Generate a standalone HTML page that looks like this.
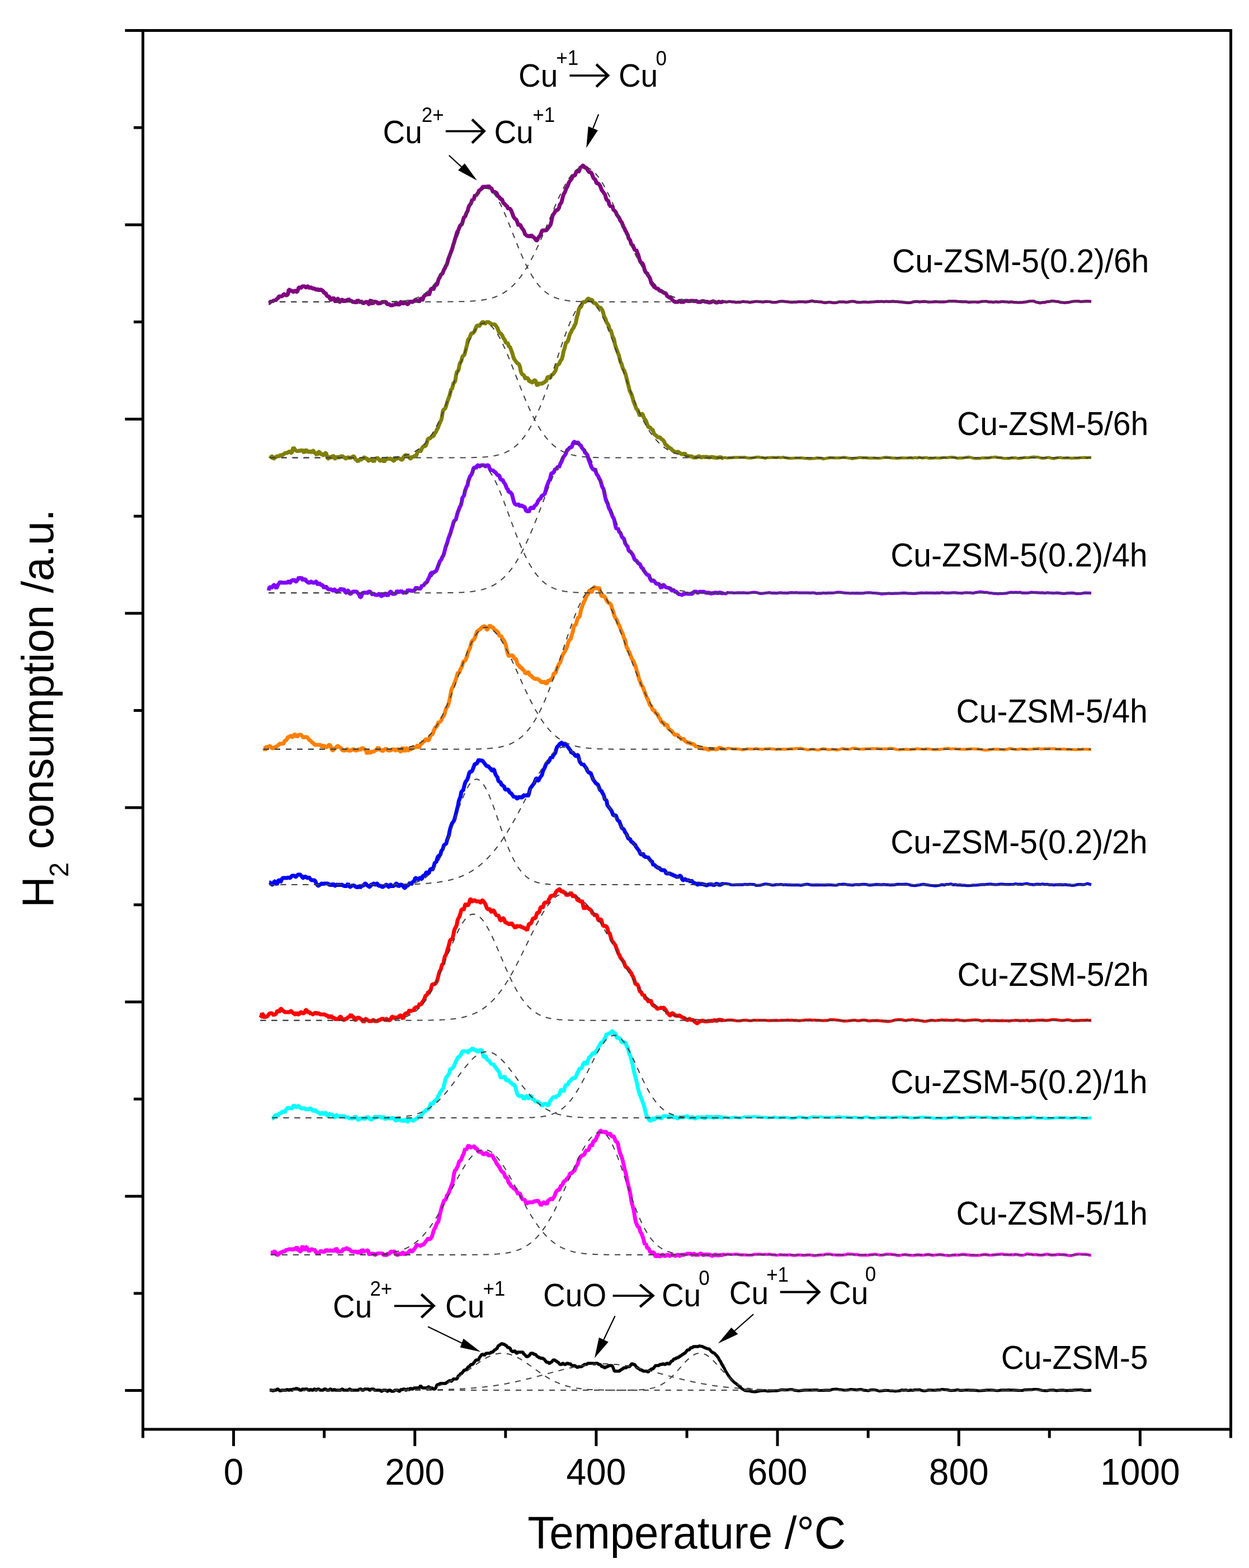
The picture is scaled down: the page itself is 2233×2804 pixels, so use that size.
<!DOCTYPE html>
<html><head><meta charset="utf-8"><title>H2-TPR profiles</title>
<style>html,body{margin:0;padding:0;background:#fff;}svg{display:block;}</style>
</head><body>
<svg width="2233" height="2804" viewBox="0 0 2233 2804">
<rect width="100%" height="100%" fill="#fff"/>
<g fill="none" stroke-width="7" stroke-linejoin="bevel" stroke-linecap="butt">
<path d="M480.3 542.0L481.8 542.0L483.3 540.0L484.8 538.0L486.3 540.0L487.8 538.0L489.3 538.0L490.8 536.0L492.3 538.0L493.8 536.0L495.3 534.0L496.8 534.0L498.3 530.0L499.8 530.0L501.3 530.0L502.8 530.0L504.3 530.0L505.8 528.0L507.3 526.0L508.8 526.0L510.3 528.0L511.8 528.0L513.3 528.0L514.8 526.0L516.3 518.0L517.8 518.0L519.3 520.0L520.8 520.0L522.3 520.0L523.8 522.0L525.3 522.0L526.8 520.0L528.3 520.0L529.8 522.0L531.3 522.0L532.8 518.0L534.3 514.0L535.8 514.0L537.3 516.0L538.8 514.0L540.3 512.0L541.8 512.0L543.3 512.0L544.8 512.0L546.3 514.0L547.8 514.0L549.3 512.0L550.8 512.0L552.3 514.0L553.8 516.0L555.3 514.0L556.8 514.0L558.3 516.0L559.8 516.0L561.3 516.0L562.8 516.0L564.3 518.0L565.8 518.0L567.3 516.0L568.8 518.0L570.3 520.0L571.8 518.0L573.3 518.0L574.8 518.0L576.3 520.0L577.8 520.0L579.3 524.0L580.8 524.0L582.3 524.0L583.8 528.0L585.3 530.0L586.8 530.0L588.3 530.0L589.8 534.0L591.3 536.0L592.8 536.0L594.3 534.0L595.8 532.0L597.3 534.0L598.8 538.0L600.3 540.0L601.8 538.0L603.3 534.0L604.8 534.0L606.3 540.0L607.8 540.0L609.3 538.0L610.8 536.0L612.3 536.0L613.8 538.0L615.3 540.0L616.8 538.0L618.3 536.0L619.8 538.0L621.3 538.0L622.8 534.0L624.3 536.0L625.8 538.0L627.3 538.0L628.8 538.0L630.3 540.0L631.8 540.0L633.3 540.0L634.8 540.0L636.3 542.0L637.8 540.0L639.3 536.0L640.8 538.0L642.3 540.0L643.8 540.0L645.3 538.0L646.8 540.0L648.3 542.0L649.8 542.0L651.3 542.0L652.8 540.0L654.3 540.0L655.8 540.0L657.3 540.0L658.8 544.0L660.3 544.0L661.8 538.0L663.3 536.0L664.8 542.0L666.3 544.0L667.8 540.0L669.3 538.0L670.8 540.0L672.3 540.0L673.8 540.0L675.3 542.0L676.8 544.0L678.3 542.0L679.8 542.0L681.3 542.0L682.8 540.0L684.3 540.0L685.8 540.0L687.3 540.0L688.8 540.0L690.3 540.0L691.8 544.0L693.3 544.0L694.8 544.0L696.3 544.0L697.8 546.0L699.3 546.0L700.8 546.0L702.3 546.0L703.8 544.0L705.3 546.0L706.8 544.0L708.3 542.0L709.8 542.0L711.3 544.0L712.8 546.0L714.3 544.0L715.8 540.0L717.3 540.0L718.8 542.0L720.3 544.0L721.8 542.0L723.3 540.0L724.8 542.0L726.3 542.0L727.8 544.0L729.3 544.0L730.8 542.0L732.3 540.0L733.8 538.0L735.3 540.0L736.8 540.0L738.3 540.0L739.8 538.0L741.3 538.0L742.8 538.0L744.3 538.0L745.8 536.0L747.3 538.0L748.8 540.0L750.3 538.0L751.8 534.0L753.3 534.0L754.8 538.0L756.3 534.0L757.8 530.0L759.3 528.0L760.8 528.0L762.3 526.0L763.8 526.0L765.3 526.0L766.8 528.0L768.3 524.0L769.8 518.0L771.3 516.0L772.8 516.0L774.3 518.0L775.8 516.0L777.3 510.0L778.8 510.0L780.3 510.0L781.8 508.0L783.3 502.0L784.8 498.0L786.3 496.0L787.8 492.0L789.3 490.0L790.8 490.0L792.3 486.0L793.8 482.0L795.3 480.0L796.8 476.0L798.3 474.0L799.8 470.0L801.3 464.0L802.8 460.0L804.3 456.0L805.8 452.0L807.3 448.0L808.8 444.0L810.3 438.0L811.8 434.0L813.3 428.0L814.8 424.0L816.3 418.0L817.8 414.0L819.3 412.0L820.8 408.0L822.3 404.0L823.8 402.0L825.3 402.0L826.8 398.0L828.3 392.0L829.8 388.0L831.3 388.0L832.8 384.0L834.3 380.0L835.8 378.0L837.3 372.0L838.8 368.0L840.3 366.0L841.8 364.0L843.3 360.0L844.8 356.0L846.3 358.0L847.8 354.0L849.3 348.0L850.8 350.0L852.3 348.0L853.8 346.0L855.3 344.0L856.8 340.0L858.3 340.0L859.8 338.0L861.3 338.0L862.8 334.0L864.3 334.0L865.8 334.0L867.3 334.0L868.8 334.0L870.3 334.0L871.8 334.0L873.3 332.0L874.8 334.0L876.3 336.0L877.8 336.0L879.3 338.0L880.8 342.0L882.3 344.0L883.8 342.0L885.3 344.0L886.8 344.0L888.3 346.0L889.8 350.0L891.3 352.0L892.8 352.0L894.3 356.0L895.8 356.0L897.3 356.0L898.8 360.0L900.3 364.0L901.8 364.0L903.3 366.0L904.8 368.0L906.3 368.0L907.8 372.0L909.3 374.0L910.8 372.0L912.3 374.0L913.8 376.0L915.3 380.0L916.8 384.0L918.3 388.0L919.8 390.0L921.3 392.0L922.8 392.0L924.3 396.0L925.8 400.0L927.3 404.0L928.8 402.0L930.3 402.0L931.8 406.0L933.3 408.0L934.8 410.0L936.3 412.0L937.8 416.0L939.3 420.0L940.8 420.0L942.3 422.0L943.8 422.0L945.3 422.0L946.8 424.0L948.3 422.0L949.8 420.0L951.3 422.0L952.8 424.0L954.3 424.0L955.8 426.0L957.3 428.0L958.8 430.0L960.3 430.0L961.8 426.0L963.3 424.0L964.8 422.0L966.3 420.0L967.8 416.0L969.3 412.0L970.8 412.0L972.3 412.0L973.8 412.0L975.3 412.0L976.8 412.0L978.3 410.0L979.8 408.0L981.3 406.0L982.8 404.0L984.3 402.0L985.8 396.0L987.3 388.0L988.8 384.0L990.3 382.0L991.8 380.0L993.3 376.0L994.8 376.0L996.3 376.0L997.8 374.0L999.3 372.0L1000.8 366.0L1002.3 364.0L1003.8 362.0L1005.3 356.0L1006.8 350.0L1008.3 346.0L1009.8 344.0L1011.3 340.0L1012.8 336.0L1014.3 334.0L1015.8 330.0L1017.3 326.0L1018.8 324.0L1020.3 322.0L1021.8 320.0L1023.3 316.0L1024.8 314.0L1026.3 314.0L1027.8 314.0L1029.3 310.0L1030.8 306.0L1032.3 306.0L1033.8 308.0L1035.3 306.0L1036.8 302.0L1038.3 298.0L1039.8 300.0L1041.3 296.0L1042.8 296.0L1044.3 298.0L1045.8 300.0L1047.3 300.0L1048.8 300.0L1050.3 304.0L1051.8 306.0L1053.3 308.0L1054.8 308.0L1056.3 308.0L1057.8 310.0L1059.3 314.0L1060.8 318.0L1062.3 320.0L1063.8 320.0L1065.3 324.0L1066.8 328.0L1068.3 328.0L1069.8 328.0L1071.3 330.0L1072.8 332.0L1074.3 336.0L1075.8 340.0L1077.3 342.0L1078.8 344.0L1080.3 346.0L1081.8 348.0L1083.3 354.0L1084.8 358.0L1086.3 358.0L1087.8 360.0L1089.3 366.0L1090.8 368.0L1092.3 370.0L1093.8 368.0L1095.3 370.0L1096.8 376.0L1098.3 376.0L1099.8 378.0L1101.3 380.0L1102.8 384.0L1104.3 386.0L1105.8 388.0L1107.3 390.0L1108.8 394.0L1110.3 396.0L1111.8 398.0L1113.3 402.0L1114.8 406.0L1116.3 408.0L1117.8 412.0L1119.3 414.0L1120.8 418.0L1122.3 420.0L1123.8 426.0L1125.3 428.0L1126.8 430.0L1128.3 436.0L1129.8 438.0L1131.3 438.0L1132.8 442.0L1134.3 446.0L1135.8 448.0L1137.3 446.0L1138.8 450.0L1140.3 454.0L1141.8 458.0L1143.3 464.0L1144.8 468.0L1146.3 470.0L1147.8 470.0L1149.3 472.0L1150.8 476.0L1152.3 482.0L1153.8 486.0L1155.3 488.0L1156.8 488.0L1158.3 492.0L1159.8 494.0L1161.3 496.0L1162.8 500.0L1164.3 506.0L1165.8 508.0L1167.3 510.0L1168.8 512.0L1170.3 514.0L1171.8 514.0L1173.3 516.0L1174.8 516.0L1176.3 516.0L1177.8 518.0L1179.3 520.0L1180.8 520.0L1182.3 520.0L1183.8 522.0L1185.3 522.0L1186.8 524.0L1188.3 524.0L1189.8 524.0L1191.3 526.0L1192.8 530.0L1194.3 530.0L1195.8 532.0L1197.3 532.0L1198.8 532.0L1200.3 534.0L1201.8 536.0L1203.3 538.0L1204.8 538.0L1206.3 540.0L1207.8 540.0L1209.3 540.0L1210.8 540.0L1212.3 540.0L1213.8 538.0L1215.3 538.0L1216.8 540.0L1218.3 540.0L1219.8 540.0L1221.3 540.0L1222.8 540.0L1224.3 538.0L1225.8 538.0L1227.3 538.0L1228.8 538.0L1230.3 538.0L1231.8 540.0L1233.3 538.0L1234.8 538.0L1236.3 538.0L1237.8 538.0L1239.3 538.0L1240.8 538.0L1242.3 540.0L1243.8 538.0L1245.3 538.0L1246.8 540.0L1248.3 540.0L1249.8 540.0L1251.3 540.1L1252.8 540.0L1254.3 538.9L1255.8 538.5L1257.3 538.4L1258.8 538.9L1260.3 539.3L1261.8 539.7L1263.3 539.2L1264.8 539.7L1266.3 540.9L1267.8 540.7L1269.3 541.2L1270.8 540.0L1272.3 539.9L1273.8 538.8L1275.3 539.1L1276.8 539.2L1278.3 540.1L1279.8 540.9L1281.3 541.0L1282.8 540.9L1284.3 539.6L1285.8 539.7L1287.3 540.1L1288.8 540.4L1290.3 540.1L1291.8 539.5L1293.3 539.4" stroke="#800080" stroke-width="7"/>
<path d="M1290.3 540.1L1291.8 539.5L1293.3 539.4L1294.8 539.6L1296.3 539.4L1297.8 540.3L1299.3 540.0L1300.0 540.0L1304.0 539.0L1308.0 539.8L1312.0 539.9L1316.0 540.6L1320.0 540.2L1324.0 540.3L1328.0 539.2L1332.0 539.6L1336.0 539.8L1340.0 540.6L1344.0 540.1L1348.0 539.7L1352.0 539.0L1356.0 539.4L1360.0 539.7L1364.0 540.1L1368.0 539.4L1372.0 539.4L1376.0 539.5L1380.0 540.4L1384.0 540.7L1388.0 540.5L1392.0 539.4L1396.0 538.9L1400.0 538.8L1404.0 539.3L1408.0 539.6L1412.0 540.2L1416.0 540.3L1420.0 540.1L1424.0 540.1L1428.0 539.5L1432.0 539.6L1436.0 539.7L1440.0 540.1L1444.0 539.7L1448.0 538.9L1452.0 538.1L1456.0 539.3L1460.0 539.2L1464.0 539.8L1468.0 539.8L1472.0 540.9L1476.0 541.4L1480.0 540.5L1484.0 540.4L1488.0 541.1L1492.0 541.3L1496.0 541.1L1500.0 539.8L1504.0 539.8L1508.0 539.8L1512.0 540.4L1516.0 540.1L1520.0 539.4L1524.0 538.8L1528.0 539.3L1532.0 540.4L1536.0 540.7L1540.0 540.4L1544.0 540.0L1548.0 540.2L1552.0 540.5L1556.0 540.2L1560.0 540.0L1564.0 539.7L1568.0 539.1L1572.0 539.4L1576.0 539.0L1580.0 539.6L1584.0 539.0L1588.0 539.3L1592.0 539.4L1596.0 538.9L1600.0 539.3L1604.0 539.4L1608.0 540.0L1612.0 540.2L1616.0 540.6L1620.0 541.2L1624.0 541.5L1628.0 541.2L1632.0 540.0L1636.0 539.4L1640.0 539.2L1644.0 539.9L1648.0 539.5L1652.0 539.2L1656.0 539.5L1660.0 540.1L1664.0 540.0L1668.0 539.9L1672.0 539.4L1676.0 539.7L1680.0 539.8L1684.0 539.8L1688.0 539.8L1692.0 539.5L1696.0 538.7L1700.0 538.7L1704.0 538.5L1708.0 538.7L1712.0 539.1L1716.0 539.3L1720.0 539.7L1724.0 539.5L1728.0 539.7L1732.0 540.4L1736.0 540.1L1740.0 540.0L1744.0 540.0L1748.0 540.3L1752.0 539.8L1756.0 539.1L1760.0 539.0L1764.0 538.9L1768.0 540.0L1772.0 539.9L1776.0 540.4L1780.0 539.7L1784.0 540.2L1788.0 539.9L1792.0 539.3L1796.0 539.7L1800.0 539.8L1804.0 540.4L1808.0 539.8L1812.0 540.3L1816.0 540.6L1820.0 541.0L1824.0 540.8L1828.0 540.6L1832.0 540.2L1836.0 539.6L1840.0 538.7L1844.0 538.5L1848.0 538.4L1852.0 540.2L1856.0 540.9L1860.0 541.9L1864.0 540.6L1868.0 540.8L1872.0 539.6L1876.0 539.4L1880.0 538.2L1884.0 538.5L1888.0 539.1L1892.0 539.4L1896.0 540.6L1900.0 541.0L1904.0 541.4L1908.0 540.8L1912.0 540.3L1916.0 539.5L1920.0 538.8L1924.0 538.5L1928.0 538.6L1932.0 539.5L1936.0 539.2L1940.0 538.8L1944.0 538.6L1948.0 538.8L1951.0 539.4" stroke="#800080" stroke-width="5.2"/>
<path d="M482.6 820.0L484.1 818.0L485.6 816.0L487.1 816.0L488.6 820.0L490.1 820.0L491.6 818.0L493.1 818.0L494.6 816.0L496.1 816.0L497.6 816.0L499.1 816.0L500.6 814.0L502.1 814.0L503.6 814.0L505.1 814.0L506.6 812.0L508.1 812.0L509.6 810.0L511.1 810.0L512.6 810.0L514.1 810.0L515.6 808.0L517.1 808.0L518.6 806.0L520.1 810.0L521.6 810.0L523.1 804.0L524.6 800.0L526.1 802.0L527.6 804.0L529.1 806.0L530.6 806.0L532.1 808.0L533.6 806.0L535.1 806.0L536.6 806.0L538.1 806.0L539.6 804.0L541.1 806.0L542.6 808.0L544.1 810.0L545.6 806.0L547.1 804.0L548.6 806.0L550.1 808.0L551.6 808.0L553.1 808.0L554.6 806.0L556.1 808.0L557.6 810.0L559.1 806.0L560.6 806.0L562.1 810.0L563.6 810.0L565.1 812.0L566.6 814.0L568.1 810.0L569.6 808.0L571.1 808.0L572.6 812.0L574.1 812.0L575.6 812.0L577.1 814.0L578.6 814.0L580.1 812.0L581.6 810.0L583.1 810.0L584.6 816.0L586.1 820.0L587.6 820.0L589.1 818.0L590.6 816.0L592.1 818.0L593.6 818.0L595.1 814.0L596.6 816.0L598.1 820.0L599.6 820.0L601.1 818.0L602.6 816.0L604.1 818.0L605.6 818.0L607.1 818.0L608.6 816.0L610.1 816.0L611.6 816.0L613.1 816.0L614.6 818.0L616.1 818.0L617.6 820.0L619.1 820.0L620.6 818.0L622.1 818.0L623.6 818.0L625.1 820.0L626.6 818.0L628.1 818.0L629.6 818.0L631.1 816.0L632.6 816.0L634.1 818.0L635.6 822.0L637.1 822.0L638.6 824.0L640.1 826.0L641.6 822.0L643.1 822.0L644.6 822.0L646.1 822.0L647.6 820.0L649.1 820.0L650.6 818.0L652.1 818.0L653.6 820.0L655.1 820.0L656.6 820.0L658.1 824.0L659.6 824.0L661.1 822.0L662.6 822.0L664.1 822.0L665.6 824.0L667.1 824.0L668.6 826.0L670.1 822.0L671.6 820.0L673.1 820.0L674.6 818.0L676.1 820.0L677.6 822.0L679.1 824.0L680.6 824.0L682.1 822.0L683.6 822.0L685.1 824.0L686.6 826.0L688.1 824.0L689.6 822.0L691.1 820.0L692.6 820.0L694.1 820.0L695.6 822.0L697.1 820.0L698.6 820.0L700.1 822.0L701.6 822.0L703.1 824.0L704.6 824.0L706.1 822.0L707.6 820.0L709.1 820.0L710.6 820.0L712.1 818.0L713.6 820.0L715.1 820.0L716.6 822.0L718.1 822.0L719.6 822.0L721.1 818.0L722.6 816.0L724.1 814.0L725.6 814.0L727.1 814.0L728.6 816.0L730.1 816.0L731.6 818.0L733.1 820.0L734.6 820.0L736.1 818.0L737.6 816.0L739.1 818.0L740.6 816.0L742.1 814.0L743.6 816.0L745.1 812.0L746.6 808.0L748.1 806.0L749.6 806.0L751.1 808.0L752.6 806.0L754.1 802.0L755.6 800.0L757.1 798.0L758.6 798.0L760.1 798.0L761.6 796.0L763.1 792.0L764.6 786.0L766.1 784.0L767.6 784.0L769.1 784.0L770.6 782.0L772.1 780.0L773.6 780.0L775.1 780.0L776.6 776.0L778.1 774.0L779.6 772.0L781.1 768.0L782.6 766.0L784.1 762.0L785.6 758.0L787.1 754.0L788.6 752.0L790.1 746.0L791.6 736.0L793.1 732.0L794.6 732.0L796.1 730.0L797.6 726.0L799.1 720.0L800.6 716.0L802.1 712.0L803.6 708.0L805.1 702.0L806.6 696.0L808.1 696.0L809.6 690.0L811.1 684.0L812.6 684.0L814.1 680.0L815.6 670.0L817.1 664.0L818.6 664.0L820.1 660.0L821.6 652.0L823.1 648.0L824.6 646.0L826.1 640.0L827.6 636.0L829.1 636.0L830.6 634.0L832.1 628.0L833.6 622.0L835.1 616.0L836.6 608.0L838.1 606.0L839.6 604.0L841.1 600.0L842.6 596.0L844.1 596.0L845.6 596.0L847.1 594.0L848.6 592.0L850.1 588.0L851.6 584.0L853.1 582.0L854.6 582.0L856.1 584.0L857.6 582.0L859.1 580.0L860.6 578.0L862.1 576.0L863.6 576.0L865.1 576.0L866.6 580.0L868.1 578.0L869.6 576.0L871.1 576.0L872.6 576.0L874.1 576.0L875.6 578.0L877.1 578.0L878.6 580.0L880.1 580.0L881.6 580.0L883.1 580.0L884.6 580.0L886.1 582.0L887.6 584.0L889.1 586.0L890.6 590.0L892.1 594.0L893.6 596.0L895.1 596.0L896.6 598.0L898.1 600.0L899.6 604.0L901.1 606.0L902.6 608.0L904.1 612.0L905.6 614.0L907.1 612.0L908.6 616.0L910.1 620.0L911.6 620.0L913.1 624.0L914.6 628.0L916.1 632.0L917.6 638.0L919.1 642.0L920.6 644.0L922.1 646.0L923.6 648.0L925.1 650.0L926.6 650.0L928.1 652.0L929.6 656.0L931.1 664.0L932.6 668.0L934.1 670.0L935.6 670.0L937.1 672.0L938.6 676.0L940.1 678.0L941.6 676.0L943.1 676.0L944.6 678.0L946.1 682.0L947.6 682.0L949.1 682.0L950.6 684.0L952.1 684.0L953.6 682.0L955.1 680.0L956.6 680.0L958.1 682.0L959.6 688.0L961.1 690.0L962.6 686.0L964.1 686.0L965.6 686.0L967.1 686.0L968.6 686.0L970.1 686.0L971.6 684.0L973.1 684.0L974.6 682.0L976.1 682.0L977.6 678.0L979.1 674.0L980.6 674.0L982.1 676.0L983.6 676.0L985.1 672.0L986.6 670.0L988.1 670.0L989.6 668.0L991.1 666.0L992.6 664.0L994.1 660.0L995.6 654.0L997.1 652.0L998.6 652.0L1000.1 650.0L1001.6 646.0L1003.1 644.0L1004.6 642.0L1006.1 636.0L1007.6 628.0L1009.1 624.0L1010.6 618.0L1012.1 612.0L1013.6 612.0L1015.1 610.0L1016.6 606.0L1018.1 600.0L1019.6 596.0L1021.1 594.0L1022.6 590.0L1024.1 588.0L1025.6 586.0L1027.1 582.0L1028.6 580.0L1030.1 574.0L1031.6 566.0L1033.1 562.0L1034.6 554.0L1036.1 550.0L1037.6 550.0L1039.1 548.0L1040.6 544.0L1042.1 540.0L1043.6 540.0L1045.1 540.0L1046.6 540.0L1048.1 538.0L1049.6 536.0L1051.1 534.0L1052.6 534.0L1054.1 536.0L1055.6 536.0L1057.1 536.0L1058.6 536.0L1060.1 540.0L1061.6 542.0L1063.1 542.0L1064.6 542.0L1066.1 544.0L1067.6 546.0L1069.1 548.0L1070.6 550.0L1072.1 550.0L1073.6 550.0L1075.1 552.0L1076.6 554.0L1078.1 558.0L1079.6 564.0L1081.1 568.0L1082.6 570.0L1084.1 576.0L1085.6 578.0L1087.1 580.0L1088.6 584.0L1090.1 590.0L1091.6 590.0L1093.1 594.0L1094.6 600.0L1096.1 604.0L1097.6 606.0L1099.1 614.0L1100.6 620.0L1102.1 624.0L1103.6 628.0L1105.1 632.0L1106.6 636.0L1108.1 642.0L1109.6 648.0L1111.1 650.0L1112.6 656.0L1114.1 660.0L1115.6 662.0L1117.1 666.0L1118.6 670.0L1120.1 676.0L1121.6 682.0L1123.1 688.0L1124.6 694.0L1126.1 700.0L1127.6 702.0L1129.1 706.0L1130.6 710.0L1132.1 716.0L1133.6 720.0L1135.1 724.0L1136.6 728.0L1138.1 732.0L1139.6 732.0L1141.1 736.0L1142.6 740.0L1144.1 744.0L1145.6 742.0L1147.1 740.0L1148.6 740.0L1150.1 744.0L1151.6 748.0L1153.1 750.0L1154.6 752.0L1156.1 756.0L1157.6 760.0L1159.1 764.0L1160.6 764.0L1162.1 764.0L1163.6 766.0L1165.1 768.0L1166.6 768.0L1168.1 772.0L1169.6 776.0L1171.1 778.0L1172.6 778.0L1174.1 780.0L1175.6 782.0L1177.1 782.0L1178.6 782.0L1180.1 782.0L1181.6 784.0L1183.1 786.0L1184.6 786.0L1186.1 788.0L1187.6 790.0L1189.1 794.0L1190.6 796.0L1192.1 796.0L1193.6 798.0L1195.1 800.0L1196.6 800.0L1198.1 802.0L1199.6 802.0L1201.1 804.0L1202.6 806.0L1204.1 806.0L1205.6 808.0L1207.1 808.0L1208.6 810.0L1210.1 808.0L1211.6 808.0L1213.1 808.0L1214.6 810.0L1216.1 810.0L1217.6 812.0L1219.1 812.0L1220.6 812.0L1222.1 812.0L1223.6 810.0L1225.1 812.0L1226.6 814.0L1228.1 816.0L1229.6 814.0L1231.1 816.0L1232.6 816.0L1234.1 816.0L1235.6 816.0L1237.1 816.0L1238.6 818.0L1240.1 818.0L1241.6 818.0L1243.1 818.0L1244.6 818.0L1246.1 818.0L1247.6 816.0L1249.1 816.0L1250.6 816.2L1252.1 817.0L1253.6 818.3L1255.1 817.6L1256.6 817.0L1258.1 816.9L1259.6 817.4L1261.1 817.4L1262.6 816.9L1264.1 817.1L1265.6 817.6L1267.1 818.2L1268.6 817.7L1270.1 817.9L1271.6 817.1L1273.1 817.3L1274.6 817.5L1276.1 818.4L1277.6 817.8L1279.1 818.2L1280.6 818.9L1282.1 818.7L1283.6 818.4L1285.1 818.0L1286.6 817.7L1288.1 817.7L1289.6 817.9L1291.1 819.3L1292.6 819.2" stroke="#808000" stroke-width="7"/>
<path d="M1291.1 819.3L1292.6 819.2L1294.1 818.6L1295.6 818.1L1297.1 818.3L1298.6 819.0L1300.0 819.0L1304.0 818.7L1308.0 818.6L1312.0 817.9L1316.0 818.2L1320.0 817.8L1324.0 817.8L1328.0 817.9L1332.0 817.7L1336.0 818.9L1340.0 819.1L1344.0 819.0L1348.0 818.2L1352.0 817.6L1356.0 817.4L1360.0 818.2L1364.0 818.3L1368.0 819.4L1372.0 818.3L1376.0 818.4L1380.0 818.2L1384.0 818.2L1388.0 818.4L1392.0 817.7L1396.0 818.5L1400.0 817.6L1404.0 818.5L1408.0 819.1L1412.0 819.6L1416.0 819.3L1420.0 819.2L1424.0 819.0L1428.0 819.0L1432.0 818.8L1436.0 819.1L1440.0 819.7L1444.0 819.9L1448.0 820.5L1452.0 819.9L1456.0 819.9L1460.0 818.8L1464.0 819.1L1468.0 819.4L1472.0 820.7L1476.0 819.8L1480.0 819.1L1484.0 818.4L1488.0 818.6L1492.0 818.9L1496.0 818.8L1500.0 818.9L1504.0 818.5L1508.0 817.9L1512.0 818.3L1516.0 819.0L1520.0 819.4L1524.0 820.4L1528.0 819.3L1532.0 819.0L1536.0 818.2L1540.0 818.3L1544.0 818.7L1548.0 818.7L1552.0 819.2L1556.0 819.0L1560.0 819.1L1564.0 819.2L1568.0 819.5L1572.0 819.4L1576.0 819.0L1580.0 818.2L1584.0 817.9L1588.0 818.2L1592.0 818.6L1596.0 819.1L1600.0 819.1L1604.0 819.6L1608.0 819.2L1612.0 818.9L1616.0 818.8L1620.0 819.0L1624.0 818.9L1628.0 818.4L1632.0 819.3L1636.0 818.3L1640.0 818.9L1644.0 817.8L1648.0 819.1L1652.0 818.6L1656.0 818.3L1660.0 819.3L1664.0 819.2L1668.0 819.3L1672.0 818.7L1676.0 819.0L1680.0 819.1L1684.0 818.6L1688.0 818.0L1692.0 818.5L1696.0 818.1L1700.0 817.7L1704.0 817.7L1708.0 818.4L1712.0 819.5L1716.0 818.9L1720.0 819.1L1724.0 818.5L1728.0 817.8L1732.0 817.4L1736.0 818.2L1740.0 819.3L1744.0 820.0L1748.0 820.0L1752.0 819.7L1756.0 818.8L1760.0 818.8L1764.0 818.9L1768.0 818.9L1772.0 817.8L1776.0 817.7L1780.0 817.3L1784.0 818.1L1788.0 818.3L1792.0 819.1L1796.0 819.7L1800.0 819.6L1804.0 819.9L1808.0 818.7L1812.0 818.8L1816.0 818.6L1820.0 819.9L1824.0 819.4L1828.0 818.9L1832.0 818.1L1836.0 818.5L1840.0 818.3L1844.0 817.5L1848.0 817.1L1852.0 817.4L1856.0 817.6L1860.0 818.8L1864.0 819.3L1868.0 819.1L1872.0 818.2L1876.0 818.2L1880.0 819.5L1884.0 820.2L1888.0 819.1L1892.0 818.3L1896.0 818.4L1900.0 819.0L1904.0 819.0L1908.0 818.7L1912.0 819.0L1916.0 819.3L1920.0 819.2L1924.0 819.2L1928.0 818.9L1932.0 818.5L1936.0 818.3L1940.0 818.1L1944.0 818.6L1948.0 818.0L1951.0 818.5" stroke="#808000" stroke-width="5.2"/>
<path d="M480.3 1056.0L481.8 1050.0L483.3 1050.0L484.8 1052.0L486.3 1050.0L487.8 1048.0L489.3 1046.0L490.8 1046.0L492.3 1050.0L493.8 1052.0L495.3 1050.0L496.8 1046.0L498.3 1044.0L499.8 1042.0L501.3 1040.0L502.8 1042.0L504.3 1042.0L505.8 1042.0L507.3 1042.0L508.8 1042.0L510.3 1042.0L511.8 1042.0L513.3 1042.0L514.8 1040.0L516.3 1040.0L517.8 1042.0L519.3 1042.0L520.8 1038.0L522.3 1038.0L523.8 1038.0L525.3 1036.0L526.8 1038.0L528.3 1040.0L529.8 1040.0L531.3 1038.0L532.8 1036.0L534.3 1032.0L535.8 1034.0L537.3 1034.0L538.8 1032.0L540.3 1036.0L541.8 1038.0L543.3 1036.0L544.8 1036.0L546.3 1036.0L547.8 1040.0L549.3 1040.0L550.8 1042.0L552.3 1042.0L553.8 1042.0L555.3 1040.0L556.8 1040.0L558.3 1042.0L559.8 1042.0L561.3 1042.0L562.8 1042.0L564.3 1040.0L565.8 1040.0L567.3 1044.0L568.8 1046.0L570.3 1042.0L571.8 1044.0L573.3 1046.0L574.8 1046.0L576.3 1046.0L577.8 1048.0L579.3 1052.0L580.8 1050.0L582.3 1048.0L583.8 1050.0L585.3 1052.0L586.8 1054.0L588.3 1054.0L589.8 1054.0L591.3 1054.0L592.8 1054.0L594.3 1056.0L595.8 1056.0L597.3 1054.0L598.8 1054.0L600.3 1058.0L601.8 1058.0L603.3 1058.0L604.8 1056.0L606.3 1056.0L607.8 1054.0L609.3 1052.0L610.8 1054.0L612.3 1056.0L613.8 1054.0L615.3 1054.0L616.8 1058.0L618.3 1060.0L619.8 1060.0L621.3 1056.0L622.8 1056.0L624.3 1060.0L625.8 1062.0L627.3 1062.0L628.8 1060.0L630.3 1058.0L631.8 1058.0L633.3 1058.0L634.8 1058.0L636.3 1058.0L637.8 1058.0L639.3 1060.0L640.8 1062.0L642.3 1064.0L643.8 1068.0L645.3 1068.0L646.8 1064.0L648.3 1060.0L649.8 1060.0L651.3 1060.0L652.8 1060.0L654.3 1058.0L655.8 1062.0L657.3 1060.0L658.8 1058.0L660.3 1058.0L661.8 1058.0L663.3 1060.0L664.8 1062.0L666.3 1064.0L667.8 1062.0L669.3 1062.0L670.8 1064.0L672.3 1064.0L673.8 1064.0L675.3 1064.0L676.8 1062.0L678.3 1062.0L679.8 1064.0L681.3 1066.0L682.8 1066.0L684.3 1064.0L685.8 1064.0L687.3 1064.0L688.8 1062.0L690.3 1060.0L691.8 1064.0L693.3 1066.0L694.8 1062.0L696.3 1060.0L697.8 1058.0L699.3 1058.0L700.8 1062.0L702.3 1062.0L703.8 1062.0L705.3 1062.0L706.8 1062.0L708.3 1060.0L709.8 1056.0L711.3 1058.0L712.8 1060.0L714.3 1058.0L715.8 1058.0L717.3 1056.0L718.8 1058.0L720.3 1060.0L721.8 1060.0L723.3 1058.0L724.8 1060.0L726.3 1060.0L727.8 1058.0L729.3 1054.0L730.8 1056.0L732.3 1056.0L733.8 1056.0L735.3 1056.0L736.8 1058.0L738.3 1056.0L739.8 1056.0L741.3 1056.0L742.8 1052.0L744.3 1050.0L745.8 1052.0L747.3 1052.0L748.8 1052.0L750.3 1054.0L751.8 1052.0L753.3 1050.0L754.8 1046.0L756.3 1048.0L757.8 1046.0L759.3 1044.0L760.8 1042.0L762.3 1042.0L763.8 1040.0L765.3 1036.0L766.8 1034.0L768.3 1030.0L769.8 1026.0L771.3 1024.0L772.8 1024.0L774.3 1024.0L775.8 1024.0L777.3 1022.0L778.8 1022.0L780.3 1020.0L781.8 1016.0L783.3 1012.0L784.8 1008.0L786.3 1004.0L787.8 1002.0L789.3 1000.0L790.8 996.0L792.3 994.0L793.8 990.0L795.3 984.0L796.8 978.0L798.3 974.0L799.8 970.0L801.3 964.0L802.8 960.0L804.3 956.0L805.8 952.0L807.3 946.0L808.8 942.0L810.3 936.0L811.8 932.0L813.3 930.0L814.8 930.0L816.3 924.0L817.8 918.0L819.3 914.0L820.8 910.0L822.3 906.0L823.8 904.0L825.3 898.0L826.8 890.0L828.3 888.0L829.8 886.0L831.3 878.0L832.8 874.0L834.3 870.0L835.8 868.0L837.3 860.0L838.8 856.0L840.3 852.0L841.8 850.0L843.3 848.0L844.8 844.0L846.3 838.0L847.8 836.0L849.3 836.0L850.8 838.0L852.3 834.0L853.8 832.0L855.3 832.0L856.8 834.0L858.3 834.0L859.8 832.0L861.3 832.0L862.8 832.0L864.3 832.0L865.8 832.0L867.3 834.0L868.8 834.0L870.3 832.0L871.8 832.0L873.3 832.0L874.8 836.0L876.3 840.0L877.8 840.0L879.3 842.0L880.8 840.0L882.3 842.0L883.8 844.0L885.3 844.0L886.8 846.0L888.3 848.0L889.8 850.0L891.3 850.0L892.8 850.0L894.3 856.0L895.8 858.0L897.3 858.0L898.8 858.0L900.3 862.0L901.8 864.0L903.3 866.0L904.8 870.0L906.3 874.0L907.8 874.0L909.3 880.0L910.8 880.0L912.3 880.0L913.8 882.0L915.3 884.0L916.8 890.0L918.3 896.0L919.8 900.0L921.3 902.0L922.8 902.0L924.3 904.0L925.8 902.0L927.3 902.0L928.8 904.0L930.3 906.0L931.8 904.0L933.3 904.0L934.8 906.0L936.3 906.0L937.8 906.0L939.3 910.0L940.8 914.0L942.3 914.0L943.8 914.0L945.3 916.0L946.8 912.0L948.3 908.0L949.8 908.0L951.3 908.0L952.8 910.0L954.3 908.0L955.8 904.0L957.3 904.0L958.8 902.0L960.3 900.0L961.8 896.0L963.3 894.0L964.8 892.0L966.3 892.0L967.8 888.0L969.3 886.0L970.8 886.0L972.3 884.0L973.8 884.0L975.3 878.0L976.8 872.0L978.3 868.0L979.8 864.0L981.3 860.0L982.8 858.0L984.3 852.0L985.8 846.0L987.3 846.0L988.8 846.0L990.3 844.0L991.8 840.0L993.3 838.0L994.8 840.0L996.3 836.0L997.8 834.0L999.3 836.0L1000.8 832.0L1002.3 828.0L1003.8 826.0L1005.3 822.0L1006.8 818.0L1008.3 816.0L1009.8 814.0L1011.3 812.0L1012.8 808.0L1014.3 804.0L1015.8 804.0L1017.3 802.0L1018.8 800.0L1020.3 800.0L1021.8 800.0L1023.3 796.0L1024.8 792.0L1026.3 790.0L1027.8 790.0L1029.3 794.0L1030.8 792.0L1032.3 790.0L1033.8 792.0L1035.3 794.0L1036.8 796.0L1038.3 796.0L1039.8 800.0L1041.3 802.0L1042.8 804.0L1044.3 804.0L1045.8 810.0L1047.3 810.0L1048.8 812.0L1050.3 814.0L1051.8 820.0L1053.3 824.0L1054.8 828.0L1056.3 832.0L1057.8 836.0L1059.3 838.0L1060.8 840.0L1062.3 840.0L1063.8 838.0L1065.3 844.0L1066.8 848.0L1068.3 850.0L1069.8 852.0L1071.3 856.0L1072.8 858.0L1074.3 862.0L1075.8 868.0L1077.3 872.0L1078.8 874.0L1080.3 880.0L1081.8 888.0L1083.3 894.0L1084.8 898.0L1086.3 900.0L1087.8 906.0L1089.3 910.0L1090.8 912.0L1092.3 916.0L1093.8 920.0L1095.3 924.0L1096.8 926.0L1098.3 930.0L1099.8 938.0L1101.3 944.0L1102.8 946.0L1104.3 944.0L1105.8 948.0L1107.3 952.0L1108.8 952.0L1110.3 956.0L1111.8 960.0L1113.3 962.0L1114.8 962.0L1116.3 966.0L1117.8 972.0L1119.3 974.0L1120.8 976.0L1122.3 978.0L1123.8 984.0L1125.3 986.0L1126.8 986.0L1128.3 988.0L1129.8 990.0L1131.3 992.0L1132.8 996.0L1134.3 1000.0L1135.8 1002.0L1137.3 1002.0L1138.8 1004.0L1140.3 1006.0L1141.8 1008.0L1143.3 1008.0L1144.8 1010.0L1146.3 1014.0L1147.8 1016.0L1149.3 1016.0L1150.8 1020.0L1152.3 1022.0L1153.8 1024.0L1155.3 1026.0L1156.8 1028.0L1158.3 1028.0L1159.8 1028.0L1161.3 1032.0L1162.8 1036.0L1164.3 1038.0L1165.8 1040.0L1167.3 1038.0L1168.8 1038.0L1170.3 1040.0L1171.8 1042.0L1173.3 1044.0L1174.8 1044.0L1176.3 1044.0L1177.8 1044.0L1179.3 1046.0L1180.8 1050.0L1182.3 1052.0L1183.8 1048.0L1185.3 1046.0L1186.8 1046.0L1188.3 1048.0L1189.8 1050.0L1191.3 1050.0L1192.8 1052.0L1194.3 1050.0L1195.8 1052.0L1197.3 1052.0L1198.8 1052.0L1200.3 1056.0L1201.8 1056.0L1203.3 1054.0L1204.8 1056.0L1206.3 1058.0L1207.8 1058.0L1209.3 1058.0L1210.8 1060.0L1212.3 1062.0L1213.8 1062.0L1215.3 1064.0L1216.8 1062.0L1218.3 1064.0L1219.8 1064.0L1221.3 1062.0L1222.8 1062.0L1224.3 1062.0L1225.8 1062.0L1227.3 1060.0L1228.8 1062.0L1230.3 1062.0L1231.8 1062.0L1233.3 1062.0L1234.8 1062.0L1236.3 1062.0L1237.8 1062.0L1239.3 1060.0L1240.8 1058.0L1242.3 1058.0L1243.8 1058.0L1245.3 1058.0L1246.8 1060.0L1248.3 1060.0L1249.8 1058.0L1251.3 1058.3L1252.8 1058.3L1254.3 1058.5L1255.8 1058.7L1257.3 1057.8L1258.8 1058.7L1260.3 1058.8L1261.8 1059.9L1263.3 1060.1L1264.8 1060.2L1266.3 1059.8L1267.8 1059.9L1269.3 1060.8L1270.8 1061.4L1272.3 1061.2L1273.8 1060.6L1275.3 1060.8L1276.8 1060.0L1278.3 1060.3L1279.8 1059.2L1281.3 1060.5L1282.8 1060.1L1284.3 1060.6L1285.8 1059.5L1287.3 1059.7L1288.8 1060.0L1290.3 1061.3L1291.8 1060.7L1293.3 1060.1" stroke="#8000FF" stroke-width="7"/>
<path d="M1290.3 1061.3L1291.8 1060.7L1293.3 1060.1L1294.8 1061.1L1296.3 1062.0L1297.8 1062.2L1299.3 1060.8L1300.0 1059.3L1304.0 1060.0L1308.0 1059.9L1312.0 1060.4L1316.0 1060.2L1320.0 1059.9L1324.0 1060.1L1328.0 1059.8L1332.0 1060.2L1336.0 1060.5L1340.0 1060.2L1344.0 1059.5L1348.0 1059.1L1352.0 1059.5L1356.0 1060.6L1360.0 1061.4L1364.0 1061.2L1368.0 1060.5L1372.0 1060.2L1376.0 1059.7L1380.0 1060.6L1384.0 1060.4L1388.0 1060.9L1392.0 1060.2L1396.0 1059.9L1400.0 1060.5L1404.0 1060.4L1408.0 1060.6L1412.0 1059.9L1416.0 1059.7L1420.0 1060.0L1424.0 1059.6L1428.0 1060.2L1432.0 1060.2L1436.0 1060.0L1440.0 1060.2L1444.0 1060.2L1448.0 1060.4L1452.0 1060.1L1456.0 1060.2L1460.0 1061.4L1464.0 1060.9L1468.0 1061.1L1472.0 1060.3L1476.0 1060.9L1480.0 1060.4L1484.0 1060.4L1488.0 1060.4L1492.0 1060.0L1496.0 1059.2L1500.0 1059.0L1504.0 1059.3L1508.0 1060.2L1512.0 1060.4L1516.0 1060.5L1520.0 1061.0L1524.0 1060.7L1528.0 1060.8L1532.0 1060.7L1536.0 1060.9L1540.0 1060.9L1544.0 1060.6L1548.0 1060.0L1552.0 1059.8L1556.0 1059.8L1560.0 1060.5L1564.0 1060.5L1568.0 1060.8L1572.0 1061.3L1576.0 1062.3L1580.0 1062.0L1584.0 1061.7L1588.0 1061.0L1592.0 1061.3L1596.0 1061.3L1600.0 1061.2L1604.0 1061.2L1608.0 1061.0L1612.0 1060.7L1616.0 1060.4L1620.0 1060.6L1624.0 1061.2L1628.0 1061.2L1632.0 1061.3L1636.0 1061.4L1640.0 1060.9L1644.0 1060.5L1648.0 1060.1L1652.0 1060.5L1656.0 1060.2L1660.0 1060.4L1664.0 1060.3L1668.0 1060.3L1672.0 1060.7L1676.0 1060.2L1680.0 1060.6L1684.0 1059.6L1688.0 1060.1L1692.0 1060.4L1696.0 1060.3L1700.0 1060.2L1704.0 1059.9L1708.0 1059.9L1712.0 1060.4L1716.0 1060.5L1720.0 1060.8L1724.0 1060.0L1728.0 1059.8L1732.0 1060.0L1736.0 1060.1L1740.0 1060.7L1744.0 1059.6L1748.0 1059.0L1752.0 1058.4L1756.0 1058.6L1760.0 1059.5L1764.0 1059.3L1768.0 1060.3L1772.0 1060.5L1776.0 1061.3L1780.0 1061.4L1784.0 1061.8L1788.0 1061.4L1792.0 1061.5L1796.0 1061.2L1800.0 1060.8L1804.0 1059.8L1808.0 1059.1L1812.0 1059.6L1816.0 1059.1L1820.0 1059.7L1824.0 1059.2L1828.0 1060.4L1832.0 1060.4L1836.0 1060.4L1840.0 1060.1L1844.0 1059.1L1848.0 1059.5L1852.0 1059.7L1856.0 1059.9L1860.0 1060.1L1864.0 1059.9L1868.0 1060.7L1872.0 1059.8L1876.0 1060.1L1880.0 1060.3L1884.0 1060.8L1888.0 1060.2L1892.0 1060.3L1896.0 1060.8L1900.0 1061.3L1904.0 1061.4L1908.0 1060.7L1912.0 1060.6L1916.0 1060.3L1920.0 1060.6L1924.0 1061.7L1928.0 1061.7L1932.0 1061.5L1936.0 1060.7L1940.0 1060.1L1944.0 1060.4L1948.0 1060.4L1951.0 1060.8" stroke="#8000FF" stroke-width="5.2"/>
<path d="M471.0 1338.0L472.5 1338.0L474.0 1342.0L475.5 1338.0L477.0 1334.0L478.5 1336.0L480.0 1336.0L481.5 1334.0L483.0 1334.0L484.5 1336.0L486.0 1338.0L487.5 1338.0L489.0 1338.0L490.5 1336.0L492.0 1336.0L493.5 1336.0L495.0 1334.0L496.5 1334.0L498.0 1332.0L499.5 1330.0L501.0 1330.0L502.5 1330.0L504.0 1330.0L505.5 1330.0L507.0 1330.0L508.5 1326.0L510.0 1324.0L511.5 1324.0L513.0 1322.0L514.5 1318.0L516.0 1318.0L517.5 1318.0L519.0 1316.0L520.5 1316.0L522.0 1318.0L523.5 1318.0L525.0 1316.0L526.5 1312.0L528.0 1314.0L529.5 1316.0L531.0 1318.0L532.5 1316.0L534.0 1314.0L535.5 1314.0L537.0 1314.0L538.5 1314.0L540.0 1316.0L541.5 1318.0L543.0 1320.0L544.5 1318.0L546.0 1318.0L547.5 1318.0L549.0 1318.0L550.5 1320.0L552.0 1322.0L553.5 1324.0L555.0 1324.0L556.5 1326.0L558.0 1328.0L559.5 1328.0L561.0 1330.0L562.5 1332.0L564.0 1332.0L565.5 1332.0L567.0 1332.0L568.5 1332.0L570.0 1332.0L571.5 1332.0L573.0 1332.0L574.5 1334.0L576.0 1336.0L577.5 1334.0L579.0 1332.0L580.5 1336.0L582.0 1336.0L583.5 1336.0L585.0 1336.0L586.5 1334.0L588.0 1332.0L589.5 1332.0L591.0 1334.0L592.5 1338.0L594.0 1342.0L595.5 1342.0L597.0 1340.0L598.5 1338.0L600.0 1338.0L601.5 1336.0L603.0 1334.0L604.5 1334.0L606.0 1336.0L607.5 1336.0L609.0 1338.0L610.5 1338.0L612.0 1342.0L613.5 1342.0L615.0 1342.0L616.5 1342.0L618.0 1342.0L619.5 1340.0L621.0 1340.0L622.5 1340.0L624.0 1344.0L625.5 1342.0L627.0 1342.0L628.5 1342.0L630.0 1340.0L631.5 1340.0L633.0 1340.0L634.5 1342.0L636.0 1342.0L637.5 1342.0L639.0 1342.0L640.5 1340.0L642.0 1340.0L643.5 1342.0L645.0 1340.0L646.5 1338.0L648.0 1338.0L649.5 1338.0L651.0 1340.0L652.5 1340.0L654.0 1342.0L655.5 1346.0L657.0 1348.0L658.5 1344.0L660.0 1344.0L661.5 1346.0L663.0 1346.0L664.5 1344.0L666.0 1344.0L667.5 1344.0L669.0 1344.0L670.5 1342.0L672.0 1342.0L673.5 1340.0L675.0 1338.0L676.5 1336.0L678.0 1340.0L679.5 1342.0L681.0 1340.0L682.5 1342.0L684.0 1344.0L685.5 1342.0L687.0 1340.0L688.5 1340.0L690.0 1338.0L691.5 1340.0L693.0 1342.0L694.5 1342.0L696.0 1342.0L697.5 1342.0L699.0 1342.0L700.5 1340.0L702.0 1340.0L703.5 1340.0L705.0 1340.0L706.5 1342.0L708.0 1342.0L709.5 1340.0L711.0 1340.0L712.5 1340.0L714.0 1342.0L715.5 1344.0L717.0 1344.0L718.5 1340.0L720.0 1336.0L721.5 1340.0L723.0 1344.0L724.5 1342.0L726.0 1338.0L727.5 1338.0L729.0 1342.0L730.5 1342.0L732.0 1340.0L733.5 1340.0L735.0 1340.0L736.5 1338.0L738.0 1336.0L739.5 1336.0L741.0 1338.0L742.5 1336.0L744.0 1338.0L745.5 1334.0L747.0 1332.0L748.5 1336.0L750.0 1336.0L751.5 1332.0L753.0 1330.0L754.5 1330.0L756.0 1326.0L757.5 1326.0L759.0 1326.0L760.5 1322.0L762.0 1322.0L763.5 1322.0L765.0 1324.0L766.5 1324.0L768.0 1320.0L769.5 1316.0L771.0 1314.0L772.5 1314.0L774.0 1312.0L775.5 1306.0L777.0 1304.0L778.5 1300.0L780.0 1300.0L781.5 1298.0L783.0 1294.0L784.5 1290.0L786.0 1292.0L787.5 1290.0L789.0 1288.0L790.5 1284.0L792.0 1282.0L793.5 1280.0L795.0 1276.0L796.5 1270.0L798.0 1266.0L799.5 1264.0L801.0 1262.0L802.5 1256.0L804.0 1250.0L805.5 1242.0L807.0 1234.0L808.5 1230.0L810.0 1228.0L811.5 1224.0L813.0 1220.0L814.5 1216.0L816.0 1212.0L817.5 1206.0L819.0 1202.0L820.5 1204.0L822.0 1200.0L823.5 1196.0L825.0 1194.0L826.5 1190.0L828.0 1184.0L829.5 1182.0L831.0 1182.0L832.5 1180.0L834.0 1176.0L835.5 1172.0L837.0 1166.0L838.5 1162.0L840.0 1160.0L841.5 1154.0L843.0 1148.0L844.5 1146.0L846.0 1144.0L847.5 1144.0L849.0 1140.0L850.5 1136.0L852.0 1132.0L853.5 1128.0L855.0 1128.0L856.5 1126.0L858.0 1126.0L859.5 1124.0L861.0 1122.0L862.5 1122.0L864.0 1120.0L865.5 1120.0L867.0 1120.0L868.5 1122.0L870.0 1126.0L871.5 1126.0L873.0 1122.0L874.5 1120.0L876.0 1118.0L877.5 1120.0L879.0 1122.0L880.5 1122.0L882.0 1122.0L883.5 1126.0L885.0 1126.0L886.5 1128.0L888.0 1128.0L889.5 1130.0L891.0 1132.0L892.5 1136.0L894.0 1138.0L895.5 1136.0L897.0 1140.0L898.5 1142.0L900.0 1144.0L901.5 1146.0L903.0 1150.0L904.5 1154.0L906.0 1162.0L907.5 1168.0L909.0 1172.0L910.5 1174.0L912.0 1172.0L913.5 1172.0L915.0 1172.0L916.5 1172.0L918.0 1174.0L919.5 1178.0L921.0 1178.0L922.5 1178.0L924.0 1184.0L925.5 1188.0L927.0 1190.0L928.5 1190.0L930.0 1194.0L931.5 1194.0L933.0 1194.0L934.5 1198.0L936.0 1198.0L937.5 1200.0L939.0 1204.0L940.5 1204.0L942.0 1204.0L943.5 1202.0L945.0 1202.0L946.5 1206.0L948.0 1208.0L949.5 1208.0L951.0 1210.0L952.5 1212.0L954.0 1212.0L955.5 1214.0L957.0 1214.0L958.5 1214.0L960.0 1214.0L961.5 1214.0L963.0 1216.0L964.5 1216.0L966.0 1218.0L967.5 1220.0L969.0 1220.0L970.5 1220.0L972.0 1218.0L973.5 1220.0L975.0 1222.0L976.5 1222.0L978.0 1222.0L979.5 1218.0L981.0 1216.0L982.5 1218.0L984.0 1216.0L985.5 1214.0L987.0 1214.0L988.5 1210.0L990.0 1204.0L991.5 1204.0L993.0 1204.0L994.5 1200.0L996.0 1194.0L997.5 1192.0L999.0 1188.0L1000.5 1186.0L1002.0 1184.0L1003.5 1178.0L1005.0 1174.0L1006.5 1170.0L1008.0 1168.0L1009.5 1166.0L1011.0 1162.0L1012.5 1160.0L1014.0 1156.0L1015.5 1150.0L1017.0 1146.0L1018.5 1144.0L1020.0 1144.0L1021.5 1138.0L1023.0 1134.0L1024.5 1128.0L1026.0 1120.0L1027.5 1118.0L1029.0 1118.0L1030.5 1114.0L1032.0 1108.0L1033.5 1104.0L1035.0 1104.0L1036.5 1102.0L1038.0 1094.0L1039.5 1088.0L1041.0 1084.0L1042.5 1080.0L1044.0 1076.0L1045.5 1074.0L1047.0 1070.0L1048.5 1066.0L1050.0 1064.0L1051.5 1062.0L1053.0 1056.0L1054.5 1056.0L1056.0 1058.0L1057.5 1060.0L1059.0 1056.0L1060.5 1052.0L1062.0 1050.0L1063.5 1050.0L1065.0 1052.0L1066.5 1052.0L1068.0 1052.0L1069.5 1052.0L1071.0 1050.0L1072.5 1056.0L1074.0 1062.0L1075.5 1066.0L1077.0 1066.0L1078.5 1066.0L1080.0 1066.0L1081.5 1068.0L1083.0 1070.0L1084.5 1074.0L1086.0 1076.0L1087.5 1078.0L1089.0 1078.0L1090.5 1080.0L1092.0 1080.0L1093.5 1086.0L1095.0 1090.0L1096.5 1094.0L1098.0 1100.0L1099.5 1104.0L1101.0 1106.0L1102.5 1108.0L1104.0 1112.0L1105.5 1116.0L1107.0 1118.0L1108.5 1122.0L1110.0 1126.0L1111.5 1130.0L1113.0 1132.0L1114.5 1138.0L1116.0 1142.0L1117.5 1144.0L1119.0 1152.0L1120.5 1158.0L1122.0 1160.0L1123.5 1164.0L1125.0 1166.0L1126.5 1170.0L1128.0 1174.0L1129.5 1178.0L1131.0 1180.0L1132.5 1182.0L1134.0 1186.0L1135.5 1190.0L1137.0 1194.0L1138.5 1200.0L1140.0 1204.0L1141.5 1210.0L1143.0 1216.0L1144.5 1218.0L1146.0 1224.0L1147.5 1226.0L1149.0 1228.0L1150.5 1232.0L1152.0 1236.0L1153.5 1240.0L1155.0 1244.0L1156.5 1248.0L1158.0 1250.0L1159.5 1254.0L1161.0 1258.0L1162.5 1262.0L1164.0 1262.0L1165.5 1266.0L1167.0 1270.0L1168.5 1270.0L1170.0 1270.0L1171.5 1274.0L1173.0 1276.0L1174.5 1276.0L1176.0 1278.0L1177.5 1282.0L1179.0 1284.0L1180.5 1286.0L1182.0 1290.0L1183.5 1292.0L1185.0 1292.0L1186.5 1292.0L1188.0 1296.0L1189.5 1298.0L1191.0 1296.0L1192.5 1296.0L1194.0 1300.0L1195.5 1304.0L1197.0 1304.0L1198.5 1306.0L1200.0 1306.0L1201.5 1308.0L1203.0 1310.0L1204.5 1312.0L1206.0 1314.0L1207.5 1314.0L1209.0 1314.0L1210.5 1314.0L1212.0 1314.0L1213.5 1318.0L1215.0 1318.0L1216.5 1320.0L1218.0 1322.0L1219.5 1322.0L1221.0 1320.0L1222.5 1322.0L1224.0 1324.0L1225.5 1326.0L1227.0 1326.0L1228.5 1328.0L1230.0 1328.0L1231.5 1328.0L1233.0 1328.0L1234.5 1330.0L1236.0 1330.0L1237.5 1330.0L1239.0 1330.0L1240.5 1332.0L1242.0 1332.0L1243.5 1334.0L1245.0 1336.0L1246.5 1334.0L1248.0 1336.0L1249.5 1336.0L1251.0 1337.4L1252.5 1337.9L1254.0 1337.2L1255.5 1338.6L1257.0 1338.4L1258.5 1339.2L1260.0 1338.6L1261.5 1338.9L1263.0 1338.8L1264.5 1339.9L1266.0 1340.9L1267.5 1340.4L1269.0 1340.2L1270.5 1338.8L1272.0 1339.4L1273.5 1339.5L1275.0 1339.2L1276.5 1339.2L1278.0 1339.2L1279.5 1340.2L1281.0 1339.9L1282.5 1339.6L1284.0 1338.6L1285.5 1337.4L1287.0 1337.0L1288.5 1337.8L1290.0 1338.7L1291.5 1338.7L1293.0 1338.4" stroke="#FF8000" stroke-width="7"/>
<path d="M1290.0 1338.7L1291.5 1338.7L1293.0 1338.4L1294.5 1338.8L1296.0 1340.3L1297.5 1339.9L1299.0 1339.5L1300.0 1338.0L1304.0 1338.2L1308.0 1338.8L1312.0 1339.3L1316.0 1339.1L1320.0 1339.3L1324.0 1340.1L1328.0 1341.0L1332.0 1340.1L1336.0 1339.1L1340.0 1339.3L1344.0 1339.3L1348.0 1339.5L1352.0 1338.5L1356.0 1339.6L1360.0 1339.6L1364.0 1340.1L1368.0 1339.1L1372.0 1339.1L1376.0 1338.7L1380.0 1339.4L1384.0 1339.4L1388.0 1340.4L1392.0 1339.5L1396.0 1339.9L1400.0 1339.7L1404.0 1339.8L1408.0 1339.7L1412.0 1339.1L1416.0 1339.1L1420.0 1338.8L1424.0 1338.3L1428.0 1338.6L1432.0 1338.2L1436.0 1339.2L1440.0 1339.9L1444.0 1341.0L1448.0 1340.5L1452.0 1339.8L1456.0 1340.1L1460.0 1340.9L1464.0 1341.2L1468.0 1339.6L1472.0 1338.9L1476.0 1339.6L1480.0 1340.6L1484.0 1340.5L1488.0 1339.7L1492.0 1340.5L1496.0 1341.1L1500.0 1340.6L1504.0 1339.2L1508.0 1338.7L1512.0 1339.7L1516.0 1339.9L1520.0 1339.6L1524.0 1338.1L1528.0 1338.2L1532.0 1338.6L1536.0 1339.9L1540.0 1339.5L1544.0 1339.6L1548.0 1339.0L1552.0 1339.0L1556.0 1338.9L1560.0 1338.6L1564.0 1339.0L1568.0 1338.4L1572.0 1339.0L1576.0 1339.2L1580.0 1339.4L1584.0 1339.1L1588.0 1338.8L1592.0 1338.1L1596.0 1338.3L1600.0 1339.4L1604.0 1340.5L1608.0 1341.0L1612.0 1340.2L1616.0 1340.1L1620.0 1339.8L1624.0 1340.1L1628.0 1340.3L1632.0 1339.8L1636.0 1339.6L1640.0 1338.7L1644.0 1339.5L1648.0 1339.5L1652.0 1340.0L1656.0 1339.0L1660.0 1339.2L1664.0 1339.8L1668.0 1340.5L1672.0 1340.7L1676.0 1340.0L1680.0 1340.2L1684.0 1339.7L1688.0 1339.0L1692.0 1338.7L1696.0 1338.3L1700.0 1339.4L1704.0 1339.0L1708.0 1339.0L1712.0 1339.5L1716.0 1339.6L1720.0 1340.0L1724.0 1339.9L1728.0 1339.9L1732.0 1339.4L1736.0 1339.1L1740.0 1339.2L1744.0 1339.4L1748.0 1339.4L1752.0 1340.0L1756.0 1340.7L1760.0 1341.3L1764.0 1341.3L1768.0 1341.0L1772.0 1340.4L1776.0 1339.5L1780.0 1339.9L1784.0 1339.6L1788.0 1340.3L1792.0 1340.5L1796.0 1340.8L1800.0 1339.9L1804.0 1338.9L1808.0 1338.7L1812.0 1339.8L1816.0 1340.1L1820.0 1340.2L1824.0 1339.2L1828.0 1339.5L1832.0 1339.6L1836.0 1340.3L1840.0 1339.8L1844.0 1340.0L1848.0 1339.1L1852.0 1339.2L1856.0 1338.7L1860.0 1339.2L1864.0 1339.6L1868.0 1338.9L1872.0 1339.0L1876.0 1338.6L1880.0 1339.0L1884.0 1338.9L1888.0 1339.3L1892.0 1339.6L1896.0 1339.6L1900.0 1339.7L1904.0 1339.5L1908.0 1340.2L1912.0 1340.0L1916.0 1340.5L1920.0 1340.3L1924.0 1340.7L1928.0 1340.2L1932.0 1340.5L1936.0 1339.6L1940.0 1340.0L1944.0 1339.8L1948.0 1340.2L1951.0 1340.1" stroke="#FF8000" stroke-width="5.2"/>
<path d="M481.4 1578.0L482.9 1578.0L484.4 1580.0L485.9 1582.0L487.4 1582.0L488.9 1580.0L490.4 1576.0L491.9 1576.0L493.4 1580.0L494.9 1582.0L496.4 1578.0L497.9 1574.0L499.4 1574.0L500.9 1578.0L502.4 1576.0L503.9 1572.0L505.4 1570.0L506.9 1570.0L508.4 1570.0L509.9 1570.0L511.4 1570.0L512.9 1570.0L514.4 1570.0L515.9 1568.0L517.4 1570.0L518.9 1570.0L520.4 1568.0L521.9 1566.0L523.4 1566.0L524.9 1566.0L526.4 1566.0L527.9 1568.0L529.4 1568.0L530.9 1566.0L532.4 1564.0L533.9 1564.0L535.4 1564.0L536.9 1564.0L538.4 1566.0L539.9 1568.0L541.4 1570.0L542.9 1570.0L544.4 1566.0L545.9 1568.0L547.4 1568.0L548.9 1570.0L550.4 1570.0L551.9 1568.0L553.4 1570.0L554.9 1572.0L556.4 1574.0L557.9 1574.0L559.4 1574.0L560.9 1574.0L562.4 1574.0L563.9 1576.0L565.4 1580.0L566.9 1582.0L568.4 1584.0L569.9 1584.0L571.4 1582.0L572.9 1582.0L574.4 1580.0L575.9 1580.0L577.4 1582.0L578.9 1580.0L580.4 1580.0L581.9 1580.0L583.4 1580.0L584.9 1580.0L586.4 1580.0L587.9 1582.0L589.4 1582.0L590.9 1582.0L592.4 1584.0L593.9 1582.0L595.4 1580.0L596.9 1582.0L598.4 1584.0L599.9 1584.0L601.4 1582.0L602.9 1582.0L604.4 1584.0L605.9 1582.0L607.4 1582.0L608.9 1584.0L610.4 1582.0L611.9 1582.0L613.4 1584.0L614.9 1584.0L616.4 1584.0L617.9 1586.0L619.4 1584.0L620.9 1582.0L622.4 1580.0L623.9 1584.0L625.4 1586.0L626.9 1586.0L628.4 1584.0L629.9 1584.0L631.4 1582.0L632.9 1584.0L634.4 1584.0L635.9 1586.0L637.4 1586.0L638.9 1588.0L640.4 1586.0L641.9 1584.0L643.4 1588.0L644.9 1586.0L646.4 1584.0L647.9 1584.0L649.4 1584.0L650.9 1582.0L652.4 1580.0L653.9 1580.0L655.4 1582.0L656.9 1584.0L658.4 1584.0L659.9 1586.0L661.4 1586.0L662.9 1582.0L664.4 1582.0L665.9 1582.0L667.4 1580.0L668.9 1580.0L670.4 1582.0L671.9 1582.0L673.4 1580.0L674.9 1580.0L676.4 1584.0L677.9 1584.0L679.4 1584.0L680.9 1584.0L682.4 1586.0L683.9 1586.0L685.4 1586.0L686.9 1584.0L688.4 1584.0L689.9 1582.0L691.4 1582.0L692.9 1584.0L694.4 1586.0L695.9 1586.0L697.4 1582.0L698.9 1582.0L700.4 1584.0L701.9 1586.0L703.4 1584.0L704.9 1584.0L706.4 1582.0L707.9 1580.0L709.4 1580.0L710.9 1582.0L712.4 1586.0L713.9 1584.0L715.4 1582.0L716.9 1582.0L718.4 1582.0L719.9 1584.0L721.4 1586.0L722.9 1588.0L724.4 1588.0L725.9 1584.0L727.4 1584.0L728.9 1584.0L730.4 1582.0L731.9 1580.0L733.4 1578.0L734.9 1582.0L736.4 1580.0L737.9 1576.0L739.4 1578.0L740.9 1574.0L742.4 1570.0L743.9 1570.0L745.4 1572.0L746.9 1572.0L748.4 1572.0L749.9 1570.0L751.4 1570.0L752.9 1572.0L754.4 1572.0L755.9 1566.0L757.4 1566.0L758.9 1566.0L760.4 1564.0L761.9 1560.0L763.4 1560.0L764.9 1562.0L766.4 1562.0L767.9 1558.0L769.4 1554.0L770.9 1554.0L772.4 1556.0L773.9 1554.0L775.4 1550.0L776.9 1544.0L778.4 1542.0L779.9 1542.0L781.4 1536.0L782.9 1532.0L784.4 1530.0L785.9 1530.0L787.4 1528.0L788.9 1522.0L790.4 1520.0L791.9 1518.0L793.4 1512.0L794.9 1510.0L796.4 1510.0L797.9 1508.0L799.4 1502.0L800.9 1498.0L802.4 1494.0L803.9 1486.0L805.4 1480.0L806.9 1476.0L808.4 1472.0L809.9 1470.0L811.4 1468.0L812.9 1464.0L814.4 1458.0L815.9 1452.0L817.4 1446.0L818.9 1440.0L820.4 1432.0L821.9 1428.0L823.4 1424.0L824.9 1416.0L826.4 1414.0L827.9 1414.0L829.4 1408.0L830.9 1402.0L832.4 1398.0L833.9 1396.0L835.4 1394.0L836.9 1390.0L838.4 1384.0L839.9 1380.0L841.4 1380.0L842.9 1380.0L844.4 1378.0L845.9 1374.0L847.4 1370.0L848.9 1366.0L850.4 1366.0L851.9 1366.0L853.4 1364.0L854.9 1360.0L856.4 1358.0L857.9 1360.0L859.4 1360.0L860.9 1360.0L862.4 1360.0L863.9 1362.0L865.4 1364.0L866.9 1366.0L868.4 1368.0L869.9 1370.0L871.4 1370.0L872.9 1370.0L874.4 1372.0L875.9 1374.0L877.4 1374.0L878.9 1378.0L880.4 1378.0L881.9 1376.0L883.4 1376.0L884.9 1382.0L886.4 1386.0L887.9 1388.0L889.4 1390.0L890.9 1396.0L892.4 1398.0L893.9 1398.0L895.4 1400.0L896.9 1404.0L898.4 1404.0L899.9 1406.0L901.4 1406.0L902.9 1412.0L904.4 1412.0L905.9 1412.0L907.4 1412.0L908.9 1412.0L910.4 1416.0L911.9 1418.0L913.4 1418.0L914.9 1420.0L916.4 1422.0L917.9 1424.0L919.4 1426.0L920.9 1424.0L922.4 1426.0L923.9 1428.0L925.4 1428.0L926.9 1426.0L928.4 1424.0L929.9 1426.0L931.4 1426.0L932.9 1426.0L934.4 1426.0L935.9 1422.0L937.4 1422.0L938.9 1424.0L940.4 1422.0L941.9 1422.0L943.4 1424.0L944.9 1422.0L946.4 1416.0L947.9 1410.0L949.4 1408.0L950.9 1406.0L952.4 1404.0L953.9 1402.0L955.4 1400.0L956.9 1396.0L958.4 1392.0L959.9 1392.0L961.4 1396.0L962.9 1396.0L964.4 1392.0L965.9 1390.0L967.4 1388.0L968.9 1386.0L970.4 1380.0L971.9 1376.0L973.4 1374.0L974.9 1370.0L976.4 1366.0L977.9 1364.0L979.4 1364.0L980.9 1362.0L982.4 1360.0L983.9 1356.0L985.4 1354.0L986.9 1356.0L988.4 1352.0L989.9 1350.0L991.4 1348.0L992.9 1346.0L994.4 1340.0L995.9 1336.0L997.4 1334.0L998.9 1334.0L1000.4 1330.0L1001.9 1330.0L1003.4 1328.0L1004.9 1328.0L1006.4 1332.0L1007.9 1332.0L1009.4 1330.0L1010.9 1330.0L1012.4 1332.0L1013.9 1334.0L1015.4 1336.0L1016.9 1338.0L1018.4 1340.0L1019.9 1342.0L1021.4 1346.0L1022.9 1346.0L1024.4 1346.0L1025.9 1348.0L1027.4 1350.0L1028.9 1352.0L1030.4 1352.0L1031.9 1350.0L1033.4 1350.0L1034.9 1356.0L1036.4 1362.0L1037.9 1364.0L1039.4 1366.0L1040.9 1368.0L1042.4 1366.0L1043.9 1368.0L1045.4 1370.0L1046.9 1372.0L1048.4 1374.0L1049.9 1378.0L1051.4 1380.0L1052.9 1382.0L1054.4 1382.0L1055.9 1382.0L1057.4 1386.0L1058.9 1390.0L1060.4 1394.0L1061.9 1396.0L1063.4 1398.0L1064.9 1400.0L1066.4 1402.0L1067.9 1402.0L1069.4 1404.0L1070.9 1408.0L1072.4 1412.0L1073.9 1414.0L1075.4 1414.0L1076.9 1418.0L1078.4 1420.0L1079.9 1424.0L1081.4 1430.0L1082.9 1430.0L1084.4 1432.0L1085.9 1440.0L1087.4 1442.0L1088.9 1444.0L1090.4 1446.0L1091.9 1448.0L1093.4 1450.0L1094.9 1454.0L1096.4 1458.0L1097.9 1458.0L1099.4 1458.0L1100.9 1458.0L1102.4 1462.0L1103.9 1466.0L1105.4 1468.0L1106.9 1468.0L1108.4 1472.0L1109.9 1476.0L1111.4 1480.0L1112.9 1482.0L1114.4 1482.0L1115.9 1484.0L1117.4 1488.0L1118.9 1490.0L1120.4 1492.0L1121.9 1496.0L1123.4 1500.0L1124.9 1500.0L1126.4 1500.0L1127.9 1504.0L1129.4 1506.0L1130.9 1506.0L1132.4 1508.0L1133.9 1510.0L1135.4 1510.0L1136.9 1514.0L1138.4 1516.0L1139.9 1518.0L1141.4 1520.0L1142.9 1522.0L1144.4 1526.0L1145.9 1528.0L1147.4 1528.0L1148.9 1526.0L1150.4 1528.0L1151.9 1532.0L1153.4 1532.0L1154.9 1532.0L1156.4 1534.0L1157.9 1532.0L1159.4 1534.0L1160.9 1536.0L1162.4 1538.0L1163.9 1540.0L1165.4 1540.0L1166.9 1544.0L1168.4 1548.0L1169.9 1546.0L1171.4 1548.0L1172.9 1550.0L1174.4 1550.0L1175.9 1552.0L1177.4 1552.0L1178.9 1552.0L1180.4 1554.0L1181.9 1556.0L1183.4 1556.0L1184.9 1556.0L1186.4 1556.0L1187.9 1556.0L1189.4 1558.0L1190.9 1562.0L1192.4 1562.0L1193.9 1562.0L1195.4 1562.0L1196.9 1562.0L1198.4 1562.0L1199.9 1564.0L1201.4 1564.0L1202.9 1564.0L1204.4 1566.0L1205.9 1566.0L1207.4 1566.0L1208.9 1568.0L1210.4 1568.0L1211.9 1568.0L1213.4 1568.0L1214.9 1566.0L1216.4 1566.0L1217.9 1568.0L1219.4 1572.0L1220.9 1574.0L1222.4 1574.0L1223.9 1572.0L1225.4 1572.0L1226.9 1574.0L1228.4 1574.0L1229.9 1574.0L1231.4 1574.0L1232.9 1576.0L1234.4 1576.0L1235.9 1574.0L1237.4 1576.0L1238.9 1578.0L1240.4 1578.0L1241.9 1580.0L1243.4 1580.0L1244.9 1580.0L1246.4 1582.0L1247.9 1582.0L1249.4 1580.0L1250.9 1581.0L1252.4 1580.8L1253.9 1580.9L1255.4 1581.1L1256.9 1581.0L1258.4 1582.2L1259.9 1581.6L1261.4 1582.8L1262.9 1583.2L1264.4 1583.1L1265.9 1581.9L1267.4 1581.7L1268.9 1581.5L1270.4 1581.3L1271.9 1581.4L1273.4 1581.6L1274.9 1582.7L1276.4 1582.5L1277.9 1582.4L1279.4 1580.8L1280.9 1580.4L1282.4 1580.9L1283.9 1581.4L1285.4 1582.2L1286.9 1582.3L1288.4 1582.2L1289.9 1581.2L1291.4 1580.6L1292.9 1580.4" stroke="#0000FF" stroke-width="7"/>
<path d="M1291.4 1580.6L1292.9 1580.4L1294.4 1580.2L1295.9 1580.5L1297.4 1580.0L1298.9 1580.8L1300.0 1580.5L1304.0 1581.2L1308.0 1582.5L1312.0 1582.3L1316.0 1582.1L1320.0 1582.0L1324.0 1582.1L1328.0 1582.1L1332.0 1581.3L1336.0 1581.8L1340.0 1581.3L1344.0 1581.5L1348.0 1581.6L1352.0 1583.4L1356.0 1583.2L1360.0 1582.8L1364.0 1581.8L1368.0 1580.8L1372.0 1581.2L1376.0 1581.8L1380.0 1582.8L1384.0 1582.7L1388.0 1581.9L1392.0 1582.0L1396.0 1581.5L1400.0 1582.3L1404.0 1582.0L1408.0 1582.3L1412.0 1582.4L1416.0 1582.6L1420.0 1582.6L1424.0 1582.6L1428.0 1582.7L1432.0 1583.2L1436.0 1582.3L1440.0 1581.6L1444.0 1581.2L1448.0 1582.1L1452.0 1582.6L1456.0 1582.7L1460.0 1582.4L1464.0 1582.7L1468.0 1582.6L1472.0 1582.6L1476.0 1582.6L1480.0 1582.3L1484.0 1582.4L1488.0 1582.7L1492.0 1583.0L1496.0 1582.9L1500.0 1581.5L1504.0 1581.5L1508.0 1581.2L1512.0 1581.5L1516.0 1582.2L1520.0 1582.3L1524.0 1583.0L1528.0 1582.0L1532.0 1581.9L1536.0 1582.1L1540.0 1581.6L1544.0 1581.3L1548.0 1581.5L1552.0 1582.4L1556.0 1582.9L1560.0 1582.3L1564.0 1581.8L1568.0 1581.6L1572.0 1581.8L1576.0 1582.1L1580.0 1581.7L1584.0 1582.1L1588.0 1582.1L1592.0 1582.7L1596.0 1582.4L1600.0 1582.1L1604.0 1581.4L1608.0 1581.4L1612.0 1581.5L1616.0 1581.3L1620.0 1581.1L1624.0 1581.7L1628.0 1582.8L1632.0 1583.3L1636.0 1583.6L1640.0 1582.9L1644.0 1582.5L1648.0 1581.6L1652.0 1581.4L1656.0 1582.2L1660.0 1582.7L1664.0 1583.3L1668.0 1583.7L1672.0 1584.3L1676.0 1583.7L1680.0 1583.0L1684.0 1581.9L1688.0 1582.7L1692.0 1581.5L1696.0 1581.5L1700.0 1580.7L1704.0 1582.3L1708.0 1581.9L1712.0 1582.8L1716.0 1582.4L1720.0 1583.1L1724.0 1583.0L1728.0 1583.6L1732.0 1583.7L1736.0 1583.3L1740.0 1582.8L1744.0 1583.0L1748.0 1582.6L1752.0 1582.1L1756.0 1581.9L1760.0 1581.9L1764.0 1581.5L1768.0 1581.1L1772.0 1581.1L1776.0 1581.7L1780.0 1582.0L1784.0 1581.6L1788.0 1581.2L1792.0 1581.2L1796.0 1581.5L1800.0 1581.6L1804.0 1581.6L1808.0 1581.5L1812.0 1581.5L1816.0 1580.4L1820.0 1581.4L1824.0 1581.2L1828.0 1581.6L1832.0 1580.5L1836.0 1580.1L1840.0 1581.3L1844.0 1581.7L1848.0 1582.1L1852.0 1581.4L1856.0 1581.1L1860.0 1581.7L1864.0 1580.8L1868.0 1581.8L1872.0 1581.2L1876.0 1582.2L1880.0 1582.0L1884.0 1582.6L1888.0 1582.1L1892.0 1582.2L1896.0 1581.8L1900.0 1582.3L1904.0 1581.9L1908.0 1582.4L1912.0 1582.6L1916.0 1583.3L1920.0 1583.2L1924.0 1582.2L1928.0 1581.6L1932.0 1581.7L1936.0 1582.1L1940.0 1581.5L1944.0 1580.1L1948.0 1581.3L1951.0 1582.0" stroke="#0000FF" stroke-width="5.2"/>
<path d="M465.5 1820.0L467.0 1818.0L468.5 1812.0L470.0 1814.0L471.5 1818.0L473.0 1820.0L474.5 1818.0L476.0 1818.0L477.5 1818.0L479.0 1816.0L480.5 1814.0L482.0 1812.0L483.5 1812.0L485.0 1812.0L486.5 1812.0L488.0 1814.0L489.5 1816.0L491.0 1814.0L492.5 1814.0L494.0 1812.0L495.5 1808.0L497.0 1808.0L498.5 1810.0L500.0 1808.0L501.5 1804.0L503.0 1804.0L504.5 1806.0L506.0 1808.0L507.5 1808.0L509.0 1810.0L510.5 1810.0L512.0 1810.0L513.5 1810.0L515.0 1810.0L516.5 1810.0L518.0 1810.0L519.5 1808.0L521.0 1808.0L522.5 1810.0L524.0 1812.0L525.5 1812.0L527.0 1814.0L528.5 1814.0L530.0 1810.0L531.5 1814.0L533.0 1814.0L534.5 1814.0L536.0 1812.0L537.5 1810.0L539.0 1810.0L540.5 1812.0L542.0 1812.0L543.5 1812.0L545.0 1810.0L546.5 1806.0L548.0 1806.0L549.5 1810.0L551.0 1810.0L552.5 1810.0L554.0 1810.0L555.5 1814.0L557.0 1812.0L558.5 1814.0L560.0 1814.0L561.5 1812.0L563.0 1812.0L564.5 1810.0L566.0 1812.0L567.5 1814.0L569.0 1812.0L570.5 1812.0L572.0 1814.0L573.5 1814.0L575.0 1814.0L576.5 1814.0L578.0 1814.0L579.5 1814.0L581.0 1814.0L582.5 1816.0L584.0 1816.0L585.5 1816.0L587.0 1818.0L588.5 1820.0L590.0 1818.0L591.5 1816.0L593.0 1818.0L594.5 1820.0L596.0 1820.0L597.5 1820.0L599.0 1822.0L600.5 1824.0L602.0 1822.0L603.5 1822.0L605.0 1824.0L606.5 1820.0L608.0 1818.0L609.5 1818.0L611.0 1822.0L612.5 1822.0L614.0 1824.0L615.5 1824.0L617.0 1822.0L618.5 1822.0L620.0 1822.0L621.5 1820.0L623.0 1818.0L624.5 1820.0L626.0 1816.0L627.5 1814.0L629.0 1818.0L630.5 1818.0L632.0 1818.0L633.5 1822.0L635.0 1824.0L636.5 1824.0L638.0 1820.0L639.5 1820.0L641.0 1820.0L642.5 1820.0L644.0 1822.0L645.5 1822.0L647.0 1824.0L648.5 1826.0L650.0 1828.0L651.5 1826.0L653.0 1822.0L654.5 1822.0L656.0 1824.0L657.5 1824.0L659.0 1826.0L660.5 1826.0L662.0 1826.0L663.5 1826.0L665.0 1826.0L666.5 1824.0L668.0 1824.0L669.5 1826.0L671.0 1826.0L672.5 1826.0L674.0 1826.0L675.5 1826.0L677.0 1824.0L678.5 1824.0L680.0 1824.0L681.5 1822.0L683.0 1822.0L684.5 1822.0L686.0 1822.0L687.5 1824.0L689.0 1824.0L690.5 1822.0L692.0 1822.0L693.5 1826.0L695.0 1824.0L696.5 1824.0L698.0 1824.0L699.5 1820.0L701.0 1818.0L702.5 1818.0L704.0 1822.0L705.5 1820.0L707.0 1818.0L708.5 1820.0L710.0 1820.0L711.5 1820.0L713.0 1818.0L714.5 1816.0L716.0 1816.0L717.5 1816.0L719.0 1820.0L720.5 1822.0L722.0 1818.0L723.5 1814.0L725.0 1812.0L726.5 1812.0L728.0 1812.0L729.5 1812.0L731.0 1808.0L732.5 1806.0L734.0 1808.0L735.5 1808.0L737.0 1806.0L738.5 1808.0L740.0 1806.0L741.5 1802.0L743.0 1802.0L744.5 1800.0L746.0 1802.0L747.5 1800.0L749.0 1798.0L750.5 1794.0L752.0 1796.0L753.5 1796.0L755.0 1792.0L756.5 1790.0L758.0 1788.0L759.5 1784.0L761.0 1780.0L762.5 1780.0L764.0 1778.0L765.5 1774.0L767.0 1774.0L768.5 1772.0L770.0 1770.0L771.5 1764.0L773.0 1760.0L774.5 1760.0L776.0 1760.0L777.5 1760.0L779.0 1758.0L780.5 1756.0L782.0 1752.0L783.5 1746.0L785.0 1740.0L786.5 1736.0L788.0 1734.0L789.5 1728.0L791.0 1724.0L792.5 1724.0L794.0 1716.0L795.5 1710.0L797.0 1708.0L798.5 1704.0L800.0 1698.0L801.5 1694.0L803.0 1688.0L804.5 1682.0L806.0 1680.0L807.5 1680.0L809.0 1678.0L810.5 1672.0L812.0 1664.0L813.5 1660.0L815.0 1658.0L816.5 1654.0L818.0 1646.0L819.5 1642.0L821.0 1640.0L822.5 1636.0L824.0 1630.0L825.5 1626.0L827.0 1626.0L828.5 1628.0L830.0 1624.0L831.5 1618.0L833.0 1616.0L834.5 1618.0L836.0 1620.0L837.5 1618.0L839.0 1614.0L840.5 1608.0L842.0 1608.0L843.5 1612.0L845.0 1612.0L846.5 1610.0L848.0 1610.0L849.5 1610.0L851.0 1612.0L852.5 1612.0L854.0 1612.0L855.5 1612.0L857.0 1612.0L858.5 1614.0L860.0 1614.0L861.5 1610.0L863.0 1610.0L864.5 1612.0L866.0 1614.0L867.5 1616.0L869.0 1620.0L870.5 1624.0L872.0 1626.0L873.5 1626.0L875.0 1624.0L876.5 1628.0L878.0 1630.0L879.5 1632.0L881.0 1628.0L882.5 1628.0L884.0 1630.0L885.5 1634.0L887.0 1636.0L888.5 1638.0L890.0 1636.0L891.5 1638.0L893.0 1642.0L894.5 1646.0L896.0 1646.0L897.5 1644.0L899.0 1642.0L900.5 1642.0L902.0 1646.0L903.5 1650.0L905.0 1650.0L906.5 1650.0L908.0 1652.0L909.5 1652.0L911.0 1654.0L912.5 1652.0L914.0 1650.0L915.5 1652.0L917.0 1654.0L918.5 1656.0L920.0 1658.0L921.5 1660.0L923.0 1656.0L924.5 1656.0L926.0 1656.0L927.5 1658.0L929.0 1656.0L930.5 1656.0L932.0 1658.0L933.5 1658.0L935.0 1658.0L936.5 1660.0L938.0 1660.0L939.5 1660.0L941.0 1662.0L942.5 1664.0L944.0 1658.0L945.5 1652.0L947.0 1652.0L948.5 1652.0L950.0 1650.0L951.5 1646.0L953.0 1642.0L954.5 1642.0L956.0 1642.0L957.5 1642.0L959.0 1636.0L960.5 1632.0L962.0 1632.0L963.5 1632.0L965.0 1628.0L966.5 1622.0L968.0 1622.0L969.5 1624.0L971.0 1622.0L972.5 1616.0L974.0 1614.0L975.5 1614.0L977.0 1614.0L978.5 1614.0L980.0 1612.0L981.5 1608.0L983.0 1606.0L984.5 1602.0L986.0 1602.0L987.5 1602.0L989.0 1602.0L990.5 1600.0L992.0 1600.0L993.5 1596.0L995.0 1594.0L996.5 1592.0L998.0 1592.0L999.5 1590.0L1001.0 1590.0L1002.5 1594.0L1004.0 1594.0L1005.5 1592.0L1007.0 1596.0L1008.5 1596.0L1010.0 1596.0L1011.5 1598.0L1013.0 1602.0L1014.5 1600.0L1016.0 1600.0L1017.5 1600.0L1019.0 1598.0L1020.5 1596.0L1022.0 1598.0L1023.5 1602.0L1025.0 1604.0L1026.5 1602.0L1028.0 1602.0L1029.5 1604.0L1031.0 1606.0L1032.5 1610.0L1034.0 1610.0L1035.5 1610.0L1037.0 1612.0L1038.5 1612.0L1040.0 1610.0L1041.5 1614.0L1043.0 1622.0L1044.5 1626.0L1046.0 1622.0L1047.5 1620.0L1049.0 1622.0L1050.5 1624.0L1052.0 1624.0L1053.5 1626.0L1055.0 1626.0L1056.5 1628.0L1058.0 1630.0L1059.5 1634.0L1061.0 1634.0L1062.5 1636.0L1064.0 1638.0L1065.5 1636.0L1067.0 1636.0L1068.5 1642.0L1070.0 1646.0L1071.5 1646.0L1073.0 1644.0L1074.5 1644.0L1076.0 1648.0L1077.5 1654.0L1079.0 1656.0L1080.5 1656.0L1082.0 1656.0L1083.5 1656.0L1085.0 1658.0L1086.5 1662.0L1088.0 1668.0L1089.5 1668.0L1091.0 1672.0L1092.5 1678.0L1094.0 1682.0L1095.5 1684.0L1097.0 1686.0L1098.5 1688.0L1100.0 1690.0L1101.5 1694.0L1103.0 1698.0L1104.5 1702.0L1106.0 1706.0L1107.5 1708.0L1109.0 1712.0L1110.5 1714.0L1112.0 1716.0L1113.5 1718.0L1115.0 1720.0L1116.5 1724.0L1118.0 1728.0L1119.5 1730.0L1121.0 1730.0L1122.5 1732.0L1124.0 1734.0L1125.5 1736.0L1127.0 1738.0L1128.5 1740.0L1130.0 1744.0L1131.5 1746.0L1133.0 1750.0L1134.5 1754.0L1136.0 1760.0L1137.5 1760.0L1139.0 1760.0L1140.5 1762.0L1142.0 1766.0L1143.5 1772.0L1145.0 1774.0L1146.5 1774.0L1148.0 1778.0L1149.5 1780.0L1151.0 1778.0L1152.5 1782.0L1154.0 1786.0L1155.5 1786.0L1157.0 1786.0L1158.5 1790.0L1160.0 1792.0L1161.5 1790.0L1163.0 1788.0L1164.5 1792.0L1166.0 1796.0L1167.5 1798.0L1169.0 1798.0L1170.5 1800.0L1172.0 1800.0L1173.5 1802.0L1175.0 1804.0L1176.5 1804.0L1178.0 1802.0L1179.5 1804.0L1181.0 1802.0L1182.5 1802.0L1184.0 1804.0L1185.5 1802.0L1187.0 1802.0L1188.5 1804.0L1190.0 1806.0L1191.5 1808.0L1193.0 1812.0L1194.5 1812.0L1196.0 1814.0L1197.5 1816.0L1199.0 1816.0L1200.5 1812.0L1202.0 1812.0L1203.5 1812.0L1205.0 1814.0L1206.5 1816.0L1208.0 1816.0L1209.5 1816.0L1211.0 1818.0L1212.5 1816.0L1214.0 1816.0L1215.5 1816.0L1217.0 1818.0L1218.5 1818.0L1220.0 1820.0L1221.5 1820.0L1223.0 1820.0L1224.5 1822.0L1226.0 1822.0L1227.5 1824.0L1229.0 1824.0L1230.5 1824.0L1232.0 1822.0L1233.5 1822.0L1235.0 1824.0L1236.5 1824.0L1238.0 1824.0L1239.5 1824.0L1241.0 1826.0L1242.5 1828.0L1244.0 1828.0L1245.5 1830.0L1247.0 1830.0L1248.5 1828.0L1250.0 1827.6L1251.5 1826.2L1253.0 1826.3L1254.5 1825.1L1256.0 1825.3L1257.5 1825.3L1259.0 1826.8L1260.5 1826.3L1262.0 1826.5L1263.5 1826.5L1265.0 1826.5L1266.5 1825.6L1268.0 1826.1L1269.5 1825.6L1271.0 1825.8L1272.5 1825.3L1274.0 1825.5L1275.5 1825.3L1277.0 1824.0L1278.5 1824.6L1280.0 1825.2L1281.5 1825.7L1283.0 1825.0L1284.5 1823.4L1286.0 1823.7L1287.5 1823.7L1289.0 1824.5L1290.5 1824.1L1292.0 1824.4L1293.5 1824.6" stroke="#FF0000" stroke-width="7"/>
<path d="M1290.5 1824.1L1292.0 1824.4L1293.5 1824.6L1295.0 1824.9L1296.5 1825.1L1298.0 1824.6L1299.5 1824.3L1300.0 1824.2L1304.0 1824.2L1308.0 1824.2L1312.0 1824.6L1316.0 1825.3L1320.0 1825.6L1324.0 1825.5L1328.0 1824.5L1332.0 1824.3L1336.0 1824.7L1340.0 1825.3L1344.0 1825.1L1348.0 1824.3L1352.0 1824.5L1356.0 1824.6L1360.0 1824.5L1364.0 1824.5L1368.0 1824.5L1372.0 1825.0L1376.0 1825.2L1380.0 1824.9L1384.0 1824.9L1388.0 1824.7L1392.0 1825.0L1396.0 1824.6L1400.0 1824.7L1404.0 1824.5L1408.0 1824.2L1412.0 1824.6L1416.0 1824.3L1420.0 1824.9L1424.0 1824.7L1428.0 1825.3L1432.0 1825.0L1436.0 1824.7L1440.0 1824.0L1444.0 1824.2L1448.0 1823.9L1452.0 1824.5L1456.0 1824.0L1460.0 1824.7L1464.0 1824.6L1468.0 1824.9L1472.0 1825.1L1476.0 1824.9L1480.0 1824.8L1484.0 1823.4L1488.0 1823.6L1492.0 1823.6L1496.0 1824.2L1500.0 1824.5L1504.0 1825.3L1508.0 1825.9L1512.0 1825.9L1516.0 1825.7L1520.0 1825.2L1524.0 1824.6L1528.0 1824.3L1532.0 1825.2L1536.0 1825.3L1540.0 1824.6L1544.0 1824.0L1548.0 1824.6L1552.0 1825.4L1556.0 1825.6L1560.0 1825.2L1564.0 1825.2L1568.0 1824.9L1572.0 1825.4L1576.0 1825.6L1580.0 1826.1L1584.0 1826.4L1588.0 1826.8L1592.0 1826.2L1596.0 1825.4L1600.0 1824.0L1604.0 1823.7L1608.0 1823.3L1612.0 1823.6L1616.0 1824.5L1620.0 1825.1L1624.0 1824.1L1628.0 1823.9L1632.0 1823.3L1636.0 1824.5L1640.0 1824.2L1644.0 1825.0L1648.0 1825.5L1652.0 1826.5L1656.0 1826.1L1660.0 1825.5L1664.0 1824.6L1668.0 1824.7L1672.0 1825.3L1676.0 1824.7L1680.0 1824.5L1684.0 1823.8L1688.0 1824.3L1692.0 1824.1L1696.0 1824.5L1700.0 1824.7L1704.0 1824.9L1708.0 1824.0L1712.0 1823.9L1716.0 1824.5L1720.0 1824.9L1724.0 1825.4L1728.0 1825.0L1732.0 1824.7L1736.0 1824.3L1740.0 1824.0L1744.0 1823.8L1748.0 1824.0L1752.0 1824.7L1756.0 1826.0L1760.0 1825.0L1764.0 1825.0L1768.0 1824.6L1772.0 1825.4L1776.0 1825.2L1780.0 1825.2L1784.0 1825.4L1788.0 1825.4L1792.0 1825.1L1796.0 1825.5L1800.0 1825.3L1804.0 1825.9L1808.0 1825.0L1812.0 1825.0L1816.0 1824.5L1820.0 1824.8L1824.0 1825.3L1828.0 1824.8L1832.0 1825.2L1836.0 1824.3L1840.0 1825.8L1844.0 1824.9L1848.0 1825.2L1852.0 1824.7L1856.0 1824.4L1860.0 1824.3L1864.0 1824.1L1868.0 1824.9L1872.0 1824.8L1876.0 1824.4L1880.0 1823.5L1884.0 1823.3L1888.0 1823.6L1892.0 1824.2L1896.0 1824.7L1900.0 1824.9L1904.0 1824.4L1908.0 1823.7L1912.0 1824.1L1916.0 1825.1L1920.0 1825.5L1924.0 1824.9L1928.0 1825.1L1932.0 1824.7L1936.0 1824.6L1940.0 1824.6L1944.0 1824.2L1948.0 1824.9L1951.0 1824.4" stroke="#FF0000" stroke-width="5.2"/>
<path d="M486.5 2000.0L488.0 2000.0L489.5 1998.0L491.0 1996.0L492.5 1994.0L494.0 1994.0L495.5 1994.0L497.0 1996.0L498.5 1992.0L500.0 1990.0L501.5 1992.0L503.0 1990.0L504.5 1988.0L506.0 1988.0L507.5 1988.0L509.0 1990.0L510.5 1986.0L512.0 1984.0L513.5 1982.0L515.0 1980.0L516.5 1982.0L518.0 1982.0L519.5 1982.0L521.0 1982.0L522.5 1982.0L524.0 1978.0L525.5 1976.0L527.0 1978.0L528.5 1980.0L530.0 1980.0L531.5 1978.0L533.0 1978.0L534.5 1978.0L536.0 1980.0L537.5 1982.0L539.0 1982.0L540.5 1982.0L542.0 1982.0L543.5 1982.0L545.0 1982.0L546.5 1984.0L548.0 1984.0L549.5 1982.0L551.0 1984.0L552.5 1984.0L554.0 1982.0L555.5 1982.0L557.0 1984.0L558.5 1984.0L560.0 1988.0L561.5 1986.0L563.0 1984.0L564.5 1986.0L566.0 1988.0L567.5 1988.0L569.0 1990.0L570.5 1990.0L572.0 1992.0L573.5 1992.0L575.0 1990.0L576.5 1990.0L578.0 1992.0L579.5 1992.0L581.0 1990.0L582.5 1990.0L584.0 1992.0L585.5 1996.0L587.0 1996.0L588.5 1992.0L590.0 1992.0L591.5 1994.0L593.0 1992.0L594.5 1994.0L596.0 1996.0L597.5 1998.0L599.0 1998.0L600.5 1994.0L602.0 1994.0L603.5 1996.0L605.0 1998.0L606.5 1996.0L608.0 1996.0L609.5 1996.0L611.0 1996.0L612.5 1996.0L614.0 1996.0L615.5 1996.0L617.0 1998.0L618.5 1998.0L620.0 1998.0L621.5 1998.0L623.0 1998.0L624.5 2000.0L626.0 2000.0L627.5 2000.0L629.0 2000.0L630.5 2000.0L632.0 2000.0L633.5 1998.0L635.0 1996.0L636.5 1998.0L638.0 2000.0L639.5 2002.0L641.0 2004.0L642.5 2000.0L644.0 2000.0L645.5 2000.0L647.0 2000.0L648.5 2000.0L650.0 2000.0L651.5 2002.0L653.0 2000.0L654.5 1998.0L656.0 1998.0L657.5 1998.0L659.0 1998.0L660.5 2000.0L662.0 2002.0L663.5 2002.0L665.0 2002.0L666.5 2000.0L668.0 2000.0L669.5 1998.0L671.0 1996.0L672.5 1998.0L674.0 1998.0L675.5 1996.0L677.0 1998.0L678.5 1996.0L680.0 1998.0L681.5 1998.0L683.0 2000.0L684.5 1998.0L686.0 1996.0L687.5 2000.0L689.0 2002.0L690.5 2000.0L692.0 2000.0L693.5 1998.0L695.0 2000.0L696.5 2000.0L698.0 2000.0L699.5 2000.0L701.0 2000.0L702.5 1998.0L704.0 2000.0L705.5 2002.0L707.0 2004.0L708.5 2004.0L710.0 2002.0L711.5 2002.0L713.0 2004.0L714.5 2002.0L716.0 2004.0L717.5 2004.0L719.0 2004.0L720.5 2002.0L722.0 2004.0L723.5 2006.0L725.0 2002.0L726.5 2002.0L728.0 2006.0L729.5 2006.0L731.0 2002.0L732.5 2002.0L734.0 2000.0L735.5 2002.0L737.0 2004.0L738.5 2004.0L740.0 2004.0L741.5 2002.0L743.0 2002.0L744.5 2000.0L746.0 2000.0L747.5 1998.0L749.0 1996.0L750.5 1998.0L752.0 1996.0L753.5 1994.0L755.0 1992.0L756.5 1990.0L758.0 1988.0L759.5 1988.0L761.0 1986.0L762.5 1984.0L764.0 1984.0L765.5 1984.0L767.0 1982.0L768.5 1978.0L770.0 1974.0L771.5 1972.0L773.0 1974.0L774.5 1974.0L776.0 1970.0L777.5 1968.0L779.0 1968.0L780.5 1966.0L782.0 1964.0L783.5 1960.0L785.0 1958.0L786.5 1954.0L788.0 1952.0L789.5 1950.0L791.0 1948.0L792.5 1946.0L794.0 1940.0L795.5 1934.0L797.0 1928.0L798.5 1926.0L800.0 1924.0L801.5 1922.0L803.0 1920.0L804.5 1914.0L806.0 1910.0L807.5 1912.0L809.0 1910.0L810.5 1908.0L812.0 1906.0L813.5 1902.0L815.0 1898.0L816.5 1896.0L818.0 1892.0L819.5 1890.0L821.0 1890.0L822.5 1888.0L824.0 1886.0L825.5 1882.0L827.0 1880.0L828.5 1880.0L830.0 1880.0L831.5 1880.0L833.0 1880.0L834.5 1880.0L836.0 1882.0L837.5 1882.0L839.0 1878.0L840.5 1878.0L842.0 1878.0L843.5 1876.0L845.0 1874.0L846.5 1876.0L848.0 1878.0L849.5 1878.0L851.0 1878.0L852.5 1878.0L854.0 1882.0L855.5 1880.0L857.0 1878.0L858.5 1878.0L860.0 1878.0L861.5 1878.0L863.0 1884.0L864.5 1890.0L866.0 1890.0L867.5 1888.0L869.0 1890.0L870.5 1894.0L872.0 1896.0L873.5 1896.0L875.0 1898.0L876.5 1900.0L878.0 1902.0L879.5 1904.0L881.0 1902.0L882.5 1904.0L884.0 1906.0L885.5 1908.0L887.0 1910.0L888.5 1912.0L890.0 1914.0L891.5 1916.0L893.0 1918.0L894.5 1926.0L896.0 1928.0L897.5 1926.0L899.0 1928.0L900.5 1926.0L902.0 1924.0L903.5 1928.0L905.0 1932.0L906.5 1932.0L908.0 1930.0L909.5 1932.0L911.0 1934.0L912.5 1936.0L914.0 1936.0L915.5 1938.0L917.0 1940.0L918.5 1940.0L920.0 1940.0L921.5 1944.0L923.0 1950.0L924.5 1956.0L926.0 1958.0L927.5 1960.0L929.0 1960.0L930.5 1960.0L932.0 1960.0L933.5 1960.0L935.0 1962.0L936.5 1966.0L938.0 1964.0L939.5 1962.0L941.0 1960.0L942.5 1960.0L944.0 1964.0L945.5 1964.0L947.0 1962.0L948.5 1960.0L950.0 1960.0L951.5 1964.0L953.0 1966.0L954.5 1966.0L956.0 1968.0L957.5 1970.0L959.0 1970.0L960.5 1970.0L962.0 1970.0L963.5 1972.0L965.0 1972.0L966.5 1974.0L968.0 1976.0L969.5 1978.0L971.0 1976.0L972.5 1974.0L974.0 1974.0L975.5 1974.0L977.0 1974.0L978.5 1976.0L980.0 1978.0L981.5 1974.0L983.0 1970.0L984.5 1968.0L986.0 1966.0L987.5 1964.0L989.0 1962.0L990.5 1962.0L992.0 1962.0L993.5 1962.0L995.0 1962.0L996.5 1958.0L998.0 1960.0L999.5 1958.0L1001.0 1954.0L1002.5 1950.0L1004.0 1948.0L1005.5 1950.0L1007.0 1952.0L1008.5 1950.0L1010.0 1944.0L1011.5 1940.0L1013.0 1940.0L1014.5 1940.0L1016.0 1938.0L1017.5 1934.0L1019.0 1934.0L1020.5 1932.0L1022.0 1930.0L1023.5 1928.0L1025.0 1928.0L1026.5 1928.0L1028.0 1928.0L1029.5 1926.0L1031.0 1922.0L1032.5 1918.0L1034.0 1916.0L1035.5 1912.0L1037.0 1910.0L1038.5 1912.0L1040.0 1910.0L1041.5 1906.0L1043.0 1902.0L1044.5 1900.0L1046.0 1900.0L1047.5 1902.0L1049.0 1904.0L1050.5 1898.0L1052.0 1894.0L1053.5 1890.0L1055.0 1890.0L1056.5 1888.0L1058.0 1886.0L1059.5 1884.0L1061.0 1882.0L1062.5 1884.0L1064.0 1884.0L1065.5 1880.0L1067.0 1878.0L1068.5 1876.0L1070.0 1872.0L1071.5 1870.0L1073.0 1868.0L1074.5 1864.0L1076.0 1864.0L1077.5 1864.0L1079.0 1862.0L1080.5 1858.0L1082.0 1856.0L1083.5 1852.0L1085.0 1848.0L1086.5 1850.0L1088.0 1848.0L1089.5 1848.0L1091.0 1848.0L1092.5 1846.0L1094.0 1844.0L1095.5 1844.0L1097.0 1848.0L1098.5 1848.0L1100.0 1848.0L1101.5 1852.0L1103.0 1856.0L1104.5 1856.0L1106.0 1856.0L1107.5 1856.0L1109.0 1858.0L1110.5 1862.0L1112.0 1864.0L1113.5 1864.0L1115.0 1864.0L1116.5 1864.0L1118.0 1864.0L1119.5 1868.0L1121.0 1872.0L1122.5 1874.0L1124.0 1880.0L1125.5 1886.0L1127.0 1888.0L1128.5 1894.0L1130.0 1900.0L1131.5 1906.0L1133.0 1914.0L1134.5 1920.0L1136.0 1926.0L1137.5 1932.0L1139.0 1938.0L1140.5 1946.0L1142.0 1952.0L1143.5 1956.0L1145.0 1960.0L1146.5 1964.0L1148.0 1968.0L1149.5 1972.0L1151.0 1976.0L1152.5 1982.0L1154.0 1988.0L1155.5 1994.0L1157.0 1998.0L1158.5 1998.0L1160.0 2002.0L1161.5 2004.0L1163.0 2004.0L1164.5 2004.0L1166.0 2000.0L1167.5 2000.0L1169.0 2002.0L1170.5 2002.0L1172.0 2000.0L1173.5 1998.0L1175.0 1998.0L1176.5 2000.0L1178.0 1998.0L1179.5 1998.0L1181.0 2000.0L1182.5 2000.0L1184.0 1998.0L1185.5 1996.0L1187.0 1996.0L1188.5 1996.0L1190.0 1996.0L1191.5 1996.0L1193.0 1996.0L1194.5 1998.0L1196.0 1998.0L1197.5 1996.0L1199.0 1996.0L1200.5 1994.0L1202.0 1996.0L1203.5 1998.0L1205.0 1998.0L1206.5 1998.0L1208.0 1998.0L1209.5 1998.0L1211.0 2000.0L1212.5 2000.0L1214.0 1998.0L1215.5 1998.0L1217.0 1998.0L1218.5 1998.0L1220.0 1998.0L1221.5 1998.0L1223.0 1998.0L1224.5 1996.0L1226.0 1998.0L1227.5 1996.0L1229.0 1996.0L1230.5 1998.0L1232.0 1998.0L1233.5 2000.0L1235.0 1998.0L1236.5 1998.0L1238.0 1998.0L1239.5 1998.0L1241.0 2000.0L1242.5 2000.0L1244.0 2000.0L1245.5 1998.0L1247.0 1998.0L1248.5 1998.0L1250.0 1998.6L1251.5 1997.2L1253.0 1998.4L1254.5 1997.6L1256.0 1998.2L1257.5 1998.2L1259.0 1999.5L1260.5 1999.1L1262.0 1998.0L1263.5 1996.5L1265.0 1997.1L1266.5 1997.2L1268.0 1997.8L1269.5 1997.5L1271.0 1997.4L1272.5 1997.4L1274.0 1997.9L1275.5 1998.8L1277.0 1998.2L1278.5 1997.7L1280.0 1996.8L1281.5 1998.0L1283.0 1997.6L1284.5 1997.7L1286.0 1997.0L1287.5 1997.8L1289.0 1997.9L1290.5 1998.3L1292.0 1998.1L1293.5 1998.0" stroke="#00FFFF" stroke-width="7"/>
<path d="M1290.5 1998.3L1292.0 1998.1L1293.5 1998.0L1295.0 1997.4L1296.5 1997.5L1298.0 1997.8L1299.5 1998.3L1300.0 1998.5L1304.0 1998.9L1308.0 1998.5L1312.0 1997.8L1316.0 1997.9L1320.0 1998.9L1324.0 1999.0L1328.0 1997.9L1332.0 1997.0L1336.0 1997.1L1340.0 1997.0L1344.0 1997.2L1348.0 1996.9L1352.0 1997.1L1356.0 1997.4L1360.0 1997.7L1364.0 1998.2L1368.0 1998.0L1372.0 1998.6L1376.0 1998.5L1380.0 1998.3L1384.0 1997.7L1388.0 1998.5L1392.0 1998.7L1396.0 1998.6L1400.0 1997.9L1404.0 1998.0L1408.0 1998.6L1412.0 1999.4L1416.0 1999.6L1420.0 1999.2L1424.0 1998.5L1428.0 1997.4L1432.0 1997.7L1436.0 1997.8L1440.0 1999.4L1444.0 1999.4L1448.0 1998.5L1452.0 1997.1L1456.0 1997.1L1460.0 1997.5L1464.0 1997.4L1468.0 1997.2L1472.0 1997.9L1476.0 1998.1L1480.0 1997.9L1484.0 1998.1L1488.0 1998.0L1492.0 1998.1L1496.0 1997.3L1500.0 1997.2L1504.0 1997.6L1508.0 1997.6L1512.0 1997.9L1516.0 1997.9L1520.0 1998.4L1524.0 1998.5L1528.0 1997.8L1532.0 1998.5L1536.0 1998.8L1540.0 1999.4L1544.0 1998.2L1548.0 1997.3L1552.0 1997.6L1556.0 1999.0L1560.0 1999.6L1564.0 1999.7L1568.0 1998.7L1572.0 1998.6L1576.0 1998.1L1580.0 1998.5L1584.0 1997.9L1588.0 1998.3L1592.0 1998.7L1596.0 1998.9L1600.0 1997.9L1604.0 1997.6L1608.0 1997.8L1612.0 1997.4L1616.0 1997.5L1620.0 1997.9L1624.0 1998.7L1628.0 1999.2L1632.0 1999.2L1636.0 1999.1L1640.0 1998.3L1644.0 1997.8L1648.0 1997.8L1652.0 1997.9L1656.0 1998.1L1660.0 1998.3L1664.0 1998.8L1668.0 1999.4L1672.0 1999.9L1676.0 1999.4L1680.0 1999.3L1684.0 1999.6L1688.0 1999.3L1692.0 1999.9L1696.0 1998.9L1700.0 1998.9L1704.0 1997.6L1708.0 1997.8L1712.0 1998.1L1716.0 1999.3L1720.0 1999.2L1724.0 1999.0L1728.0 1998.2L1732.0 1998.2L1736.0 1997.7L1740.0 1997.9L1744.0 1997.5L1748.0 1998.0L1752.0 1998.0L1756.0 1998.5L1760.0 1998.0L1764.0 1997.5L1768.0 1998.5L1772.0 1998.4L1776.0 1999.6L1780.0 1999.1L1784.0 1999.5L1788.0 1998.4L1792.0 1998.6L1796.0 1999.4L1800.0 1999.5L1804.0 1999.0L1808.0 1998.7L1812.0 1999.2L1816.0 2000.2L1820.0 1999.5L1824.0 1999.6L1828.0 1998.3L1832.0 1999.4L1836.0 1998.9L1840.0 1998.5L1844.0 1997.6L1848.0 1997.8L1852.0 1999.5L1856.0 1999.4L1860.0 1999.5L1864.0 1999.0L1868.0 1999.8L1872.0 1999.7L1876.0 1999.9L1880.0 1999.5L1884.0 1999.4L1888.0 1999.0L1892.0 1998.8L1896.0 1998.6L1900.0 1999.1L1904.0 1998.5L1908.0 1999.3L1912.0 1999.2L1916.0 1999.8L1920.0 1999.0L1924.0 1998.5L1928.0 1998.8L1932.0 1999.4L1936.0 1999.6L1940.0 1999.8L1944.0 1999.3L1948.0 1999.3L1951.0 1998.9" stroke="#00FFFF" stroke-width="5.2"/>
<path d="M483.9 2240.0L485.4 2240.0L486.9 2240.0L488.4 2240.0L489.9 2238.0L491.4 2238.0L492.9 2240.0L494.4 2244.0L495.9 2244.0L497.4 2244.0L498.9 2242.0L500.4 2240.0L501.9 2240.0L503.4 2240.0L504.9 2238.0L506.4 2238.0L507.9 2238.0L509.4 2238.0L510.9 2236.0L512.4 2234.0L513.9 2236.0L515.4 2234.0L516.9 2234.0L518.4 2234.0L519.9 2234.0L521.4 2234.0L522.9 2236.0L524.4 2234.0L525.9 2232.0L527.4 2236.0L528.9 2232.0L530.4 2230.0L531.9 2232.0L533.4 2236.0L534.9 2236.0L536.4 2238.0L537.9 2238.0L539.4 2232.0L540.9 2228.0L542.4 2232.0L543.9 2236.0L545.4 2234.0L546.9 2230.0L548.4 2230.0L549.9 2234.0L551.4 2236.0L552.9 2238.0L554.4 2236.0L555.9 2234.0L557.4 2234.0L558.9 2234.0L560.4 2236.0L561.9 2234.0L563.4 2236.0L564.9 2240.0L566.4 2240.0L567.9 2240.0L569.4 2242.0L570.9 2240.0L572.4 2238.0L573.9 2236.0L575.4 2238.0L576.9 2238.0L578.4 2240.0L579.9 2238.0L581.4 2238.0L582.9 2234.0L584.4 2236.0L585.9 2236.0L587.4 2238.0L588.9 2236.0L590.4 2236.0L591.9 2236.0L593.4 2238.0L594.9 2236.0L596.4 2236.0L597.9 2238.0L599.4 2236.0L600.9 2232.0L602.4 2234.0L603.9 2238.0L605.4 2240.0L606.9 2238.0L608.4 2238.0L609.9 2238.0L611.4 2238.0L612.9 2234.0L614.4 2234.0L615.9 2234.0L617.4 2234.0L618.9 2232.0L620.4 2232.0L621.9 2234.0L623.4 2234.0L624.9 2234.0L626.4 2236.0L627.9 2238.0L629.4 2238.0L630.9 2238.0L632.4 2238.0L633.9 2240.0L635.4 2238.0L636.9 2238.0L638.4 2240.0L639.9 2240.0L641.4 2238.0L642.9 2238.0L644.4 2242.0L645.9 2240.0L647.4 2234.0L648.9 2236.0L650.4 2238.0L651.9 2238.0L653.4 2236.0L654.9 2238.0L656.4 2236.0L657.9 2236.0L659.4 2242.0L660.9 2244.0L662.4 2242.0L663.9 2242.0L665.4 2242.0L666.9 2242.0L668.4 2242.0L669.9 2244.0L671.4 2244.0L672.9 2242.0L674.4 2242.0L675.9 2242.0L677.4 2240.0L678.9 2242.0L680.4 2240.0L681.9 2242.0L683.4 2240.0L684.9 2244.0L686.4 2244.0L687.9 2244.0L689.4 2244.0L690.9 2246.0L692.4 2242.0L693.9 2242.0L695.4 2242.0L696.9 2242.0L698.4 2238.0L699.9 2238.0L701.4 2240.0L702.9 2238.0L704.4 2238.0L705.9 2238.0L707.4 2242.0L708.9 2244.0L710.4 2244.0L711.9 2244.0L713.4 2242.0L714.9 2242.0L716.4 2244.0L717.9 2242.0L719.4 2240.0L720.9 2240.0L722.4 2242.0L723.9 2244.0L725.4 2242.0L726.9 2240.0L728.4 2242.0L729.9 2240.0L731.4 2238.0L732.9 2236.0L734.4 2236.0L735.9 2238.0L737.4 2238.0L738.9 2236.0L740.4 2234.0L741.9 2232.0L743.4 2230.0L744.9 2226.0L746.4 2226.0L747.9 2228.0L749.4 2226.0L750.9 2228.0L752.4 2228.0L753.9 2226.0L755.4 2226.0L756.9 2226.0L758.4 2224.0L759.9 2222.0L761.4 2220.0L762.9 2218.0L764.4 2216.0L765.9 2214.0L767.4 2216.0L768.9 2216.0L770.4 2214.0L771.9 2212.0L773.4 2208.0L774.9 2202.0L776.4 2198.0L777.9 2196.0L779.4 2192.0L780.9 2188.0L782.4 2186.0L783.9 2184.0L785.4 2176.0L786.9 2170.0L788.4 2164.0L789.9 2158.0L791.4 2154.0L792.9 2150.0L794.4 2146.0L795.9 2146.0L797.4 2144.0L798.9 2138.0L800.4 2136.0L801.9 2134.0L803.4 2130.0L804.9 2126.0L806.4 2122.0L807.9 2118.0L809.4 2114.0L810.9 2104.0L812.4 2096.0L813.9 2092.0L815.4 2092.0L816.9 2088.0L818.4 2086.0L819.9 2080.0L821.4 2076.0L822.9 2076.0L824.4 2074.0L825.9 2070.0L827.4 2066.0L828.9 2064.0L830.4 2058.0L831.9 2054.0L833.4 2056.0L834.9 2054.0L836.4 2050.0L837.9 2048.0L839.4 2050.0L840.9 2052.0L842.4 2052.0L843.9 2050.0L845.4 2052.0L846.9 2050.0L848.4 2050.0L849.9 2054.0L851.4 2054.0L852.9 2054.0L854.4 2058.0L855.9 2060.0L857.4 2060.0L858.9 2058.0L860.4 2060.0L861.9 2062.0L863.4 2064.0L864.9 2064.0L866.4 2064.0L867.9 2062.0L869.4 2062.0L870.9 2062.0L872.4 2066.0L873.9 2066.0L875.4 2066.0L876.9 2066.0L878.4 2066.0L879.9 2066.0L881.4 2068.0L882.9 2072.0L884.4 2074.0L885.9 2076.0L887.4 2080.0L888.9 2082.0L890.4 2084.0L891.9 2086.0L893.4 2088.0L894.9 2092.0L896.4 2094.0L897.9 2096.0L899.4 2096.0L900.9 2098.0L902.4 2102.0L903.9 2106.0L905.4 2106.0L906.9 2106.0L908.4 2112.0L909.9 2116.0L911.4 2116.0L912.9 2120.0L914.4 2122.0L915.9 2122.0L917.4 2124.0L918.9 2126.0L920.4 2126.0L921.9 2126.0L923.4 2130.0L924.9 2132.0L926.4 2136.0L927.9 2134.0L929.4 2134.0L930.9 2138.0L932.4 2142.0L933.9 2144.0L935.4 2146.0L936.9 2144.0L938.4 2146.0L939.9 2150.0L941.4 2152.0L942.9 2152.0L944.4 2150.0L945.9 2150.0L947.4 2150.0L948.9 2150.0L950.4 2150.0L951.9 2150.0L953.4 2150.0L954.9 2148.0L956.4 2148.0L957.9 2148.0L959.4 2148.0L960.9 2146.0L962.4 2148.0L963.9 2150.0L965.4 2152.0L966.9 2156.0L968.4 2154.0L969.9 2152.0L971.4 2150.0L972.9 2150.0L974.4 2152.0L975.9 2152.0L977.4 2154.0L978.9 2150.0L980.4 2146.0L981.9 2146.0L983.4 2144.0L984.9 2144.0L986.4 2146.0L987.9 2144.0L989.4 2142.0L990.9 2140.0L992.4 2136.0L993.9 2132.0L995.4 2130.0L996.9 2128.0L998.4 2128.0L999.9 2128.0L1001.4 2124.0L1002.9 2120.0L1004.4 2120.0L1005.9 2118.0L1007.4 2114.0L1008.9 2112.0L1010.4 2112.0L1011.9 2110.0L1013.4 2108.0L1014.9 2106.0L1016.4 2106.0L1017.9 2102.0L1019.4 2098.0L1020.9 2098.0L1022.4 2098.0L1023.9 2096.0L1025.4 2094.0L1026.9 2094.0L1028.4 2090.0L1029.9 2086.0L1031.4 2084.0L1032.9 2082.0L1034.4 2076.0L1035.9 2072.0L1037.4 2070.0L1038.9 2068.0L1040.4 2066.0L1041.9 2066.0L1043.4 2066.0L1044.9 2064.0L1046.4 2060.0L1047.9 2058.0L1049.4 2056.0L1050.9 2058.0L1052.4 2056.0L1053.9 2052.0L1055.4 2048.0L1056.9 2048.0L1058.4 2050.0L1059.9 2044.0L1061.4 2040.0L1062.9 2040.0L1064.4 2040.0L1065.9 2036.0L1067.4 2032.0L1068.9 2030.0L1070.4 2026.0L1071.9 2024.0L1073.4 2022.0L1074.9 2022.0L1076.4 2026.0L1077.9 2024.0L1079.4 2024.0L1080.9 2026.0L1082.4 2024.0L1083.9 2024.0L1085.4 2028.0L1086.9 2028.0L1088.4 2028.0L1089.9 2026.0L1091.4 2028.0L1092.9 2032.0L1094.4 2032.0L1095.9 2032.0L1097.4 2032.0L1098.9 2036.0L1100.4 2040.0L1101.9 2042.0L1103.4 2042.0L1104.9 2046.0L1106.4 2054.0L1107.9 2060.0L1109.4 2064.0L1110.9 2068.0L1112.4 2072.0L1113.9 2078.0L1115.4 2084.0L1116.9 2092.0L1118.4 2096.0L1119.9 2104.0L1121.4 2112.0L1122.9 2118.0L1124.4 2124.0L1125.9 2130.0L1127.4 2138.0L1128.9 2148.0L1130.4 2154.0L1131.9 2160.0L1133.4 2166.0L1134.9 2176.0L1136.4 2184.0L1137.9 2188.0L1139.4 2192.0L1140.9 2194.0L1142.4 2194.0L1143.9 2200.0L1145.4 2204.0L1146.9 2206.0L1148.4 2210.0L1149.9 2214.0L1151.4 2220.0L1152.9 2226.0L1154.4 2224.0L1155.9 2228.0L1157.4 2232.0L1158.9 2232.0L1160.4 2234.0L1161.9 2238.0L1163.4 2240.0L1164.9 2240.0L1166.4 2238.0L1167.9 2240.0L1169.4 2240.0L1170.9 2244.0L1172.4 2248.0L1173.9 2246.0L1175.4 2244.0L1176.9 2244.0L1178.4 2246.0L1179.9 2248.0L1181.4 2246.0L1182.9 2244.0L1184.4 2244.0L1185.9 2244.0L1187.4 2246.0L1188.9 2246.0L1190.4 2246.0L1191.9 2244.0L1193.4 2244.0L1194.9 2244.0L1196.4 2246.0L1197.9 2246.0L1199.4 2244.0L1200.9 2244.0L1202.4 2244.0L1203.9 2246.0L1205.4 2244.0L1206.9 2246.0L1208.4 2246.0L1209.9 2244.0L1211.4 2244.0L1212.9 2244.0L1214.4 2246.0L1215.9 2246.0L1217.4 2244.0L1218.9 2244.0L1220.4 2244.0L1221.9 2244.0L1223.4 2244.0L1224.9 2242.0L1226.4 2244.0L1227.9 2242.0L1229.4 2242.0L1230.9 2242.0L1232.4 2242.0L1233.9 2242.0L1235.4 2242.0L1236.9 2244.0L1238.4 2244.0L1239.9 2242.0L1241.4 2242.0L1242.9 2244.0L1244.4 2244.0L1245.9 2244.0L1247.4 2244.0L1248.9 2244.0L1250.4 2242.4L1251.9 2241.8L1253.4 2241.8L1254.9 2242.7L1256.4 2244.0L1257.9 2244.6L1259.4 2243.6L1260.9 2243.5L1262.4 2242.9L1263.9 2243.7L1265.4 2243.6L1266.9 2243.6L1268.4 2243.3L1269.9 2244.3L1271.4 2244.9L1272.9 2245.9L1274.4 2245.5L1275.9 2245.3L1277.4 2243.6L1278.9 2243.4L1280.4 2244.2L1281.9 2245.1L1283.4 2245.1L1284.9 2245.0L1286.4 2244.0L1287.9 2244.9L1289.4 2244.1L1290.9 2244.9L1292.4 2243.5L1293.9 2243.8" stroke="#FF00FF" stroke-width="7"/>
<path d="M1290.9 2244.9L1292.4 2243.5L1293.9 2243.8L1295.4 2243.3L1296.9 2243.7L1298.4 2243.6L1299.9 2243.1L1300.0 2242.5L1304.0 2243.1L1308.0 2243.3L1312.0 2243.1L1316.0 2242.7L1320.0 2243.2L1324.0 2244.2L1328.0 2243.8L1332.0 2244.1L1336.0 2244.4L1340.0 2244.5L1344.0 2244.4L1348.0 2243.2L1352.0 2243.2L1356.0 2242.6L1360.0 2243.0L1364.0 2243.5L1368.0 2243.0L1372.0 2243.5L1376.0 2242.6L1380.0 2243.9L1384.0 2243.8L1388.0 2244.8L1392.0 2244.2L1396.0 2243.6L1400.0 2244.2L1404.0 2244.2L1408.0 2244.3L1412.0 2243.8L1416.0 2244.7L1420.0 2245.2L1424.0 2244.6L1428.0 2244.0L1432.0 2244.4L1436.0 2244.9L1440.0 2244.6L1444.0 2244.2L1448.0 2244.0L1452.0 2244.9L1456.0 2245.5L1460.0 2245.0L1464.0 2244.4L1468.0 2244.2L1472.0 2244.2L1476.0 2242.9L1480.0 2242.6L1484.0 2242.6L1488.0 2243.9L1492.0 2244.0L1496.0 2244.3L1500.0 2244.2L1504.0 2244.5L1508.0 2244.2L1512.0 2243.6L1516.0 2242.3L1520.0 2242.7L1524.0 2242.7L1528.0 2243.6L1532.0 2243.4L1536.0 2244.3L1540.0 2244.7L1544.0 2244.7L1548.0 2244.4L1552.0 2244.7L1556.0 2243.8L1560.0 2243.7L1564.0 2242.7L1568.0 2243.5L1572.0 2244.3L1576.0 2244.5L1580.0 2244.0L1584.0 2242.7L1588.0 2242.9L1592.0 2243.1L1596.0 2243.3L1600.0 2243.8L1604.0 2244.9L1608.0 2245.1L1612.0 2244.3L1616.0 2243.7L1620.0 2243.7L1624.0 2244.5L1628.0 2244.7L1632.0 2245.0L1636.0 2244.7L1640.0 2243.9L1644.0 2244.1L1648.0 2244.6L1652.0 2244.4L1656.0 2243.7L1660.0 2243.4L1664.0 2244.1L1668.0 2244.9L1672.0 2244.2L1676.0 2244.0L1680.0 2243.5L1684.0 2243.9L1688.0 2244.5L1692.0 2244.8L1696.0 2245.4L1700.0 2245.0L1704.0 2244.4L1708.0 2244.2L1712.0 2244.4L1716.0 2244.1L1720.0 2243.3L1724.0 2243.2L1728.0 2244.1L1732.0 2244.1L1736.0 2244.8L1740.0 2244.6L1744.0 2245.0L1748.0 2244.8L1752.0 2244.6L1756.0 2244.0L1760.0 2243.3L1764.0 2243.6L1768.0 2244.5L1772.0 2244.5L1776.0 2244.1L1780.0 2243.7L1784.0 2243.1L1788.0 2242.9L1792.0 2242.6L1796.0 2243.7L1800.0 2243.5L1804.0 2244.0L1808.0 2243.6L1812.0 2244.1L1816.0 2243.0L1820.0 2243.7L1824.0 2244.7L1828.0 2244.8L1832.0 2244.0L1836.0 2242.1L1840.0 2242.8L1844.0 2243.0L1848.0 2244.0L1852.0 2243.4L1856.0 2244.2L1860.0 2244.5L1864.0 2244.4L1868.0 2243.3L1872.0 2242.8L1876.0 2243.4L1880.0 2244.4L1884.0 2244.1L1888.0 2243.9L1892.0 2243.1L1896.0 2243.4L1900.0 2243.6L1904.0 2243.9L1908.0 2244.8L1912.0 2245.4L1916.0 2245.4L1920.0 2244.1L1924.0 2243.1L1928.0 2242.5L1932.0 2243.0L1936.0 2243.0L1940.0 2243.1L1944.0 2243.5L1948.0 2244.5L1951.0 2244.8" stroke="#FF00FF" stroke-width="5.2"/>
<path d="M482.0 2486.0L483.5 2486.0L485.0 2486.0L486.5 2486.0L488.0 2488.0L489.5 2486.0L491.0 2486.0L492.5 2486.0L494.0 2486.0L495.5 2484.0L497.0 2484.0L498.5 2486.0L500.0 2486.0L501.5 2488.0L503.0 2486.0L504.5 2486.0L506.0 2486.0L507.5 2486.0L509.0 2486.0L510.5 2486.0L512.0 2486.0L513.5 2484.0L515.0 2486.0L516.5 2486.0L518.0 2486.0L519.5 2484.0L521.0 2486.0L522.5 2486.0L524.0 2484.0L525.5 2484.0L527.0 2484.0L528.5 2484.0L530.0 2482.0L531.5 2484.0L533.0 2484.0L534.5 2484.0L536.0 2486.0L537.5 2486.0L539.0 2486.0L540.5 2484.0L542.0 2484.0L543.5 2486.0L545.0 2484.0L546.5 2484.0L548.0 2484.0L549.5 2484.0L551.0 2486.0L552.5 2486.0L554.0 2486.0L555.5 2484.0L557.0 2486.0L558.5 2486.0L560.0 2486.0L561.5 2484.0L563.0 2484.0L564.5 2486.0L566.0 2486.0L567.5 2484.0L569.0 2484.0L570.5 2484.0L572.0 2486.0L573.5 2486.0L575.0 2486.0L576.5 2486.0L578.0 2486.0L579.5 2484.0L581.0 2484.0L582.5 2484.0L584.0 2486.0L585.5 2486.0L587.0 2486.0L588.5 2486.0L590.0 2484.0L591.5 2484.0L593.0 2486.0L594.5 2486.0L596.0 2486.0L597.5 2484.0L599.0 2486.0L600.5 2486.0L602.0 2486.0L603.5 2486.0L605.0 2486.0L606.5 2486.0L608.0 2486.0L609.5 2486.0L611.0 2484.0L612.5 2484.0L614.0 2486.0L615.5 2486.0L617.0 2486.0L618.5 2486.0L620.0 2486.0L621.5 2486.0L623.0 2486.0L624.5 2484.0L626.0 2484.0L627.5 2486.0L629.0 2486.0L630.5 2486.0L632.0 2486.0L633.5 2486.0L635.0 2486.0L636.5 2486.0L638.0 2486.0L639.5 2486.0L641.0 2486.0L642.5 2484.0L644.0 2484.0L645.5 2484.0L647.0 2486.0L648.5 2486.0L650.0 2486.0L651.5 2484.0L653.0 2484.0L654.5 2484.0L656.0 2484.0L657.5 2484.0L659.0 2484.0L660.5 2486.0L662.0 2486.0L663.5 2484.0L665.0 2484.0L666.5 2484.0L668.0 2484.0L669.5 2486.0L671.0 2486.0L672.5 2486.0L674.0 2486.0L675.5 2486.0L677.0 2486.0L678.5 2486.0L680.0 2486.0L681.5 2488.0L683.0 2488.0L684.5 2486.0L686.0 2486.0L687.5 2486.0L689.0 2486.0L690.5 2486.0L692.0 2488.0L693.5 2488.0L695.0 2486.0L696.5 2486.0L698.0 2486.0L699.5 2488.0L701.0 2488.0L702.5 2488.0L704.0 2488.0L705.5 2486.0L707.0 2486.0L708.5 2486.0L710.0 2486.0L711.5 2486.0L713.0 2488.0L714.5 2488.0L716.0 2486.0L717.5 2484.0L719.0 2486.0L720.5 2484.0L722.0 2484.0L723.5 2484.0L725.0 2486.0L726.5 2486.0L728.0 2484.0L729.5 2484.0L731.0 2486.0L732.5 2484.0L734.0 2482.0L735.5 2484.0L737.0 2484.0L738.5 2484.0L740.0 2482.0L741.5 2482.0L743.0 2482.0L744.5 2482.0L746.0 2482.0L747.5 2482.0L749.0 2482.0L750.5 2480.0L752.0 2478.0L753.5 2480.0L755.0 2482.0L756.5 2482.0L758.0 2482.0L759.5 2482.0L761.0 2482.0L762.5 2482.0L764.0 2482.0L765.5 2480.0L767.0 2480.0L768.5 2482.0L770.0 2482.0L771.5 2482.0L773.0 2482.0L774.5 2484.0L776.0 2484.0L777.5 2484.0L779.0 2482.0L780.5 2478.0L782.0 2476.0L783.5 2476.0L785.0 2476.0L786.5 2474.0L788.0 2474.0L789.5 2474.0L791.0 2474.0L792.5 2474.0L794.0 2474.0L795.5 2474.0L797.0 2474.0L798.5 2472.0L800.0 2472.0L801.5 2470.0L803.0 2470.0L804.5 2468.0L806.0 2470.0L807.5 2470.0L809.0 2468.0L810.5 2466.0L812.0 2466.0L813.5 2466.0L815.0 2466.0L816.5 2466.0L818.0 2464.0L819.5 2460.0L821.0 2460.0L822.5 2458.0L824.0 2456.0L825.5 2456.0L827.0 2454.0L828.5 2452.0L830.0 2450.0L831.5 2450.0L833.0 2450.0L834.5 2448.0L836.0 2446.0L837.5 2444.0L839.0 2444.0L840.5 2442.0L842.0 2440.0L843.5 2440.0L845.0 2440.0L846.5 2438.0L848.0 2436.0L849.5 2434.0L851.0 2432.0L852.5 2432.0L854.0 2432.0L855.5 2432.0L857.0 2428.0L858.5 2426.0L860.0 2424.0L861.5 2422.0L863.0 2422.0L864.5 2422.0L866.0 2424.0L867.5 2422.0L869.0 2420.0L870.5 2420.0L872.0 2420.0L873.5 2420.0L875.0 2420.0L876.5 2420.0L878.0 2418.0L879.5 2418.0L881.0 2418.0L882.5 2416.0L884.0 2414.0L885.5 2414.0L887.0 2412.0L888.5 2412.0L890.0 2408.0L891.5 2406.0L893.0 2406.0L894.5 2404.0L896.0 2404.0L897.5 2402.0L899.0 2404.0L900.5 2404.0L902.0 2404.0L903.5 2406.0L905.0 2406.0L906.5 2408.0L908.0 2410.0L909.5 2410.0L911.0 2410.0L912.5 2412.0L914.0 2416.0L915.5 2416.0L917.0 2418.0L918.5 2416.0L920.0 2416.0L921.5 2416.0L923.0 2420.0L924.5 2420.0L926.0 2418.0L927.5 2418.0L929.0 2418.0L930.5 2418.0L932.0 2418.0L933.5 2418.0L935.0 2418.0L936.5 2422.0L938.0 2422.0L939.5 2424.0L941.0 2426.0L942.5 2426.0L944.0 2426.0L945.5 2424.0L947.0 2424.0L948.5 2420.0L950.0 2420.0L951.5 2420.0L953.0 2420.0L954.5 2422.0L956.0 2422.0L957.5 2422.0L959.0 2424.0L960.5 2426.0L962.0 2426.0L963.5 2428.0L965.0 2428.0L966.5 2428.0L968.0 2430.0L969.5 2428.0L971.0 2430.0L972.5 2430.0L974.0 2432.0L975.5 2434.0L977.0 2436.0L978.5 2436.0L980.0 2436.0L981.5 2438.0L983.0 2438.0L984.5 2436.0L986.0 2436.0L987.5 2434.0L989.0 2432.0L990.5 2432.0L992.0 2432.0L993.5 2434.0L995.0 2434.0L996.5 2436.0L998.0 2436.0L999.5 2438.0L1001.0 2440.0L1002.5 2440.0L1004.0 2440.0L1005.5 2438.0L1007.0 2438.0L1008.5 2440.0L1010.0 2440.0L1011.5 2440.0L1013.0 2438.0L1014.5 2438.0L1016.0 2438.0L1017.5 2440.0L1019.0 2438.0L1020.5 2440.0L1022.0 2442.0L1023.5 2442.0L1025.0 2442.0L1026.5 2442.0L1028.0 2442.0L1029.5 2444.0L1031.0 2444.0L1032.5 2446.0L1034.0 2444.0L1035.5 2444.0L1037.0 2444.0L1038.5 2444.0L1040.0 2444.0L1041.5 2442.0L1043.0 2442.0L1044.5 2440.0L1046.0 2440.0L1047.5 2440.0L1049.0 2440.0L1050.5 2438.0L1052.0 2438.0L1053.5 2438.0L1055.0 2438.0L1056.5 2438.0L1058.0 2438.0L1059.5 2438.0L1061.0 2438.0L1062.5 2440.0L1064.0 2438.0L1065.5 2438.0L1067.0 2438.0L1068.5 2438.0L1070.0 2440.0L1071.5 2440.0L1073.0 2440.0L1074.5 2442.0L1076.0 2444.0L1077.5 2444.0L1079.0 2444.0L1080.5 2446.0L1082.0 2446.0L1083.5 2444.0L1085.0 2444.0L1086.5 2444.0L1088.0 2442.0L1089.5 2442.0L1091.0 2442.0L1092.5 2442.0L1094.0 2442.0L1095.5 2444.0L1097.0 2448.0L1098.5 2452.0L1100.0 2452.0L1101.5 2452.0L1103.0 2452.0L1104.5 2452.0L1106.0 2452.0L1107.5 2452.0L1109.0 2450.0L1110.5 2450.0L1112.0 2448.0L1113.5 2448.0L1115.0 2446.0L1116.5 2446.0L1118.0 2446.0L1119.5 2446.0L1121.0 2444.0L1122.5 2444.0L1124.0 2444.0L1125.5 2444.0L1127.0 2442.0L1128.5 2440.0L1130.0 2438.0L1131.5 2440.0L1133.0 2440.0L1134.5 2440.0L1136.0 2442.0L1137.5 2444.0L1139.0 2446.0L1140.5 2446.0L1142.0 2448.0L1143.5 2448.0L1145.0 2450.0L1146.5 2450.0L1148.0 2450.0L1149.5 2452.0L1151.0 2452.0L1152.5 2452.0L1154.0 2452.0L1155.5 2452.0L1157.0 2452.0L1158.5 2454.0L1160.0 2452.0L1161.5 2450.0L1163.0 2450.0L1164.5 2448.0L1166.0 2448.0L1167.5 2448.0L1169.0 2446.0L1170.5 2444.0L1172.0 2442.0L1173.5 2442.0L1175.0 2442.0L1176.5 2442.0L1178.0 2442.0L1179.5 2440.0L1181.0 2440.0L1182.5 2440.0L1184.0 2440.0L1185.5 2438.0L1187.0 2440.0L1188.5 2440.0L1190.0 2440.0L1191.5 2438.0L1193.0 2438.0L1194.5 2438.0L1196.0 2440.0L1197.5 2438.0L1199.0 2436.0L1200.5 2434.0L1202.0 2434.0L1203.5 2432.0L1205.0 2430.0L1206.5 2430.0L1208.0 2430.0L1209.5 2428.0L1211.0 2428.0L1212.5 2428.0L1214.0 2426.0L1215.5 2426.0L1217.0 2424.0L1218.5 2424.0L1220.0 2422.0L1221.5 2422.0L1223.0 2420.0L1224.5 2420.0L1226.0 2418.0L1227.5 2416.0L1229.0 2414.0L1230.5 2414.0L1232.0 2414.0L1233.5 2412.0L1235.0 2410.0L1236.5 2410.0L1238.0 2410.0L1239.5 2408.0L1241.0 2408.0L1242.5 2408.0L1244.0 2408.0L1245.5 2408.0L1247.0 2408.0L1248.5 2408.0L1250.0 2406.8L1251.5 2407.1L1253.0 2407.4L1254.5 2407.6L1256.0 2408.0L1257.5 2408.7L1259.0 2409.7L1260.5 2410.2L1262.0 2410.7L1263.5 2411.6L1265.0 2411.8L1266.5 2412.2L1268.0 2412.3L1269.5 2414.1L1271.0 2415.9L1272.5 2417.8L1274.0 2418.4L1275.5 2419.2L1277.0 2419.8L1278.5 2421.2L1280.0 2423.3L1281.5 2424.2L1283.0 2426.5L1284.5 2428.4L1286.0 2431.8L1287.5 2433.7L1289.0 2436.4L1290.5 2439.5L1292.0 2441.8L1293.5 2444.7" stroke="#000000" stroke-width="5.5"/>
<path d="M1290.5 2439.5L1292.0 2441.8L1293.5 2444.7L1295.0 2446.8L1296.5 2450.3L1298.0 2452.8L1299.5 2455.4L1300.0 2456.2L1304.0 2462.3L1308.0 2467.4L1312.0 2471.4L1316.0 2474.3L1320.0 2477.5L1324.0 2481.4L1328.0 2484.5L1332.0 2486.6L1336.0 2487.1L1340.0 2487.5L1344.0 2488.4L1348.0 2488.8L1352.0 2488.8L1356.0 2488.0L1360.0 2487.2L1364.0 2486.8L1368.0 2486.8L1372.0 2487.6L1376.0 2487.6L1380.0 2487.2L1384.0 2486.9L1388.0 2487.2L1392.0 2486.4L1396.0 2485.4L1400.0 2485.4L1404.0 2485.6L1408.0 2485.5L1412.0 2484.9L1416.0 2484.8L1420.0 2486.1L1424.0 2486.6L1428.0 2487.2L1432.0 2486.6L1436.0 2486.2L1440.0 2485.8L1444.0 2485.9L1448.0 2485.9L1452.0 2485.9L1456.0 2485.7L1460.0 2485.5L1464.0 2486.4L1468.0 2486.5L1472.0 2486.3L1476.0 2486.1L1480.0 2486.0L1484.0 2486.2L1488.0 2484.6L1492.0 2484.3L1496.0 2484.0L1500.0 2485.0L1504.0 2485.2L1508.0 2485.8L1512.0 2486.0L1516.0 2485.7L1520.0 2484.7L1524.0 2484.8L1528.0 2485.1L1532.0 2485.6L1536.0 2484.9L1540.0 2484.7L1544.0 2486.1L1548.0 2486.4L1552.0 2487.0L1556.0 2485.7L1560.0 2485.3L1564.0 2485.5L1568.0 2486.3L1572.0 2487.6L1576.0 2487.2L1580.0 2486.6L1584.0 2486.4L1588.0 2486.5L1592.0 2487.2L1596.0 2487.1L1600.0 2487.8L1604.0 2487.3L1608.0 2487.2L1612.0 2485.7L1616.0 2486.1L1620.0 2485.7L1624.0 2486.8L1628.0 2485.9L1632.0 2486.3L1636.0 2485.4L1640.0 2485.5L1644.0 2485.1L1648.0 2486.7L1652.0 2487.1L1656.0 2486.8L1660.0 2485.9L1664.0 2485.9L1668.0 2486.1L1672.0 2486.2L1676.0 2485.7L1680.0 2485.7L1684.0 2484.5L1688.0 2484.9L1692.0 2485.1L1696.0 2485.9L1700.0 2486.7L1704.0 2486.4L1708.0 2486.1L1712.0 2485.3L1716.0 2486.3L1720.0 2486.3L1724.0 2486.0L1728.0 2485.9L1732.0 2485.8L1736.0 2486.1L1740.0 2486.0L1744.0 2486.3L1748.0 2486.9L1752.0 2487.0L1756.0 2486.7L1760.0 2486.3L1764.0 2485.9L1768.0 2485.9L1772.0 2485.8L1776.0 2486.0L1780.0 2486.5L1784.0 2486.8L1788.0 2486.2L1792.0 2485.9L1796.0 2485.9L1800.0 2485.8L1804.0 2485.6L1808.0 2485.8L1812.0 2485.9L1816.0 2486.1L1820.0 2486.3L1824.0 2486.5L1828.0 2486.6L1832.0 2485.3L1836.0 2485.4L1840.0 2485.1L1844.0 2485.2L1848.0 2484.5L1852.0 2484.5L1856.0 2484.8L1860.0 2485.7L1864.0 2486.5L1868.0 2486.8L1872.0 2486.9L1876.0 2486.0L1880.0 2485.8L1884.0 2485.9L1888.0 2486.8L1892.0 2486.4L1896.0 2486.1L1900.0 2485.9L1904.0 2486.3L1908.0 2486.8L1912.0 2486.2L1916.0 2486.3L1920.0 2485.9L1924.0 2485.7L1928.0 2485.5L1932.0 2485.4L1936.0 2485.9L1940.0 2486.6L1944.0 2486.4L1948.0 2486.4L1951.0 2485.9" stroke="#000000" stroke-width="5.2"/>
</g>
<g fill="none" stroke="#404040" stroke-width="2" stroke-dasharray="10 10">
<path d="M480.3 539.7L483.3 539.7L486.3 539.7L489.3 539.7L492.3 539.7L495.3 539.7L498.3 539.7L501.3 539.7L504.3 539.7L507.3 539.7L510.3 539.7L513.3 539.7L516.3 539.7L519.3 539.7L522.3 539.7L525.3 539.7L528.3 539.7L531.3 539.7L534.3 539.7L537.3 539.7L540.3 539.7L543.3 539.7L546.3 539.7L549.3 539.7L552.3 539.7L555.3 539.7L558.3 539.7L561.3 539.7L564.3 539.7L567.3 539.7L570.3 539.7L573.3 539.7L576.3 539.7L579.3 539.7L582.3 539.7L585.3 539.7L588.3 539.7L591.3 539.7L594.3 539.7L597.3 539.7L600.3 539.7L603.3 539.7L606.3 539.7L609.3 539.7L612.3 539.7L615.3 539.7L618.3 539.7L621.3 539.7L624.3 539.7L627.3 539.7L630.3 539.7L633.3 539.7L636.3 539.7L639.3 539.7L642.3 539.7L645.3 539.7L648.3 539.7L651.3 539.7L654.3 539.7L657.3 539.7L660.3 539.7L663.3 539.7L666.3 539.7L669.3 539.7L672.3 539.7L675.3 539.6L678.3 539.6L681.3 539.6L684.3 539.6L687.3 539.6L690.3 539.5L693.3 539.5L696.3 539.4L699.3 539.3L702.3 539.3L705.3 539.1L708.3 539.0L711.3 538.8L714.3 538.6L717.3 538.4L720.3 538.1L723.3 537.8L726.3 537.4L729.3 536.9L732.3 536.3L735.3 535.7L738.3 534.9L741.3 534.0L744.3 533.0L747.3 531.8L750.3 530.4L753.3 528.9L756.3 527.1L759.3 525.1L762.3 522.9L765.3 520.3L768.3 517.5L771.3 514.4L774.3 511.0L777.3 507.2L780.3 503.1L783.3 498.6L786.3 493.8L789.3 488.6L792.3 483.1L795.3 477.2L798.3 470.9L801.3 464.4L804.3 457.5L807.3 450.4L810.3 443.0L813.3 435.5L816.3 427.8L819.3 420.0L822.3 412.2L825.3 404.5L828.3 396.8L831.3 389.3L834.3 382.1L837.3 375.1L840.3 368.6L843.3 362.5L846.3 356.9L849.3 351.9L852.3 347.5L855.3 343.9L858.3 340.9L861.3 338.7L864.3 337.3L867.3 336.7L870.3 336.9L873.3 337.9L876.3 339.7L879.3 342.1L882.3 345.4L885.3 349.2L888.3 353.8L891.3 358.9L894.3 364.5L897.3 370.6L900.3 377.2L903.3 384.0L906.3 391.2L909.3 398.6L912.3 406.1L915.3 413.7L918.3 421.3L921.3 428.9L924.3 436.4L927.3 443.8L930.3 450.9L933.3 457.9L936.3 464.6L939.3 471.0L942.3 477.1L945.3 482.9L948.3 488.3L951.3 493.4L954.3 498.2L957.3 502.6L960.3 506.7L963.3 510.4L966.3 513.8L969.3 516.9L972.3 519.7L975.3 522.2L978.3 524.5L981.3 526.5L984.3 528.3L987.3 529.9L990.3 531.3L993.3 532.5L996.3 533.6L999.3 534.5L1002.3 535.4L1005.3 536.0L1008.3 536.6L1011.3 537.1L1014.3 537.6L1017.3 537.9L1020.3 538.3L1023.3 538.5L1026.3 538.7L1029.3 538.9L1032.3 539.1L1035.3 539.2L1038.3 539.3L1041.3 539.4L1044.3 539.4L1047.3 539.5L1050.3 539.5L1053.3 539.6L1056.3 539.6L1059.3 539.6L1062.3 539.6L1065.3 539.6L1068.3 539.7L1071.3 539.7L1074.3 539.7L1077.3 539.7L1080.3 539.7L1083.3 539.7L1086.3 539.7L1089.3 539.7L1092.3 539.7L1095.3 539.7L1098.3 539.7L1101.3 539.7L1104.3 539.7L1107.3 539.7L1110.3 539.7L1113.3 539.7L1116.3 539.7L1119.3 539.7L1122.3 539.7L1125.3 539.7L1128.3 539.7L1131.3 539.7L1134.3 539.7L1137.3 539.7L1140.3 539.7L1143.3 539.7L1146.3 539.7L1149.3 539.7L1152.3 539.7L1155.3 539.7L1158.3 539.7L1161.3 539.7L1164.3 539.7L1167.3 539.7L1170.3 539.7L1173.3 539.7L1176.3 539.7L1179.3 539.7L1182.3 539.7L1185.3 539.7L1188.3 539.7L1191.3 539.7L1194.3 539.7L1197.3 539.7L1200.3 539.7L1203.3 539.7L1206.3 539.7L1209.3 539.7L1212.3 539.7L1215.3 539.7L1218.3 539.7L1221.3 539.7L1224.3 539.7L1227.3 539.7L1230.3 539.7L1233.3 539.7L1236.3 539.7L1239.3 539.7L1242.3 539.7L1245.3 539.7L1248.3 539.7L1251.3 539.7L1254.3 539.7L1257.3 539.7L1260.3 539.7L1263.3 539.7L1266.3 539.7L1269.3 539.7L1272.3 539.7L1275.3 539.7L1278.3 539.7L1281.3 539.7L1284.3 539.7L1287.3 539.7L1290.3 539.7L1293.3 539.7L1296.3 539.7L1299.3 539.7L1302.3 539.7L1305.3 539.7L1308.3 539.7L1311.3 539.7L1314.3 539.7L1317.3 539.7L1320.3 539.7L1323.3 539.7L1326.3 539.7L1329.3 539.7L1332.3 539.7L1335.3 539.7L1338.3 539.7L1341.3 539.7L1344.3 539.7L1347.3 539.7L1350.3 539.7L1353.3 539.7L1356.3 539.7L1359.3 539.7L1362.3 539.7L1365.3 539.7L1368.3 539.7L1371.3 539.7L1374.3 539.7L1377.3 539.7L1380.3 539.7L1383.3 539.7L1386.3 539.7L1389.3 539.7L1392.3 539.7L1395.3 539.7L1398.3 539.7L1401.3 539.7L1404.3 539.7L1407.3 539.7L1410.3 539.7L1413.3 539.7L1416.3 539.7L1419.3 539.7L1422.3 539.7L1425.3 539.7L1428.3 539.7L1431.3 539.7L1434.3 539.7L1437.3 539.7L1440.3 539.7L1443.3 539.7L1446.3 539.7L1449.3 539.7L1452.3 539.7L1455.3 539.7L1458.3 539.7L1461.3 539.7L1464.3 539.7L1467.3 539.7L1470.3 539.7L1473.3 539.7L1476.3 539.7L1479.3 539.7L1482.3 539.7L1485.3 539.7L1488.3 539.7L1491.3 539.7L1494.3 539.7L1497.3 539.7L1500.3 539.7L1503.3 539.7L1506.3 539.7L1509.3 539.7L1512.3 539.7L1515.3 539.7L1518.3 539.7L1521.3 539.7L1524.3 539.7L1527.3 539.7L1530.3 539.7L1533.3 539.7L1536.3 539.7L1539.3 539.7L1542.3 539.7L1545.3 539.7L1548.3 539.7L1551.3 539.7L1554.3 539.7L1557.3 539.7L1560.3 539.7L1563.3 539.7L1566.3 539.7L1569.3 539.7L1572.3 539.7L1575.3 539.7L1578.3 539.7L1581.3 539.7L1584.3 539.7L1587.3 539.7L1590.3 539.7L1593.3 539.7L1596.3 539.7L1599.3 539.7L1602.3 539.7L1605.3 539.7L1608.3 539.7L1611.3 539.7L1614.3 539.7L1617.3 539.7L1620.3 539.7L1623.3 539.7L1626.3 539.7L1629.3 539.7L1632.3 539.7L1635.3 539.7L1638.3 539.7L1641.3 539.7L1644.3 539.7L1647.3 539.7L1650.3 539.7L1653.3 539.7L1656.3 539.7L1659.3 539.7L1662.3 539.7L1665.3 539.7L1668.3 539.7L1671.3 539.7L1674.3 539.7L1677.3 539.7L1680.3 539.7L1683.3 539.7L1686.3 539.7L1689.3 539.7L1692.3 539.7L1695.3 539.7L1698.3 539.7L1701.3 539.7L1704.3 539.7L1707.3 539.7L1710.3 539.7L1713.3 539.7L1716.3 539.7L1719.3 539.7L1722.3 539.7L1725.3 539.7L1728.3 539.7L1731.3 539.7L1734.3 539.7L1737.3 539.7L1740.3 539.7L1743.3 539.7L1746.3 539.7L1749.3 539.7L1752.3 539.7L1755.3 539.7L1758.3 539.7L1761.3 539.7L1764.3 539.7L1767.3 539.7L1770.3 539.7L1773.3 539.7L1776.3 539.7L1779.3 539.7L1782.3 539.7L1785.3 539.7L1788.3 539.7L1791.3 539.7L1794.3 539.7L1797.3 539.7L1800.3 539.7L1803.3 539.7L1806.3 539.7L1809.3 539.7L1812.3 539.7L1815.3 539.7L1818.3 539.7L1821.3 539.7L1824.3 539.7L1827.3 539.7L1830.3 539.7L1833.3 539.7L1836.3 539.7L1839.3 539.7L1842.3 539.7L1845.3 539.7L1848.3 539.7L1851.3 539.7L1854.3 539.7L1857.3 539.7L1860.3 539.7L1863.3 539.7L1866.3 539.7L1869.3 539.7L1872.3 539.7L1875.3 539.7L1878.3 539.7L1881.3 539.7L1884.3 539.7L1887.3 539.7L1890.3 539.7L1893.3 539.7L1896.3 539.7L1899.3 539.7L1902.3 539.7L1905.3 539.7L1908.3 539.7L1911.3 539.7L1914.3 539.7L1917.3 539.7L1920.3 539.7L1923.3 539.7L1926.3 539.7L1929.3 539.7L1932.3 539.7L1935.3 539.7L1938.3 539.7L1941.3 539.7L1944.3 539.7L1947.3 539.7L1950.3 539.7"/>
<path d="M480.3 539.7L483.3 539.7L486.3 539.7L489.3 539.7L492.3 539.7L495.3 539.7L498.3 539.7L501.3 539.7L504.3 539.7L507.3 539.7L510.3 539.7L513.3 539.7L516.3 539.7L519.3 539.7L522.3 539.7L525.3 539.7L528.3 539.7L531.3 539.7L534.3 539.7L537.3 539.7L540.3 539.7L543.3 539.7L546.3 539.7L549.3 539.7L552.3 539.7L555.3 539.7L558.3 539.7L561.3 539.7L564.3 539.7L567.3 539.7L570.3 539.7L573.3 539.7L576.3 539.7L579.3 539.7L582.3 539.7L585.3 539.7L588.3 539.7L591.3 539.7L594.3 539.7L597.3 539.7L600.3 539.7L603.3 539.7L606.3 539.7L609.3 539.7L612.3 539.7L615.3 539.7L618.3 539.7L621.3 539.7L624.3 539.7L627.3 539.7L630.3 539.7L633.3 539.7L636.3 539.7L639.3 539.7L642.3 539.7L645.3 539.7L648.3 539.7L651.3 539.7L654.3 539.7L657.3 539.7L660.3 539.7L663.3 539.7L666.3 539.7L669.3 539.7L672.3 539.7L675.3 539.7L678.3 539.7L681.3 539.7L684.3 539.7L687.3 539.7L690.3 539.7L693.3 539.7L696.3 539.7L699.3 539.7L702.3 539.7L705.3 539.7L708.3 539.7L711.3 539.7L714.3 539.7L717.3 539.7L720.3 539.7L723.3 539.7L726.3 539.7L729.3 539.7L732.3 539.7L735.3 539.7L738.3 539.7L741.3 539.7L744.3 539.7L747.3 539.7L750.3 539.7L753.3 539.7L756.3 539.7L759.3 539.7L762.3 539.7L765.3 539.7L768.3 539.7L771.3 539.7L774.3 539.7L777.3 539.7L780.3 539.7L783.3 539.7L786.3 539.7L789.3 539.7L792.3 539.6L795.3 539.6L798.3 539.6L801.3 539.6L804.3 539.6L807.3 539.6L810.3 539.5L813.3 539.5L816.3 539.4L819.3 539.4L822.3 539.3L825.3 539.3L828.3 539.2L831.3 539.1L834.3 539.0L837.3 538.9L840.3 538.7L843.3 538.5L846.3 538.3L849.3 538.1L852.3 537.8L855.3 537.5L858.3 537.2L861.3 536.8L864.3 536.3L867.3 535.8L870.3 535.2L873.3 534.6L876.3 533.8L879.3 533.0L882.3 532.1L885.3 531.0L888.3 529.9L891.3 528.6L894.3 527.2L897.3 525.6L900.3 523.8L903.3 521.9L906.3 519.9L909.3 517.6L912.3 515.1L915.3 512.4L918.3 509.5L921.3 506.4L924.3 503.0L927.3 499.4L930.3 495.6L933.3 491.4L936.3 487.1L939.3 482.4L942.3 477.6L945.3 472.4L948.3 467.0L951.3 461.4L954.3 455.5L957.3 449.4L960.3 443.1L963.3 436.6L966.3 429.9L969.3 423.1L972.3 416.1L975.3 409.1L978.3 402.0L981.3 394.8L984.3 387.6L987.3 380.5L990.3 373.4L993.3 366.5L996.3 359.6L999.3 353.0L1002.3 346.6L1005.3 340.4L1008.3 334.5L1011.3 329.0L1014.3 323.8L1017.3 319.1L1020.3 314.7L1023.3 310.9L1026.3 307.5L1029.3 304.7L1032.3 302.4L1035.3 300.6L1038.3 299.4L1041.3 298.8L1044.3 298.7L1047.3 299.1L1050.3 299.9L1053.3 301.2L1056.3 302.9L1059.3 305.1L1062.3 307.8L1065.3 311.0L1068.3 314.5L1071.3 318.6L1074.3 323.0L1077.3 327.8L1080.3 333.0L1083.3 338.6L1086.3 344.4L1089.3 350.5L1092.3 356.8L1095.3 363.4L1098.3 370.1L1101.3 376.9L1104.3 383.9L1107.3 390.9L1110.3 397.9L1113.3 405.0L1116.3 412.0L1119.3 418.9L1122.3 425.7L1125.3 432.5L1128.3 439.0L1131.3 445.4L1134.3 451.7L1137.3 457.7L1140.3 463.5L1143.3 469.0L1146.3 474.4L1149.3 479.4L1152.3 484.3L1155.3 488.8L1158.3 493.1L1161.3 497.2L1164.3 501.0L1167.3 504.5L1170.3 507.8L1173.3 510.9L1176.3 513.8L1179.3 516.4L1182.3 518.8L1185.3 521.0L1188.3 523.0L1191.3 524.9L1194.3 526.6L1197.3 528.1L1200.3 529.4L1203.3 530.7L1206.3 531.8L1209.3 532.8L1212.3 533.6L1215.3 534.4L1218.3 535.1L1221.3 535.7L1224.3 536.3L1227.3 536.7L1230.3 537.2L1233.3 537.5L1236.3 537.8L1239.3 538.1L1242.3 538.4L1245.3 538.6L1248.3 538.7L1251.3 538.9L1254.3 539.0L1257.3 539.1L1260.3 539.2L1263.3 539.3L1266.3 539.4L1269.3 539.4L1272.3 539.5L1275.3 539.5L1278.3 539.5L1281.3 539.6L1284.3 539.6L1287.3 539.6L1290.3 539.6L1293.3 539.6L1296.3 539.7L1299.3 539.7L1302.3 539.7L1305.3 539.7L1308.3 539.7L1311.3 539.7L1314.3 539.7L1317.3 539.7L1320.3 539.7L1323.3 539.7L1326.3 539.7L1329.3 539.7L1332.3 539.7L1335.3 539.7L1338.3 539.7L1341.3 539.7L1344.3 539.7L1347.3 539.7L1350.3 539.7L1353.3 539.7L1356.3 539.7L1359.3 539.7L1362.3 539.7L1365.3 539.7L1368.3 539.7L1371.3 539.7L1374.3 539.7L1377.3 539.7L1380.3 539.7L1383.3 539.7L1386.3 539.7L1389.3 539.7L1392.3 539.7L1395.3 539.7L1398.3 539.7L1401.3 539.7L1404.3 539.7L1407.3 539.7L1410.3 539.7L1413.3 539.7L1416.3 539.7L1419.3 539.7L1422.3 539.7L1425.3 539.7L1428.3 539.7L1431.3 539.7L1434.3 539.7L1437.3 539.7L1440.3 539.7L1443.3 539.7L1446.3 539.7L1449.3 539.7L1452.3 539.7L1455.3 539.7L1458.3 539.7L1461.3 539.7L1464.3 539.7L1467.3 539.7L1470.3 539.7L1473.3 539.7L1476.3 539.7L1479.3 539.7L1482.3 539.7L1485.3 539.7L1488.3 539.7L1491.3 539.7L1494.3 539.7L1497.3 539.7L1500.3 539.7L1503.3 539.7L1506.3 539.7L1509.3 539.7L1512.3 539.7L1515.3 539.7L1518.3 539.7L1521.3 539.7L1524.3 539.7L1527.3 539.7L1530.3 539.7L1533.3 539.7L1536.3 539.7L1539.3 539.7L1542.3 539.7L1545.3 539.7L1548.3 539.7L1551.3 539.7L1554.3 539.7L1557.3 539.7L1560.3 539.7L1563.3 539.7L1566.3 539.7L1569.3 539.7L1572.3 539.7L1575.3 539.7L1578.3 539.7L1581.3 539.7L1584.3 539.7L1587.3 539.7L1590.3 539.7L1593.3 539.7L1596.3 539.7L1599.3 539.7L1602.3 539.7L1605.3 539.7L1608.3 539.7L1611.3 539.7L1614.3 539.7L1617.3 539.7L1620.3 539.7L1623.3 539.7L1626.3 539.7L1629.3 539.7L1632.3 539.7L1635.3 539.7L1638.3 539.7L1641.3 539.7L1644.3 539.7L1647.3 539.7L1650.3 539.7L1653.3 539.7L1656.3 539.7L1659.3 539.7L1662.3 539.7L1665.3 539.7L1668.3 539.7L1671.3 539.7L1674.3 539.7L1677.3 539.7L1680.3 539.7L1683.3 539.7L1686.3 539.7L1689.3 539.7L1692.3 539.7L1695.3 539.7L1698.3 539.7L1701.3 539.7L1704.3 539.7L1707.3 539.7L1710.3 539.7L1713.3 539.7L1716.3 539.7L1719.3 539.7L1722.3 539.7L1725.3 539.7L1728.3 539.7L1731.3 539.7L1734.3 539.7L1737.3 539.7L1740.3 539.7L1743.3 539.7L1746.3 539.7L1749.3 539.7L1752.3 539.7L1755.3 539.7L1758.3 539.7L1761.3 539.7L1764.3 539.7L1767.3 539.7L1770.3 539.7L1773.3 539.7L1776.3 539.7L1779.3 539.7L1782.3 539.7L1785.3 539.7L1788.3 539.7L1791.3 539.7L1794.3 539.7L1797.3 539.7L1800.3 539.7L1803.3 539.7L1806.3 539.7L1809.3 539.7L1812.3 539.7L1815.3 539.7L1818.3 539.7L1821.3 539.7L1824.3 539.7L1827.3 539.7L1830.3 539.7L1833.3 539.7L1836.3 539.7L1839.3 539.7L1842.3 539.7L1845.3 539.7L1848.3 539.7L1851.3 539.7L1854.3 539.7L1857.3 539.7L1860.3 539.7L1863.3 539.7L1866.3 539.7L1869.3 539.7L1872.3 539.7L1875.3 539.7L1878.3 539.7L1881.3 539.7L1884.3 539.7L1887.3 539.7L1890.3 539.7L1893.3 539.7L1896.3 539.7L1899.3 539.7L1902.3 539.7L1905.3 539.7L1908.3 539.7L1911.3 539.7L1914.3 539.7L1917.3 539.7L1920.3 539.7L1923.3 539.7L1926.3 539.7L1929.3 539.7L1932.3 539.7L1935.3 539.7L1938.3 539.7L1941.3 539.7L1944.3 539.7L1947.3 539.7L1950.3 539.7"/>
<path d="M482.6 818.6L485.6 818.6L488.6 818.6L491.6 818.6L494.6 818.6L497.6 818.6L500.6 818.6L503.6 818.6L506.6 818.6L509.6 818.6L512.6 818.6L515.6 818.6L518.6 818.6L521.6 818.6L524.6 818.6L527.6 818.6L530.6 818.6L533.6 818.6L536.6 818.6L539.6 818.6L542.6 818.6L545.6 818.6L548.6 818.6L551.6 818.6L554.6 818.6L557.6 818.6L560.6 818.6L563.6 818.6L566.6 818.6L569.6 818.6L572.6 818.6L575.6 818.6L578.6 818.6L581.6 818.6L584.6 818.6L587.6 818.6L590.6 818.6L593.6 818.6L596.6 818.6L599.6 818.6L602.6 818.6L605.6 818.6L608.6 818.6L611.6 818.6L614.6 818.6L617.6 818.6L620.6 818.6L623.6 818.6L626.6 818.6L629.6 818.6L632.6 818.6L635.6 818.6L638.6 818.6L641.6 818.6L644.6 818.6L647.6 818.6L650.6 818.6L653.6 818.6L656.6 818.6L659.6 818.5L662.6 818.5L665.6 818.5L668.6 818.5L671.6 818.5L674.6 818.4L677.6 818.4L680.6 818.3L683.6 818.3L686.6 818.2L689.6 818.1L692.6 818.0L695.6 817.8L698.6 817.7L701.6 817.5L704.6 817.2L707.6 816.9L710.6 816.6L713.6 816.2L716.6 815.7L719.6 815.2L722.6 814.5L725.6 813.8L728.6 812.9L731.6 811.9L734.6 810.8L737.6 809.4L740.6 808.0L743.6 806.3L746.6 804.4L749.6 802.2L752.6 799.8L755.6 797.1L758.6 794.2L761.6 790.9L764.6 787.3L767.6 783.3L770.6 779.0L773.6 774.3L776.6 769.2L779.6 763.8L782.6 758.0L785.6 751.7L788.6 745.2L791.6 738.2L794.6 730.9L797.6 723.3L800.6 715.4L803.6 707.3L806.6 698.9L809.6 690.4L812.6 681.7L815.6 673.0L818.6 664.3L821.6 655.6L824.6 647.1L827.6 638.7L830.6 630.6L833.6 622.9L836.6 615.6L839.6 608.7L842.6 602.4L845.6 596.7L848.6 591.6L851.6 587.3L854.6 583.7L857.6 580.9L860.6 579.0L863.6 577.9L866.6 577.6L869.6 578.1L872.6 579.2L875.6 581.0L878.6 583.5L881.6 586.6L884.6 590.3L887.6 594.5L890.6 599.3L893.6 604.6L896.6 610.4L899.6 616.6L902.6 623.1L905.6 630.0L908.6 637.1L911.6 644.5L914.6 652.0L917.6 659.6L920.6 667.3L923.6 675.1L926.6 682.8L929.6 690.5L932.6 698.1L935.6 705.5L938.6 712.8L941.6 719.9L944.6 726.8L947.6 733.5L950.6 739.8L953.6 745.9L956.6 751.8L959.6 757.3L962.6 762.5L965.6 767.4L968.6 772.1L971.6 776.4L974.6 780.4L977.6 784.2L980.6 787.6L983.6 790.8L986.6 793.8L989.6 796.5L992.6 798.9L995.6 801.1L998.6 803.2L1001.6 805.0L1004.6 806.6L1007.6 808.1L1010.6 809.4L1013.6 810.6L1016.6 811.6L1019.6 812.6L1022.6 813.4L1025.6 814.1L1028.6 814.7L1031.6 815.3L1034.6 815.8L1037.6 816.2L1040.6 816.5L1043.6 816.9L1046.6 817.1L1049.6 817.4L1052.6 817.6L1055.6 817.7L1058.6 817.9L1061.6 818.0L1064.6 818.1L1067.6 818.2L1070.6 818.3L1073.6 818.3L1076.6 818.4L1079.6 818.4L1082.6 818.4L1085.6 818.5L1088.6 818.5L1091.6 818.5L1094.6 818.5L1097.6 818.5L1100.6 818.6L1103.6 818.6L1106.6 818.6L1109.6 818.6L1112.6 818.6L1115.6 818.6L1118.6 818.6L1121.6 818.6L1124.6 818.6L1127.6 818.6L1130.6 818.6L1133.6 818.6L1136.6 818.6L1139.6 818.6L1142.6 818.6L1145.6 818.6L1148.6 818.6L1151.6 818.6L1154.6 818.6L1157.6 818.6L1160.6 818.6L1163.6 818.6L1166.6 818.6L1169.6 818.6L1172.6 818.6L1175.6 818.6L1178.6 818.6L1181.6 818.6L1184.6 818.6L1187.6 818.6L1190.6 818.6L1193.6 818.6L1196.6 818.6L1199.6 818.6L1202.6 818.6L1205.6 818.6L1208.6 818.6L1211.6 818.6L1214.6 818.6L1217.6 818.6L1220.6 818.6L1223.6 818.6L1226.6 818.6L1229.6 818.6L1232.6 818.6L1235.6 818.6L1238.6 818.6L1241.6 818.6L1244.6 818.6L1247.6 818.6L1250.6 818.6L1253.6 818.6L1256.6 818.6L1259.6 818.6L1262.6 818.6L1265.6 818.6L1268.6 818.6L1271.6 818.6L1274.6 818.6L1277.6 818.6L1280.6 818.6L1283.6 818.6L1286.6 818.6L1289.6 818.6L1292.6 818.6L1295.6 818.6L1298.6 818.6L1301.6 818.6L1304.6 818.6L1307.6 818.6L1310.6 818.6L1313.6 818.6L1316.6 818.6L1319.6 818.6L1322.6 818.6L1325.6 818.6L1328.6 818.6L1331.6 818.6L1334.6 818.6L1337.6 818.6L1340.6 818.6L1343.6 818.6L1346.6 818.6L1349.6 818.6L1352.6 818.6L1355.6 818.6L1358.6 818.6L1361.6 818.6L1364.6 818.6L1367.6 818.6L1370.6 818.6L1373.6 818.6L1376.6 818.6L1379.6 818.6L1382.6 818.6L1385.6 818.6L1388.6 818.6L1391.6 818.6L1394.6 818.6L1397.6 818.6L1400.6 818.6L1403.6 818.6L1406.6 818.6L1409.6 818.6L1412.6 818.6L1415.6 818.6L1418.6 818.6L1421.6 818.6L1424.6 818.6L1427.6 818.6L1430.6 818.6L1433.6 818.6L1436.6 818.6L1439.6 818.6L1442.6 818.6L1445.6 818.6L1448.6 818.6L1451.6 818.6L1454.6 818.6L1457.6 818.6L1460.6 818.6L1463.6 818.6L1466.6 818.6L1469.6 818.6L1472.6 818.6L1475.6 818.6L1478.6 818.6L1481.6 818.6L1484.6 818.6L1487.6 818.6L1490.6 818.6L1493.6 818.6L1496.6 818.6L1499.6 818.6L1502.6 818.6L1505.6 818.6L1508.6 818.6L1511.6 818.6L1514.6 818.6L1517.6 818.6L1520.6 818.6L1523.6 818.6L1526.6 818.6L1529.6 818.6L1532.6 818.6L1535.6 818.6L1538.6 818.6L1541.6 818.6L1544.6 818.6L1547.6 818.6L1550.6 818.6L1553.6 818.6L1556.6 818.6L1559.6 818.6L1562.6 818.6L1565.6 818.6L1568.6 818.6L1571.6 818.6L1574.6 818.6L1577.6 818.6L1580.6 818.6L1583.6 818.6L1586.6 818.6L1589.6 818.6L1592.6 818.6L1595.6 818.6L1598.6 818.6L1601.6 818.6L1604.6 818.6L1607.6 818.6L1610.6 818.6L1613.6 818.6L1616.6 818.6L1619.6 818.6L1622.6 818.6L1625.6 818.6L1628.6 818.6L1631.6 818.6L1634.6 818.6L1637.6 818.6L1640.6 818.6L1643.6 818.6L1646.6 818.6L1649.6 818.6L1652.6 818.6L1655.6 818.6L1658.6 818.6L1661.6 818.6L1664.6 818.6L1667.6 818.6L1670.6 818.6L1673.6 818.6L1676.6 818.6L1679.6 818.6L1682.6 818.6L1685.6 818.6L1688.6 818.6L1691.6 818.6L1694.6 818.6L1697.6 818.6L1700.6 818.6L1703.6 818.6L1706.6 818.6L1709.6 818.6L1712.6 818.6L1715.6 818.6L1718.6 818.6L1721.6 818.6L1724.6 818.6L1727.6 818.6L1730.6 818.6L1733.6 818.6L1736.6 818.6L1739.6 818.6L1742.6 818.6L1745.6 818.6L1748.6 818.6L1751.6 818.6L1754.6 818.6L1757.6 818.6L1760.6 818.6L1763.6 818.6L1766.6 818.6L1769.6 818.6L1772.6 818.6L1775.6 818.6L1778.6 818.6L1781.6 818.6L1784.6 818.6L1787.6 818.6L1790.6 818.6L1793.6 818.6L1796.6 818.6L1799.6 818.6L1802.6 818.6L1805.6 818.6L1808.6 818.6L1811.6 818.6L1814.6 818.6L1817.6 818.6L1820.6 818.6L1823.6 818.6L1826.6 818.6L1829.6 818.6L1832.6 818.6L1835.6 818.6L1838.6 818.6L1841.6 818.6L1844.6 818.6L1847.6 818.6L1850.6 818.6L1853.6 818.6L1856.6 818.6L1859.6 818.6L1862.6 818.6L1865.6 818.6L1868.6 818.6L1871.6 818.6L1874.6 818.6L1877.6 818.6L1880.6 818.6L1883.6 818.6L1886.6 818.6L1889.6 818.6L1892.6 818.6L1895.6 818.6L1898.6 818.6L1901.6 818.6L1904.6 818.6L1907.6 818.6L1910.6 818.6L1913.6 818.6L1916.6 818.6L1919.6 818.6L1922.6 818.6L1925.6 818.6L1928.6 818.6L1931.6 818.6L1934.6 818.6L1937.6 818.6L1940.6 818.6L1943.6 818.6L1946.6 818.6L1949.6 818.6"/>
<path d="M482.6 818.6L485.6 818.6L488.6 818.6L491.6 818.6L494.6 818.6L497.6 818.6L500.6 818.6L503.6 818.6L506.6 818.6L509.6 818.6L512.6 818.6L515.6 818.6L518.6 818.6L521.6 818.6L524.6 818.6L527.6 818.6L530.6 818.6L533.6 818.6L536.6 818.6L539.6 818.6L542.6 818.6L545.6 818.6L548.6 818.6L551.6 818.6L554.6 818.6L557.6 818.6L560.6 818.6L563.6 818.6L566.6 818.6L569.6 818.6L572.6 818.6L575.6 818.6L578.6 818.6L581.6 818.6L584.6 818.6L587.6 818.6L590.6 818.6L593.6 818.6L596.6 818.6L599.6 818.6L602.6 818.6L605.6 818.6L608.6 818.6L611.6 818.6L614.6 818.6L617.6 818.6L620.6 818.6L623.6 818.6L626.6 818.6L629.6 818.6L632.6 818.6L635.6 818.6L638.6 818.6L641.6 818.6L644.6 818.6L647.6 818.6L650.6 818.6L653.6 818.6L656.6 818.6L659.6 818.6L662.6 818.6L665.6 818.6L668.6 818.6L671.6 818.6L674.6 818.6L677.6 818.6L680.6 818.6L683.6 818.6L686.6 818.6L689.6 818.6L692.6 818.6L695.6 818.6L698.6 818.6L701.6 818.6L704.6 818.6L707.6 818.6L710.6 818.6L713.6 818.6L716.6 818.6L719.6 818.6L722.6 818.6L725.6 818.6L728.6 818.6L731.6 818.6L734.6 818.6L737.6 818.6L740.6 818.6L743.6 818.6L746.6 818.6L749.6 818.6L752.6 818.6L755.6 818.6L758.6 818.6L761.6 818.6L764.6 818.6L767.6 818.6L770.6 818.6L773.6 818.6L776.6 818.6L779.6 818.6L782.6 818.6L785.6 818.6L788.6 818.6L791.6 818.6L794.6 818.6L797.6 818.6L800.6 818.6L803.6 818.6L806.6 818.6L809.6 818.6L812.6 818.6L815.6 818.6L818.6 818.5L821.6 818.5L824.6 818.5L827.6 818.5L830.6 818.5L833.6 818.4L836.6 818.4L839.6 818.3L842.6 818.3L845.6 818.2L848.6 818.1L851.6 818.0L854.6 817.9L857.6 817.8L860.6 817.6L863.6 817.4L866.6 817.2L869.6 817.0L872.6 816.7L875.6 816.3L878.6 815.9L881.6 815.4L884.6 814.9L887.6 814.3L890.6 813.6L893.6 812.7L896.6 811.8L899.6 810.8L902.6 809.6L905.6 808.2L908.6 806.7L911.6 805.0L914.6 803.1L917.6 801.1L920.6 798.7L923.6 796.2L926.6 793.3L929.6 790.2L932.6 786.9L935.6 783.2L938.6 779.2L941.6 774.8L944.6 770.1L947.6 765.1L950.6 759.7L953.6 754.0L956.6 747.9L959.6 741.5L962.6 734.7L965.6 727.6L968.6 720.1L971.6 712.3L974.6 704.3L977.6 696.0L980.6 687.5L983.6 678.7L986.6 669.8L989.6 660.8L992.6 651.8L995.6 642.7L998.6 633.6L1001.6 624.6L1004.6 615.8L1007.6 607.2L1010.6 598.8L1013.6 590.7L1016.6 583.1L1019.6 575.8L1022.6 569.1L1025.6 562.9L1028.6 557.2L1031.6 552.3L1034.6 547.9L1037.6 544.4L1040.6 541.5L1043.6 539.4L1046.6 538.1L1049.6 537.6L1052.6 537.9L1055.6 538.9L1058.6 540.6L1061.6 543.0L1064.6 546.1L1067.6 549.8L1070.6 554.2L1073.6 559.2L1076.6 564.8L1079.6 570.9L1082.6 577.4L1085.6 584.4L1088.6 591.8L1091.6 599.5L1094.6 607.5L1097.6 615.7L1100.6 624.1L1103.6 632.7L1106.6 641.3L1109.6 650.0L1112.6 658.6L1115.6 667.2L1118.6 675.8L1121.6 684.1L1124.6 692.4L1127.6 700.4L1130.6 708.2L1133.6 715.7L1136.6 723.0L1139.6 730.0L1142.6 736.7L1145.6 743.1L1148.6 749.1L1151.6 754.9L1154.6 760.3L1157.6 765.4L1160.6 770.2L1163.6 774.7L1166.6 778.8L1169.6 782.7L1172.6 786.2L1175.6 789.5L1178.6 792.5L1181.6 795.3L1184.6 797.8L1187.6 800.1L1190.6 802.2L1193.6 804.1L1196.6 805.8L1199.6 807.3L1202.6 808.7L1205.6 810.0L1208.6 811.0L1211.6 812.0L1214.6 812.9L1217.6 813.6L1220.6 814.3L1223.6 814.9L1226.6 815.4L1229.6 815.9L1232.6 816.3L1235.6 816.6L1238.6 816.9L1241.6 817.2L1244.6 817.4L1247.6 817.6L1250.6 817.7L1253.6 817.9L1256.6 818.0L1259.6 818.1L1262.6 818.2L1265.6 818.2L1268.6 818.3L1271.6 818.4L1274.6 818.4L1277.6 818.4L1280.6 818.5L1283.6 818.5L1286.6 818.5L1289.6 818.5L1292.6 818.5L1295.6 818.6L1298.6 818.6L1301.6 818.6L1304.6 818.6L1307.6 818.6L1310.6 818.6L1313.6 818.6L1316.6 818.6L1319.6 818.6L1322.6 818.6L1325.6 818.6L1328.6 818.6L1331.6 818.6L1334.6 818.6L1337.6 818.6L1340.6 818.6L1343.6 818.6L1346.6 818.6L1349.6 818.6L1352.6 818.6L1355.6 818.6L1358.6 818.6L1361.6 818.6L1364.6 818.6L1367.6 818.6L1370.6 818.6L1373.6 818.6L1376.6 818.6L1379.6 818.6L1382.6 818.6L1385.6 818.6L1388.6 818.6L1391.6 818.6L1394.6 818.6L1397.6 818.6L1400.6 818.6L1403.6 818.6L1406.6 818.6L1409.6 818.6L1412.6 818.6L1415.6 818.6L1418.6 818.6L1421.6 818.6L1424.6 818.6L1427.6 818.6L1430.6 818.6L1433.6 818.6L1436.6 818.6L1439.6 818.6L1442.6 818.6L1445.6 818.6L1448.6 818.6L1451.6 818.6L1454.6 818.6L1457.6 818.6L1460.6 818.6L1463.6 818.6L1466.6 818.6L1469.6 818.6L1472.6 818.6L1475.6 818.6L1478.6 818.6L1481.6 818.6L1484.6 818.6L1487.6 818.6L1490.6 818.6L1493.6 818.6L1496.6 818.6L1499.6 818.6L1502.6 818.6L1505.6 818.6L1508.6 818.6L1511.6 818.6L1514.6 818.6L1517.6 818.6L1520.6 818.6L1523.6 818.6L1526.6 818.6L1529.6 818.6L1532.6 818.6L1535.6 818.6L1538.6 818.6L1541.6 818.6L1544.6 818.6L1547.6 818.6L1550.6 818.6L1553.6 818.6L1556.6 818.6L1559.6 818.6L1562.6 818.6L1565.6 818.6L1568.6 818.6L1571.6 818.6L1574.6 818.6L1577.6 818.6L1580.6 818.6L1583.6 818.6L1586.6 818.6L1589.6 818.6L1592.6 818.6L1595.6 818.6L1598.6 818.6L1601.6 818.6L1604.6 818.6L1607.6 818.6L1610.6 818.6L1613.6 818.6L1616.6 818.6L1619.6 818.6L1622.6 818.6L1625.6 818.6L1628.6 818.6L1631.6 818.6L1634.6 818.6L1637.6 818.6L1640.6 818.6L1643.6 818.6L1646.6 818.6L1649.6 818.6L1652.6 818.6L1655.6 818.6L1658.6 818.6L1661.6 818.6L1664.6 818.6L1667.6 818.6L1670.6 818.6L1673.6 818.6L1676.6 818.6L1679.6 818.6L1682.6 818.6L1685.6 818.6L1688.6 818.6L1691.6 818.6L1694.6 818.6L1697.6 818.6L1700.6 818.6L1703.6 818.6L1706.6 818.6L1709.6 818.6L1712.6 818.6L1715.6 818.6L1718.6 818.6L1721.6 818.6L1724.6 818.6L1727.6 818.6L1730.6 818.6L1733.6 818.6L1736.6 818.6L1739.6 818.6L1742.6 818.6L1745.6 818.6L1748.6 818.6L1751.6 818.6L1754.6 818.6L1757.6 818.6L1760.6 818.6L1763.6 818.6L1766.6 818.6L1769.6 818.6L1772.6 818.6L1775.6 818.6L1778.6 818.6L1781.6 818.6L1784.6 818.6L1787.6 818.6L1790.6 818.6L1793.6 818.6L1796.6 818.6L1799.6 818.6L1802.6 818.6L1805.6 818.6L1808.6 818.6L1811.6 818.6L1814.6 818.6L1817.6 818.6L1820.6 818.6L1823.6 818.6L1826.6 818.6L1829.6 818.6L1832.6 818.6L1835.6 818.6L1838.6 818.6L1841.6 818.6L1844.6 818.6L1847.6 818.6L1850.6 818.6L1853.6 818.6L1856.6 818.6L1859.6 818.6L1862.6 818.6L1865.6 818.6L1868.6 818.6L1871.6 818.6L1874.6 818.6L1877.6 818.6L1880.6 818.6L1883.6 818.6L1886.6 818.6L1889.6 818.6L1892.6 818.6L1895.6 818.6L1898.6 818.6L1901.6 818.6L1904.6 818.6L1907.6 818.6L1910.6 818.6L1913.6 818.6L1916.6 818.6L1919.6 818.6L1922.6 818.6L1925.6 818.6L1928.6 818.6L1931.6 818.6L1934.6 818.6L1937.6 818.6L1940.6 818.6L1943.6 818.6L1946.6 818.6L1949.6 818.6"/>
<path d="M480.3 1060.3L483.3 1060.3L486.3 1060.3L489.3 1060.3L492.3 1060.3L495.3 1060.3L498.3 1060.3L501.3 1060.3L504.3 1060.3L507.3 1060.3L510.3 1060.3L513.3 1060.3L516.3 1060.3L519.3 1060.3L522.3 1060.3L525.3 1060.3L528.3 1060.3L531.3 1060.3L534.3 1060.3L537.3 1060.3L540.3 1060.3L543.3 1060.3L546.3 1060.3L549.3 1060.3L552.3 1060.3L555.3 1060.3L558.3 1060.3L561.3 1060.3L564.3 1060.3L567.3 1060.3L570.3 1060.3L573.3 1060.3L576.3 1060.3L579.3 1060.3L582.3 1060.3L585.3 1060.3L588.3 1060.3L591.3 1060.3L594.3 1060.3L597.3 1060.3L600.3 1060.3L603.3 1060.3L606.3 1060.3L609.3 1060.3L612.3 1060.3L615.3 1060.3L618.3 1060.3L621.3 1060.3L624.3 1060.3L627.3 1060.3L630.3 1060.3L633.3 1060.3L636.3 1060.3L639.3 1060.3L642.3 1060.3L645.3 1060.3L648.3 1060.3L651.3 1060.3L654.3 1060.3L657.3 1060.3L660.3 1060.3L663.3 1060.3L666.3 1060.3L669.3 1060.3L672.3 1060.3L675.3 1060.3L678.3 1060.3L681.3 1060.3L684.3 1060.2L687.3 1060.2L690.3 1060.2L693.3 1060.2L696.3 1060.1L699.3 1060.1L702.3 1060.0L705.3 1059.9L708.3 1059.8L711.3 1059.7L714.3 1059.5L717.3 1059.3L720.3 1059.1L723.3 1058.8L726.3 1058.4L729.3 1057.9L732.3 1057.4L735.3 1056.7L738.3 1055.9L741.3 1055.0L744.3 1053.9L747.3 1052.6L750.3 1051.1L753.3 1049.4L756.3 1047.3L759.3 1045.0L762.3 1042.4L765.3 1039.4L768.3 1036.0L771.3 1032.3L774.3 1028.0L777.3 1023.4L780.3 1018.2L783.3 1012.6L786.3 1006.5L789.3 999.9L792.3 992.8L795.3 985.2L798.3 977.2L801.3 968.8L804.3 960.1L807.3 951.0L810.3 941.7L813.3 932.1L816.3 922.5L819.3 912.9L822.3 903.4L825.3 894.1L828.3 885.1L831.3 876.5L834.3 868.3L837.3 860.8L840.3 854.0L843.3 848.0L846.3 842.9L849.3 838.7L852.3 835.5L855.3 833.4L858.3 832.4L861.3 832.4L864.3 833.3L867.3 834.9L870.3 837.3L873.3 840.5L876.3 844.4L879.3 849.0L882.3 854.2L885.3 859.9L888.3 866.2L891.3 873.0L894.3 880.1L897.3 887.6L900.3 895.4L903.3 903.4L906.3 911.5L909.3 919.7L912.3 927.9L915.3 936.0L918.3 944.1L921.3 952.0L924.3 959.8L927.3 967.3L930.3 974.5L933.3 981.5L936.3 988.2L939.3 994.5L942.3 1000.5L945.3 1006.1L948.3 1011.4L951.3 1016.3L954.3 1020.8L957.3 1025.1L960.3 1028.9L963.3 1032.5L966.3 1035.7L969.3 1038.6L972.3 1041.3L975.3 1043.7L978.3 1045.8L981.3 1047.7L984.3 1049.4L987.3 1050.9L990.3 1052.2L993.3 1053.4L996.3 1054.4L999.3 1055.3L1002.3 1056.1L1005.3 1056.7L1008.3 1057.3L1011.3 1057.8L1014.3 1058.2L1017.3 1058.5L1020.3 1058.8L1023.3 1059.1L1026.3 1059.3L1029.3 1059.5L1032.3 1059.6L1035.3 1059.8L1038.3 1059.9L1041.3 1059.9L1044.3 1060.0L1047.3 1060.1L1050.3 1060.1L1053.3 1060.2L1056.3 1060.2L1059.3 1060.2L1062.3 1060.2L1065.3 1060.2L1068.3 1060.3L1071.3 1060.3L1074.3 1060.3L1077.3 1060.3L1080.3 1060.3L1083.3 1060.3L1086.3 1060.3L1089.3 1060.3L1092.3 1060.3L1095.3 1060.3L1098.3 1060.3L1101.3 1060.3L1104.3 1060.3L1107.3 1060.3L1110.3 1060.3L1113.3 1060.3L1116.3 1060.3L1119.3 1060.3L1122.3 1060.3L1125.3 1060.3L1128.3 1060.3L1131.3 1060.3L1134.3 1060.3L1137.3 1060.3L1140.3 1060.3L1143.3 1060.3L1146.3 1060.3L1149.3 1060.3L1152.3 1060.3L1155.3 1060.3L1158.3 1060.3L1161.3 1060.3L1164.3 1060.3L1167.3 1060.3L1170.3 1060.3L1173.3 1060.3L1176.3 1060.3L1179.3 1060.3L1182.3 1060.3L1185.3 1060.3L1188.3 1060.3L1191.3 1060.3L1194.3 1060.3L1197.3 1060.3L1200.3 1060.3L1203.3 1060.3L1206.3 1060.3L1209.3 1060.3L1212.3 1060.3L1215.3 1060.3L1218.3 1060.3L1221.3 1060.3L1224.3 1060.3L1227.3 1060.3L1230.3 1060.3L1233.3 1060.3L1236.3 1060.3L1239.3 1060.3L1242.3 1060.3L1245.3 1060.3L1248.3 1060.3L1251.3 1060.3L1254.3 1060.3L1257.3 1060.3L1260.3 1060.3L1263.3 1060.3L1266.3 1060.3L1269.3 1060.3L1272.3 1060.3L1275.3 1060.3L1278.3 1060.3L1281.3 1060.3L1284.3 1060.3L1287.3 1060.3L1290.3 1060.3L1293.3 1060.3L1296.3 1060.3L1299.3 1060.3L1302.3 1060.3L1305.3 1060.3L1308.3 1060.3L1311.3 1060.3L1314.3 1060.3L1317.3 1060.3L1320.3 1060.3L1323.3 1060.3L1326.3 1060.3L1329.3 1060.3L1332.3 1060.3L1335.3 1060.3L1338.3 1060.3L1341.3 1060.3L1344.3 1060.3L1347.3 1060.3L1350.3 1060.3L1353.3 1060.3L1356.3 1060.3L1359.3 1060.3L1362.3 1060.3L1365.3 1060.3L1368.3 1060.3L1371.3 1060.3L1374.3 1060.3L1377.3 1060.3L1380.3 1060.3L1383.3 1060.3L1386.3 1060.3L1389.3 1060.3L1392.3 1060.3L1395.3 1060.3L1398.3 1060.3L1401.3 1060.3L1404.3 1060.3L1407.3 1060.3L1410.3 1060.3L1413.3 1060.3L1416.3 1060.3L1419.3 1060.3L1422.3 1060.3L1425.3 1060.3L1428.3 1060.3L1431.3 1060.3L1434.3 1060.3L1437.3 1060.3L1440.3 1060.3L1443.3 1060.3L1446.3 1060.3L1449.3 1060.3L1452.3 1060.3L1455.3 1060.3L1458.3 1060.3L1461.3 1060.3L1464.3 1060.3L1467.3 1060.3L1470.3 1060.3L1473.3 1060.3L1476.3 1060.3L1479.3 1060.3L1482.3 1060.3L1485.3 1060.3L1488.3 1060.3L1491.3 1060.3L1494.3 1060.3L1497.3 1060.3L1500.3 1060.3L1503.3 1060.3L1506.3 1060.3L1509.3 1060.3L1512.3 1060.3L1515.3 1060.3L1518.3 1060.3L1521.3 1060.3L1524.3 1060.3L1527.3 1060.3L1530.3 1060.3L1533.3 1060.3L1536.3 1060.3L1539.3 1060.3L1542.3 1060.3L1545.3 1060.3L1548.3 1060.3L1551.3 1060.3L1554.3 1060.3L1557.3 1060.3L1560.3 1060.3L1563.3 1060.3L1566.3 1060.3L1569.3 1060.3L1572.3 1060.3L1575.3 1060.3L1578.3 1060.3L1581.3 1060.3L1584.3 1060.3L1587.3 1060.3L1590.3 1060.3L1593.3 1060.3L1596.3 1060.3L1599.3 1060.3L1602.3 1060.3L1605.3 1060.3L1608.3 1060.3L1611.3 1060.3L1614.3 1060.3L1617.3 1060.3L1620.3 1060.3L1623.3 1060.3L1626.3 1060.3L1629.3 1060.3L1632.3 1060.3L1635.3 1060.3L1638.3 1060.3L1641.3 1060.3L1644.3 1060.3L1647.3 1060.3L1650.3 1060.3L1653.3 1060.3L1656.3 1060.3L1659.3 1060.3L1662.3 1060.3L1665.3 1060.3L1668.3 1060.3L1671.3 1060.3L1674.3 1060.3L1677.3 1060.3L1680.3 1060.3L1683.3 1060.3L1686.3 1060.3L1689.3 1060.3L1692.3 1060.3L1695.3 1060.3L1698.3 1060.3L1701.3 1060.3L1704.3 1060.3L1707.3 1060.3L1710.3 1060.3L1713.3 1060.3L1716.3 1060.3L1719.3 1060.3L1722.3 1060.3L1725.3 1060.3L1728.3 1060.3L1731.3 1060.3L1734.3 1060.3L1737.3 1060.3L1740.3 1060.3L1743.3 1060.3L1746.3 1060.3L1749.3 1060.3L1752.3 1060.3L1755.3 1060.3L1758.3 1060.3L1761.3 1060.3L1764.3 1060.3L1767.3 1060.3L1770.3 1060.3L1773.3 1060.3L1776.3 1060.3L1779.3 1060.3L1782.3 1060.3L1785.3 1060.3L1788.3 1060.3L1791.3 1060.3L1794.3 1060.3L1797.3 1060.3L1800.3 1060.3L1803.3 1060.3L1806.3 1060.3L1809.3 1060.3L1812.3 1060.3L1815.3 1060.3L1818.3 1060.3L1821.3 1060.3L1824.3 1060.3L1827.3 1060.3L1830.3 1060.3L1833.3 1060.3L1836.3 1060.3L1839.3 1060.3L1842.3 1060.3L1845.3 1060.3L1848.3 1060.3L1851.3 1060.3L1854.3 1060.3L1857.3 1060.3L1860.3 1060.3L1863.3 1060.3L1866.3 1060.3L1869.3 1060.3L1872.3 1060.3L1875.3 1060.3L1878.3 1060.3L1881.3 1060.3L1884.3 1060.3L1887.3 1060.3L1890.3 1060.3L1893.3 1060.3L1896.3 1060.3L1899.3 1060.3L1902.3 1060.3L1905.3 1060.3L1908.3 1060.3L1911.3 1060.3L1914.3 1060.3L1917.3 1060.3L1920.3 1060.3L1923.3 1060.3L1926.3 1060.3L1929.3 1060.3L1932.3 1060.3L1935.3 1060.3L1938.3 1060.3L1941.3 1060.3L1944.3 1060.3L1947.3 1060.3L1950.3 1060.3"/>
<path d="M480.3 1060.3L483.3 1060.3L486.3 1060.3L489.3 1060.3L492.3 1060.3L495.3 1060.3L498.3 1060.3L501.3 1060.3L504.3 1060.3L507.3 1060.3L510.3 1060.3L513.3 1060.3L516.3 1060.3L519.3 1060.3L522.3 1060.3L525.3 1060.3L528.3 1060.3L531.3 1060.3L534.3 1060.3L537.3 1060.3L540.3 1060.3L543.3 1060.3L546.3 1060.3L549.3 1060.3L552.3 1060.3L555.3 1060.3L558.3 1060.3L561.3 1060.3L564.3 1060.3L567.3 1060.3L570.3 1060.3L573.3 1060.3L576.3 1060.3L579.3 1060.3L582.3 1060.3L585.3 1060.3L588.3 1060.3L591.3 1060.3L594.3 1060.3L597.3 1060.3L600.3 1060.3L603.3 1060.3L606.3 1060.3L609.3 1060.3L612.3 1060.3L615.3 1060.3L618.3 1060.3L621.3 1060.3L624.3 1060.3L627.3 1060.3L630.3 1060.3L633.3 1060.3L636.3 1060.3L639.3 1060.3L642.3 1060.3L645.3 1060.3L648.3 1060.3L651.3 1060.3L654.3 1060.3L657.3 1060.3L660.3 1060.3L663.3 1060.3L666.3 1060.3L669.3 1060.3L672.3 1060.3L675.3 1060.3L678.3 1060.3L681.3 1060.3L684.3 1060.3L687.3 1060.3L690.3 1060.3L693.3 1060.3L696.3 1060.3L699.3 1060.3L702.3 1060.3L705.3 1060.3L708.3 1060.3L711.3 1060.3L714.3 1060.3L717.3 1060.3L720.3 1060.3L723.3 1060.3L726.3 1060.3L729.3 1060.3L732.3 1060.3L735.3 1060.3L738.3 1060.3L741.3 1060.3L744.3 1060.3L747.3 1060.3L750.3 1060.3L753.3 1060.3L756.3 1060.3L759.3 1060.3L762.3 1060.3L765.3 1060.3L768.3 1060.3L771.3 1060.3L774.3 1060.3L777.3 1060.2L780.3 1060.2L783.3 1060.2L786.3 1060.2L789.3 1060.2L792.3 1060.2L795.3 1060.1L798.3 1060.1L801.3 1060.1L804.3 1060.0L807.3 1060.0L810.3 1059.9L813.3 1059.8L816.3 1059.7L819.3 1059.6L822.3 1059.5L825.3 1059.4L828.3 1059.2L831.3 1059.0L834.3 1058.8L837.3 1058.5L840.3 1058.2L843.3 1057.9L846.3 1057.5L849.3 1057.1L852.3 1056.6L855.3 1056.0L858.3 1055.3L861.3 1054.6L864.3 1053.8L867.3 1052.9L870.3 1051.9L873.3 1050.7L876.3 1049.4L879.3 1048.0L882.3 1046.5L885.3 1044.8L888.3 1042.9L891.3 1040.8L894.3 1038.5L897.3 1036.0L900.3 1033.3L903.3 1030.4L906.3 1027.2L909.3 1023.8L912.3 1020.1L915.3 1016.1L918.3 1011.9L921.3 1007.4L924.3 1002.6L927.3 997.6L930.3 992.2L933.3 986.6L936.3 980.7L939.3 974.5L942.3 968.1L945.3 961.4L948.3 954.5L951.3 947.4L954.3 940.0L957.3 932.6L960.3 924.9L963.3 917.2L966.3 909.3L969.3 901.5L972.3 893.6L975.3 885.7L978.3 877.9L981.3 870.2L984.3 862.6L987.3 855.2L990.3 848.1L993.3 841.2L996.3 834.7L999.3 828.5L1002.3 822.7L1005.3 817.3L1008.3 812.4L1011.3 808.0L1014.3 804.1L1017.3 800.8L1020.3 798.1L1023.3 796.0L1026.3 794.4L1029.3 793.6L1032.3 793.3L1035.3 794.2L1038.3 796.0L1041.3 798.7L1044.3 802.2L1047.3 806.3L1050.3 811.0L1053.3 816.3L1056.3 822.0L1059.3 828.2L1062.3 834.7L1065.3 841.6L1068.3 848.7L1071.3 856.0L1074.3 863.5L1077.3 871.2L1080.3 878.9L1083.3 886.6L1086.3 894.4L1089.3 902.2L1092.3 909.8L1095.3 917.4L1098.3 924.9L1101.3 932.2L1104.3 939.4L1107.3 946.4L1110.3 953.2L1113.3 959.7L1116.3 966.1L1119.3 972.2L1122.3 978.0L1125.3 983.6L1128.3 989.0L1131.3 994.1L1134.3 998.9L1137.3 1003.5L1140.3 1007.8L1143.3 1011.9L1146.3 1015.7L1149.3 1019.4L1152.3 1022.7L1155.3 1025.9L1158.3 1028.8L1161.3 1031.6L1164.3 1034.1L1167.3 1036.5L1170.3 1038.7L1173.3 1040.7L1176.3 1042.6L1179.3 1044.3L1182.3 1045.8L1185.3 1047.3L1188.3 1048.6L1191.3 1049.8L1194.3 1050.9L1197.3 1051.8L1200.3 1052.7L1203.3 1053.6L1206.3 1054.3L1209.3 1055.0L1212.3 1055.6L1215.3 1056.1L1218.3 1056.6L1221.3 1057.0L1224.3 1057.4L1227.3 1057.7L1230.3 1058.0L1233.3 1058.3L1236.3 1058.6L1239.3 1058.8L1242.3 1059.0L1245.3 1059.1L1248.3 1059.3L1251.3 1059.4L1254.3 1059.5L1257.3 1059.6L1260.3 1059.7L1263.3 1059.8L1266.3 1059.9L1269.3 1059.9L1272.3 1060.0L1275.3 1060.0L1278.3 1060.1L1281.3 1060.1L1284.3 1060.1L1287.3 1060.2L1290.3 1060.2L1293.3 1060.2L1296.3 1060.2L1299.3 1060.2L1302.3 1060.2L1305.3 1060.2L1308.3 1060.3L1311.3 1060.3L1314.3 1060.3L1317.3 1060.3L1320.3 1060.3L1323.3 1060.3L1326.3 1060.3L1329.3 1060.3L1332.3 1060.3L1335.3 1060.3L1338.3 1060.3L1341.3 1060.3L1344.3 1060.3L1347.3 1060.3L1350.3 1060.3L1353.3 1060.3L1356.3 1060.3L1359.3 1060.3L1362.3 1060.3L1365.3 1060.3L1368.3 1060.3L1371.3 1060.3L1374.3 1060.3L1377.3 1060.3L1380.3 1060.3L1383.3 1060.3L1386.3 1060.3L1389.3 1060.3L1392.3 1060.3L1395.3 1060.3L1398.3 1060.3L1401.3 1060.3L1404.3 1060.3L1407.3 1060.3L1410.3 1060.3L1413.3 1060.3L1416.3 1060.3L1419.3 1060.3L1422.3 1060.3L1425.3 1060.3L1428.3 1060.3L1431.3 1060.3L1434.3 1060.3L1437.3 1060.3L1440.3 1060.3L1443.3 1060.3L1446.3 1060.3L1449.3 1060.3L1452.3 1060.3L1455.3 1060.3L1458.3 1060.3L1461.3 1060.3L1464.3 1060.3L1467.3 1060.3L1470.3 1060.3L1473.3 1060.3L1476.3 1060.3L1479.3 1060.3L1482.3 1060.3L1485.3 1060.3L1488.3 1060.3L1491.3 1060.3L1494.3 1060.3L1497.3 1060.3L1500.3 1060.3L1503.3 1060.3L1506.3 1060.3L1509.3 1060.3L1512.3 1060.3L1515.3 1060.3L1518.3 1060.3L1521.3 1060.3L1524.3 1060.3L1527.3 1060.3L1530.3 1060.3L1533.3 1060.3L1536.3 1060.3L1539.3 1060.3L1542.3 1060.3L1545.3 1060.3L1548.3 1060.3L1551.3 1060.3L1554.3 1060.3L1557.3 1060.3L1560.3 1060.3L1563.3 1060.3L1566.3 1060.3L1569.3 1060.3L1572.3 1060.3L1575.3 1060.3L1578.3 1060.3L1581.3 1060.3L1584.3 1060.3L1587.3 1060.3L1590.3 1060.3L1593.3 1060.3L1596.3 1060.3L1599.3 1060.3L1602.3 1060.3L1605.3 1060.3L1608.3 1060.3L1611.3 1060.3L1614.3 1060.3L1617.3 1060.3L1620.3 1060.3L1623.3 1060.3L1626.3 1060.3L1629.3 1060.3L1632.3 1060.3L1635.3 1060.3L1638.3 1060.3L1641.3 1060.3L1644.3 1060.3L1647.3 1060.3L1650.3 1060.3L1653.3 1060.3L1656.3 1060.3L1659.3 1060.3L1662.3 1060.3L1665.3 1060.3L1668.3 1060.3L1671.3 1060.3L1674.3 1060.3L1677.3 1060.3L1680.3 1060.3L1683.3 1060.3L1686.3 1060.3L1689.3 1060.3L1692.3 1060.3L1695.3 1060.3L1698.3 1060.3L1701.3 1060.3L1704.3 1060.3L1707.3 1060.3L1710.3 1060.3L1713.3 1060.3L1716.3 1060.3L1719.3 1060.3L1722.3 1060.3L1725.3 1060.3L1728.3 1060.3L1731.3 1060.3L1734.3 1060.3L1737.3 1060.3L1740.3 1060.3L1743.3 1060.3L1746.3 1060.3L1749.3 1060.3L1752.3 1060.3L1755.3 1060.3L1758.3 1060.3L1761.3 1060.3L1764.3 1060.3L1767.3 1060.3L1770.3 1060.3L1773.3 1060.3L1776.3 1060.3L1779.3 1060.3L1782.3 1060.3L1785.3 1060.3L1788.3 1060.3L1791.3 1060.3L1794.3 1060.3L1797.3 1060.3L1800.3 1060.3L1803.3 1060.3L1806.3 1060.3L1809.3 1060.3L1812.3 1060.3L1815.3 1060.3L1818.3 1060.3L1821.3 1060.3L1824.3 1060.3L1827.3 1060.3L1830.3 1060.3L1833.3 1060.3L1836.3 1060.3L1839.3 1060.3L1842.3 1060.3L1845.3 1060.3L1848.3 1060.3L1851.3 1060.3L1854.3 1060.3L1857.3 1060.3L1860.3 1060.3L1863.3 1060.3L1866.3 1060.3L1869.3 1060.3L1872.3 1060.3L1875.3 1060.3L1878.3 1060.3L1881.3 1060.3L1884.3 1060.3L1887.3 1060.3L1890.3 1060.3L1893.3 1060.3L1896.3 1060.3L1899.3 1060.3L1902.3 1060.3L1905.3 1060.3L1908.3 1060.3L1911.3 1060.3L1914.3 1060.3L1917.3 1060.3L1920.3 1060.3L1923.3 1060.3L1926.3 1060.3L1929.3 1060.3L1932.3 1060.3L1935.3 1060.3L1938.3 1060.3L1941.3 1060.3L1944.3 1060.3L1947.3 1060.3L1950.3 1060.3"/>
<path d="M471.0 1339.8L474.0 1339.8L477.0 1339.8L480.0 1339.8L483.0 1339.8L486.0 1339.8L489.0 1339.8L492.0 1339.8L495.0 1339.8L498.0 1339.8L501.0 1339.8L504.0 1339.8L507.0 1339.8L510.0 1339.8L513.0 1339.8L516.0 1339.8L519.0 1339.8L522.0 1339.8L525.0 1339.8L528.0 1339.8L531.0 1339.8L534.0 1339.8L537.0 1339.8L540.0 1339.8L543.0 1339.8L546.0 1339.8L549.0 1339.8L552.0 1339.8L555.0 1339.8L558.0 1339.8L561.0 1339.8L564.0 1339.8L567.0 1339.8L570.0 1339.8L573.0 1339.8L576.0 1339.8L579.0 1339.8L582.0 1339.8L585.0 1339.8L588.0 1339.8L591.0 1339.8L594.0 1339.8L597.0 1339.8L600.0 1339.8L603.0 1339.8L606.0 1339.8L609.0 1339.8L612.0 1339.8L615.0 1339.8L618.0 1339.8L621.0 1339.8L624.0 1339.8L627.0 1339.8L630.0 1339.8L633.0 1339.8L636.0 1339.8L639.0 1339.8L642.0 1339.8L645.0 1339.8L648.0 1339.8L651.0 1339.8L654.0 1339.8L657.0 1339.8L660.0 1339.8L663.0 1339.8L666.0 1339.8L669.0 1339.8L672.0 1339.7L675.0 1339.7L678.0 1339.7L681.0 1339.7L684.0 1339.7L687.0 1339.6L690.0 1339.6L693.0 1339.5L696.0 1339.4L699.0 1339.3L702.0 1339.2L705.0 1339.1L708.0 1338.9L711.0 1338.7L714.0 1338.5L717.0 1338.2L720.0 1337.9L723.0 1337.5L726.0 1337.0L729.0 1336.5L732.0 1335.8L735.0 1335.0L738.0 1334.2L741.0 1333.1L744.0 1332.0L747.0 1330.6L750.0 1329.1L753.0 1327.3L756.0 1325.3L759.0 1323.1L762.0 1320.6L765.0 1317.8L768.0 1314.7L771.0 1311.3L774.0 1307.5L777.0 1303.4L780.0 1299.0L783.0 1294.1L786.0 1288.9L789.0 1283.3L792.0 1277.3L795.0 1270.9L798.0 1264.2L801.0 1257.2L804.0 1249.9L807.0 1242.3L810.0 1234.5L813.0 1226.5L816.0 1218.3L819.0 1210.1L822.0 1201.9L825.0 1193.7L828.0 1185.6L831.0 1177.7L834.0 1170.0L837.0 1162.7L840.0 1155.8L843.0 1149.4L846.0 1143.5L849.0 1138.2L852.0 1133.5L855.0 1129.6L858.0 1126.5L861.0 1124.1L864.0 1122.6L867.0 1121.8L870.0 1121.9L873.0 1122.6L876.0 1123.8L879.0 1125.5L882.0 1127.8L885.0 1130.5L888.0 1133.8L891.0 1137.5L894.0 1141.7L897.0 1146.3L900.0 1151.2L903.0 1156.5L906.0 1162.1L909.0 1168.0L912.0 1174.1L915.0 1180.4L918.0 1186.8L921.0 1193.4L924.0 1200.0L927.0 1206.7L930.0 1213.4L933.0 1220.0L936.0 1226.6L939.0 1233.1L942.0 1239.5L945.0 1245.7L948.0 1251.8L951.0 1257.7L954.0 1263.4L957.0 1268.9L960.0 1274.1L963.0 1279.1L966.0 1283.9L969.0 1288.4L972.0 1292.7L975.0 1296.8L978.0 1300.6L981.0 1304.1L984.0 1307.4L987.0 1310.5L990.0 1313.4L993.0 1316.0L996.0 1318.4L999.0 1320.6L1002.0 1322.7L1005.0 1324.6L1008.0 1326.2L1011.0 1327.8L1014.0 1329.2L1017.0 1330.4L1020.0 1331.6L1023.0 1332.6L1026.0 1333.5L1029.0 1334.3L1032.0 1335.0L1035.0 1335.6L1038.0 1336.2L1041.0 1336.7L1044.0 1337.1L1047.0 1337.5L1050.0 1337.8L1053.0 1338.1L1056.0 1338.3L1059.0 1338.6L1062.0 1338.7L1065.0 1338.9L1068.0 1339.0L1071.0 1339.2L1074.0 1339.3L1077.0 1339.4L1080.0 1339.4L1083.0 1339.5L1086.0 1339.5L1089.0 1339.6L1092.0 1339.6L1095.0 1339.7L1098.0 1339.7L1101.0 1339.7L1104.0 1339.7L1107.0 1339.7L1110.0 1339.7L1113.0 1339.8L1116.0 1339.8L1119.0 1339.8L1122.0 1339.8L1125.0 1339.8L1128.0 1339.8L1131.0 1339.8L1134.0 1339.8L1137.0 1339.8L1140.0 1339.8L1143.0 1339.8L1146.0 1339.8L1149.0 1339.8L1152.0 1339.8L1155.0 1339.8L1158.0 1339.8L1161.0 1339.8L1164.0 1339.8L1167.0 1339.8L1170.0 1339.8L1173.0 1339.8L1176.0 1339.8L1179.0 1339.8L1182.0 1339.8L1185.0 1339.8L1188.0 1339.8L1191.0 1339.8L1194.0 1339.8L1197.0 1339.8L1200.0 1339.8L1203.0 1339.8L1206.0 1339.8L1209.0 1339.8L1212.0 1339.8L1215.0 1339.8L1218.0 1339.8L1221.0 1339.8L1224.0 1339.8L1227.0 1339.8L1230.0 1339.8L1233.0 1339.8L1236.0 1339.8L1239.0 1339.8L1242.0 1339.8L1245.0 1339.8L1248.0 1339.8L1251.0 1339.8L1254.0 1339.8L1257.0 1339.8L1260.0 1339.8L1263.0 1339.8L1266.0 1339.8L1269.0 1339.8L1272.0 1339.8L1275.0 1339.8L1278.0 1339.8L1281.0 1339.8L1284.0 1339.8L1287.0 1339.8L1290.0 1339.8L1293.0 1339.8L1296.0 1339.8L1299.0 1339.8L1302.0 1339.8L1305.0 1339.8L1308.0 1339.8L1311.0 1339.8L1314.0 1339.8L1317.0 1339.8L1320.0 1339.8L1323.0 1339.8L1326.0 1339.8L1329.0 1339.8L1332.0 1339.8L1335.0 1339.8L1338.0 1339.8L1341.0 1339.8L1344.0 1339.8L1347.0 1339.8L1350.0 1339.8L1353.0 1339.8L1356.0 1339.8L1359.0 1339.8L1362.0 1339.8L1365.0 1339.8L1368.0 1339.8L1371.0 1339.8L1374.0 1339.8L1377.0 1339.8L1380.0 1339.8L1383.0 1339.8L1386.0 1339.8L1389.0 1339.8L1392.0 1339.8L1395.0 1339.8L1398.0 1339.8L1401.0 1339.8L1404.0 1339.8L1407.0 1339.8L1410.0 1339.8L1413.0 1339.8L1416.0 1339.8L1419.0 1339.8L1422.0 1339.8L1425.0 1339.8L1428.0 1339.8L1431.0 1339.8L1434.0 1339.8L1437.0 1339.8L1440.0 1339.8L1443.0 1339.8L1446.0 1339.8L1449.0 1339.8L1452.0 1339.8L1455.0 1339.8L1458.0 1339.8L1461.0 1339.8L1464.0 1339.8L1467.0 1339.8L1470.0 1339.8L1473.0 1339.8L1476.0 1339.8L1479.0 1339.8L1482.0 1339.8L1485.0 1339.8L1488.0 1339.8L1491.0 1339.8L1494.0 1339.8L1497.0 1339.8L1500.0 1339.8L1503.0 1339.8L1506.0 1339.8L1509.0 1339.8L1512.0 1339.8L1515.0 1339.8L1518.0 1339.8L1521.0 1339.8L1524.0 1339.8L1527.0 1339.8L1530.0 1339.8L1533.0 1339.8L1536.0 1339.8L1539.0 1339.8L1542.0 1339.8L1545.0 1339.8L1548.0 1339.8L1551.0 1339.8L1554.0 1339.8L1557.0 1339.8L1560.0 1339.8L1563.0 1339.8L1566.0 1339.8L1569.0 1339.8L1572.0 1339.8L1575.0 1339.8L1578.0 1339.8L1581.0 1339.8L1584.0 1339.8L1587.0 1339.8L1590.0 1339.8L1593.0 1339.8L1596.0 1339.8L1599.0 1339.8L1602.0 1339.8L1605.0 1339.8L1608.0 1339.8L1611.0 1339.8L1614.0 1339.8L1617.0 1339.8L1620.0 1339.8L1623.0 1339.8L1626.0 1339.8L1629.0 1339.8L1632.0 1339.8L1635.0 1339.8L1638.0 1339.8L1641.0 1339.8L1644.0 1339.8L1647.0 1339.8L1650.0 1339.8L1653.0 1339.8L1656.0 1339.8L1659.0 1339.8L1662.0 1339.8L1665.0 1339.8L1668.0 1339.8L1671.0 1339.8L1674.0 1339.8L1677.0 1339.8L1680.0 1339.8L1683.0 1339.8L1686.0 1339.8L1689.0 1339.8L1692.0 1339.8L1695.0 1339.8L1698.0 1339.8L1701.0 1339.8L1704.0 1339.8L1707.0 1339.8L1710.0 1339.8L1713.0 1339.8L1716.0 1339.8L1719.0 1339.8L1722.0 1339.8L1725.0 1339.8L1728.0 1339.8L1731.0 1339.8L1734.0 1339.8L1737.0 1339.8L1740.0 1339.8L1743.0 1339.8L1746.0 1339.8L1749.0 1339.8L1752.0 1339.8L1755.0 1339.8L1758.0 1339.8L1761.0 1339.8L1764.0 1339.8L1767.0 1339.8L1770.0 1339.8L1773.0 1339.8L1776.0 1339.8L1779.0 1339.8L1782.0 1339.8L1785.0 1339.8L1788.0 1339.8L1791.0 1339.8L1794.0 1339.8L1797.0 1339.8L1800.0 1339.8L1803.0 1339.8L1806.0 1339.8L1809.0 1339.8L1812.0 1339.8L1815.0 1339.8L1818.0 1339.8L1821.0 1339.8L1824.0 1339.8L1827.0 1339.8L1830.0 1339.8L1833.0 1339.8L1836.0 1339.8L1839.0 1339.8L1842.0 1339.8L1845.0 1339.8L1848.0 1339.8L1851.0 1339.8L1854.0 1339.8L1857.0 1339.8L1860.0 1339.8L1863.0 1339.8L1866.0 1339.8L1869.0 1339.8L1872.0 1339.8L1875.0 1339.8L1878.0 1339.8L1881.0 1339.8L1884.0 1339.8L1887.0 1339.8L1890.0 1339.8L1893.0 1339.8L1896.0 1339.8L1899.0 1339.8L1902.0 1339.8L1905.0 1339.8L1908.0 1339.8L1911.0 1339.8L1914.0 1339.8L1917.0 1339.8L1920.0 1339.8L1923.0 1339.8L1926.0 1339.8L1929.0 1339.8L1932.0 1339.8L1935.0 1339.8L1938.0 1339.8L1941.0 1339.8L1944.0 1339.8L1947.0 1339.8L1950.0 1339.8"/>
<path d="M471.0 1339.8L474.0 1339.8L477.0 1339.8L480.0 1339.8L483.0 1339.8L486.0 1339.8L489.0 1339.8L492.0 1339.8L495.0 1339.8L498.0 1339.8L501.0 1339.8L504.0 1339.8L507.0 1339.8L510.0 1339.8L513.0 1339.8L516.0 1339.8L519.0 1339.8L522.0 1339.8L525.0 1339.8L528.0 1339.8L531.0 1339.8L534.0 1339.8L537.0 1339.8L540.0 1339.8L543.0 1339.8L546.0 1339.8L549.0 1339.8L552.0 1339.8L555.0 1339.8L558.0 1339.8L561.0 1339.8L564.0 1339.8L567.0 1339.8L570.0 1339.8L573.0 1339.8L576.0 1339.8L579.0 1339.8L582.0 1339.8L585.0 1339.8L588.0 1339.8L591.0 1339.8L594.0 1339.8L597.0 1339.8L600.0 1339.8L603.0 1339.8L606.0 1339.8L609.0 1339.8L612.0 1339.8L615.0 1339.8L618.0 1339.8L621.0 1339.8L624.0 1339.8L627.0 1339.8L630.0 1339.8L633.0 1339.8L636.0 1339.8L639.0 1339.8L642.0 1339.8L645.0 1339.8L648.0 1339.8L651.0 1339.8L654.0 1339.8L657.0 1339.8L660.0 1339.8L663.0 1339.8L666.0 1339.8L669.0 1339.8L672.0 1339.8L675.0 1339.8L678.0 1339.8L681.0 1339.8L684.0 1339.8L687.0 1339.8L690.0 1339.8L693.0 1339.8L696.0 1339.8L699.0 1339.8L702.0 1339.8L705.0 1339.8L708.0 1339.8L711.0 1339.8L714.0 1339.8L717.0 1339.8L720.0 1339.8L723.0 1339.8L726.0 1339.8L729.0 1339.8L732.0 1339.8L735.0 1339.8L738.0 1339.8L741.0 1339.8L744.0 1339.8L747.0 1339.8L750.0 1339.8L753.0 1339.8L756.0 1339.8L759.0 1339.8L762.0 1339.8L765.0 1339.8L768.0 1339.8L771.0 1339.8L774.0 1339.8L777.0 1339.8L780.0 1339.8L783.0 1339.8L786.0 1339.8L789.0 1339.8L792.0 1339.8L795.0 1339.8L798.0 1339.8L801.0 1339.8L804.0 1339.8L807.0 1339.8L810.0 1339.8L813.0 1339.8L816.0 1339.8L819.0 1339.8L822.0 1339.8L825.0 1339.7L828.0 1339.7L831.0 1339.7L834.0 1339.7L837.0 1339.7L840.0 1339.6L843.0 1339.6L846.0 1339.6L849.0 1339.5L852.0 1339.4L855.0 1339.4L858.0 1339.3L861.0 1339.2L864.0 1339.0L867.0 1338.9L870.0 1338.7L873.0 1338.5L876.0 1338.3L879.0 1338.0L882.0 1337.7L885.0 1337.3L888.0 1336.9L891.0 1336.4L894.0 1335.9L897.0 1335.2L900.0 1334.5L903.0 1333.7L906.0 1332.7L909.0 1331.7L912.0 1330.5L915.0 1329.1L918.0 1327.6L921.0 1325.9L924.0 1324.1L927.0 1322.0L930.0 1319.7L933.0 1317.2L936.0 1314.4L939.0 1311.4L942.0 1308.1L945.0 1304.5L948.0 1300.6L951.0 1296.4L954.0 1291.8L957.0 1287.0L960.0 1281.7L963.0 1276.2L966.0 1270.3L969.0 1264.0L972.0 1257.4L975.0 1250.5L978.0 1243.3L981.0 1235.7L984.0 1227.8L987.0 1219.7L990.0 1211.4L993.0 1202.8L996.0 1194.0L999.0 1185.1L1002.0 1176.1L1005.0 1167.0L1008.0 1157.9L1011.0 1148.8L1014.0 1139.8L1017.0 1131.0L1020.0 1122.4L1023.0 1113.9L1026.0 1105.8L1029.0 1098.1L1032.0 1090.8L1035.0 1083.9L1038.0 1077.5L1041.0 1071.7L1044.0 1066.5L1047.0 1062.0L1050.0 1058.1L1053.0 1055.0L1056.0 1052.5L1059.0 1050.9L1062.0 1050.0L1065.0 1049.9L1068.0 1051.1L1071.0 1053.2L1074.0 1056.1L1077.0 1059.8L1080.0 1064.1L1083.0 1069.0L1086.0 1074.5L1089.0 1080.4L1092.0 1086.8L1095.0 1093.5L1098.0 1100.5L1101.0 1107.8L1104.0 1115.4L1107.0 1123.1L1110.0 1131.0L1113.0 1138.9L1116.0 1146.9L1119.0 1155.0L1122.0 1163.0L1125.0 1171.0L1128.0 1178.9L1131.0 1186.7L1134.0 1194.4L1137.0 1201.9L1140.0 1209.3L1143.0 1216.5L1146.0 1223.5L1149.0 1230.2L1152.0 1236.8L1155.0 1243.1L1158.0 1249.2L1161.0 1255.0L1164.0 1260.6L1167.0 1265.9L1170.0 1271.0L1173.0 1275.9L1176.0 1280.4L1179.0 1284.8L1182.0 1288.9L1185.0 1292.8L1188.0 1296.4L1191.0 1299.8L1194.0 1303.0L1197.0 1306.0L1200.0 1308.8L1203.0 1311.4L1206.0 1313.9L1209.0 1316.1L1212.0 1318.2L1215.0 1320.2L1218.0 1321.9L1221.0 1323.6L1224.0 1325.1L1227.0 1326.5L1230.0 1327.8L1233.0 1328.9L1236.0 1330.0L1239.0 1331.0L1242.0 1331.9L1245.0 1332.7L1248.0 1333.4L1251.0 1334.1L1254.0 1334.7L1257.0 1335.3L1260.0 1335.8L1263.0 1336.2L1266.0 1336.6L1269.0 1337.0L1272.0 1337.3L1275.0 1337.6L1278.0 1337.8L1281.0 1338.1L1284.0 1338.3L1287.0 1338.4L1290.0 1338.6L1293.0 1338.8L1296.0 1338.9L1299.0 1339.0L1302.0 1339.1L1305.0 1339.2L1308.0 1339.3L1311.0 1339.3L1314.0 1339.4L1317.0 1339.4L1320.0 1339.5L1323.0 1339.5L1326.0 1339.6L1329.0 1339.6L1332.0 1339.6L1335.0 1339.7L1338.0 1339.7L1341.0 1339.7L1344.0 1339.7L1347.0 1339.7L1350.0 1339.7L1353.0 1339.7L1356.0 1339.7L1359.0 1339.8L1362.0 1339.8L1365.0 1339.8L1368.0 1339.8L1371.0 1339.8L1374.0 1339.8L1377.0 1339.8L1380.0 1339.8L1383.0 1339.8L1386.0 1339.8L1389.0 1339.8L1392.0 1339.8L1395.0 1339.8L1398.0 1339.8L1401.0 1339.8L1404.0 1339.8L1407.0 1339.8L1410.0 1339.8L1413.0 1339.8L1416.0 1339.8L1419.0 1339.8L1422.0 1339.8L1425.0 1339.8L1428.0 1339.8L1431.0 1339.8L1434.0 1339.8L1437.0 1339.8L1440.0 1339.8L1443.0 1339.8L1446.0 1339.8L1449.0 1339.8L1452.0 1339.8L1455.0 1339.8L1458.0 1339.8L1461.0 1339.8L1464.0 1339.8L1467.0 1339.8L1470.0 1339.8L1473.0 1339.8L1476.0 1339.8L1479.0 1339.8L1482.0 1339.8L1485.0 1339.8L1488.0 1339.8L1491.0 1339.8L1494.0 1339.8L1497.0 1339.8L1500.0 1339.8L1503.0 1339.8L1506.0 1339.8L1509.0 1339.8L1512.0 1339.8L1515.0 1339.8L1518.0 1339.8L1521.0 1339.8L1524.0 1339.8L1527.0 1339.8L1530.0 1339.8L1533.0 1339.8L1536.0 1339.8L1539.0 1339.8L1542.0 1339.8L1545.0 1339.8L1548.0 1339.8L1551.0 1339.8L1554.0 1339.8L1557.0 1339.8L1560.0 1339.8L1563.0 1339.8L1566.0 1339.8L1569.0 1339.8L1572.0 1339.8L1575.0 1339.8L1578.0 1339.8L1581.0 1339.8L1584.0 1339.8L1587.0 1339.8L1590.0 1339.8L1593.0 1339.8L1596.0 1339.8L1599.0 1339.8L1602.0 1339.8L1605.0 1339.8L1608.0 1339.8L1611.0 1339.8L1614.0 1339.8L1617.0 1339.8L1620.0 1339.8L1623.0 1339.8L1626.0 1339.8L1629.0 1339.8L1632.0 1339.8L1635.0 1339.8L1638.0 1339.8L1641.0 1339.8L1644.0 1339.8L1647.0 1339.8L1650.0 1339.8L1653.0 1339.8L1656.0 1339.8L1659.0 1339.8L1662.0 1339.8L1665.0 1339.8L1668.0 1339.8L1671.0 1339.8L1674.0 1339.8L1677.0 1339.8L1680.0 1339.8L1683.0 1339.8L1686.0 1339.8L1689.0 1339.8L1692.0 1339.8L1695.0 1339.8L1698.0 1339.8L1701.0 1339.8L1704.0 1339.8L1707.0 1339.8L1710.0 1339.8L1713.0 1339.8L1716.0 1339.8L1719.0 1339.8L1722.0 1339.8L1725.0 1339.8L1728.0 1339.8L1731.0 1339.8L1734.0 1339.8L1737.0 1339.8L1740.0 1339.8L1743.0 1339.8L1746.0 1339.8L1749.0 1339.8L1752.0 1339.8L1755.0 1339.8L1758.0 1339.8L1761.0 1339.8L1764.0 1339.8L1767.0 1339.8L1770.0 1339.8L1773.0 1339.8L1776.0 1339.8L1779.0 1339.8L1782.0 1339.8L1785.0 1339.8L1788.0 1339.8L1791.0 1339.8L1794.0 1339.8L1797.0 1339.8L1800.0 1339.8L1803.0 1339.8L1806.0 1339.8L1809.0 1339.8L1812.0 1339.8L1815.0 1339.8L1818.0 1339.8L1821.0 1339.8L1824.0 1339.8L1827.0 1339.8L1830.0 1339.8L1833.0 1339.8L1836.0 1339.8L1839.0 1339.8L1842.0 1339.8L1845.0 1339.8L1848.0 1339.8L1851.0 1339.8L1854.0 1339.8L1857.0 1339.8L1860.0 1339.8L1863.0 1339.8L1866.0 1339.8L1869.0 1339.8L1872.0 1339.8L1875.0 1339.8L1878.0 1339.8L1881.0 1339.8L1884.0 1339.8L1887.0 1339.8L1890.0 1339.8L1893.0 1339.8L1896.0 1339.8L1899.0 1339.8L1902.0 1339.8L1905.0 1339.8L1908.0 1339.8L1911.0 1339.8L1914.0 1339.8L1917.0 1339.8L1920.0 1339.8L1923.0 1339.8L1926.0 1339.8L1929.0 1339.8L1932.0 1339.8L1935.0 1339.8L1938.0 1339.8L1941.0 1339.8L1944.0 1339.8L1947.0 1339.8L1950.0 1339.8"/>
<path d="M481.4 1582.1L484.4 1582.1L487.4 1582.1L490.4 1582.1L493.4 1582.1L496.4 1582.1L499.4 1582.1L502.4 1582.1L505.4 1582.1L508.4 1582.1L511.4 1582.1L514.4 1582.1L517.4 1582.1L520.4 1582.1L523.4 1582.1L526.4 1582.1L529.4 1582.1L532.4 1582.1L535.4 1582.1L538.4 1582.1L541.4 1582.1L544.4 1582.1L547.4 1582.1L550.4 1582.1L553.4 1582.1L556.4 1582.1L559.4 1582.1L562.4 1582.1L565.4 1582.1L568.4 1582.1L571.4 1582.1L574.4 1582.1L577.4 1582.1L580.4 1582.1L583.4 1582.1L586.4 1582.1L589.4 1582.1L592.4 1582.1L595.4 1582.1L598.4 1582.1L601.4 1582.1L604.4 1582.1L607.4 1582.1L610.4 1582.1L613.4 1582.1L616.4 1582.1L619.4 1582.1L622.4 1582.1L625.4 1582.1L628.4 1582.1L631.4 1582.1L634.4 1582.1L637.4 1582.1L640.4 1582.1L643.4 1582.1L646.4 1582.1L649.4 1582.1L652.4 1582.1L655.4 1582.1L658.4 1582.1L661.4 1582.1L664.4 1582.1L667.4 1582.1L670.4 1582.1L673.4 1582.1L676.4 1582.1L679.4 1582.1L682.4 1582.1L685.4 1582.1L688.4 1582.1L691.4 1582.1L694.4 1582.0L697.4 1582.0L700.4 1582.0L703.4 1582.0L706.4 1581.9L709.4 1581.8L712.4 1581.8L715.4 1581.7L718.4 1581.5L721.4 1581.3L724.4 1581.1L727.4 1580.9L730.4 1580.5L733.4 1580.1L736.4 1579.6L739.4 1579.0L742.4 1578.2L745.4 1577.3L748.4 1576.2L751.4 1574.9L754.4 1573.4L757.4 1571.6L760.4 1569.6L763.4 1567.2L766.4 1564.4L769.4 1561.3L772.4 1557.7L775.4 1553.7L778.4 1549.3L781.4 1544.3L784.4 1538.9L787.4 1533.0L790.4 1526.6L793.4 1519.7L796.4 1512.4L799.4 1504.7L802.4 1496.7L805.4 1488.3L808.4 1479.7L811.4 1471.0L814.4 1462.3L817.4 1453.6L820.4 1445.1L823.4 1436.9L826.4 1429.1L829.4 1421.8L832.4 1415.1L835.4 1409.2L838.4 1404.1L841.4 1399.9L844.4 1396.7L847.4 1394.6L850.4 1393.5L853.4 1393.6L856.4 1394.7L859.4 1396.9L862.4 1400.2L865.4 1404.4L868.4 1409.5L871.4 1415.5L874.4 1422.2L877.4 1429.6L880.4 1437.4L883.4 1445.6L886.4 1454.2L889.4 1462.9L892.4 1471.6L895.4 1480.3L898.4 1488.9L901.4 1497.2L904.4 1505.2L907.4 1512.9L910.4 1520.2L913.4 1527.0L916.4 1533.4L919.4 1539.3L922.4 1544.7L925.4 1549.6L928.4 1554.0L931.4 1558.0L934.4 1561.5L937.4 1564.6L940.4 1567.3L943.4 1569.7L946.4 1571.8L949.4 1573.5L952.4 1575.0L955.4 1576.3L958.4 1577.4L961.4 1578.3L964.4 1579.0L967.4 1579.6L970.4 1580.1L973.4 1580.5L976.4 1580.9L979.4 1581.1L982.4 1581.4L985.4 1581.5L988.4 1581.7L991.4 1581.8L994.4 1581.8L997.4 1581.9L1000.4 1582.0L1003.4 1582.0L1006.4 1582.0L1009.4 1582.0L1012.4 1582.1L1015.4 1582.1L1018.4 1582.1L1021.4 1582.1L1024.4 1582.1L1027.4 1582.1L1030.4 1582.1L1033.4 1582.1L1036.4 1582.1L1039.4 1582.1L1042.4 1582.1L1045.4 1582.1L1048.4 1582.1L1051.4 1582.1L1054.4 1582.1L1057.4 1582.1L1060.4 1582.1L1063.4 1582.1L1066.4 1582.1L1069.4 1582.1L1072.4 1582.1L1075.4 1582.1L1078.4 1582.1L1081.4 1582.1L1084.4 1582.1L1087.4 1582.1L1090.4 1582.1L1093.4 1582.1L1096.4 1582.1L1099.4 1582.1L1102.4 1582.1L1105.4 1582.1L1108.4 1582.1L1111.4 1582.1L1114.4 1582.1L1117.4 1582.1L1120.4 1582.1L1123.4 1582.1L1126.4 1582.1L1129.4 1582.1L1132.4 1582.1L1135.4 1582.1L1138.4 1582.1L1141.4 1582.1L1144.4 1582.1L1147.4 1582.1L1150.4 1582.1L1153.4 1582.1L1156.4 1582.1L1159.4 1582.1L1162.4 1582.1L1165.4 1582.1L1168.4 1582.1L1171.4 1582.1L1174.4 1582.1L1177.4 1582.1L1180.4 1582.1L1183.4 1582.1L1186.4 1582.1L1189.4 1582.1L1192.4 1582.1L1195.4 1582.1L1198.4 1582.1L1201.4 1582.1L1204.4 1582.1L1207.4 1582.1L1210.4 1582.1L1213.4 1582.1L1216.4 1582.1L1219.4 1582.1L1222.4 1582.1L1225.4 1582.1L1228.4 1582.1L1231.4 1582.1L1234.4 1582.1L1237.4 1582.1L1240.4 1582.1L1243.4 1582.1L1246.4 1582.1L1249.4 1582.1L1252.4 1582.1L1255.4 1582.1L1258.4 1582.1L1261.4 1582.1L1264.4 1582.1L1267.4 1582.1L1270.4 1582.1L1273.4 1582.1L1276.4 1582.1L1279.4 1582.1L1282.4 1582.1L1285.4 1582.1L1288.4 1582.1L1291.4 1582.1L1294.4 1582.1L1297.4 1582.1L1300.4 1582.1L1303.4 1582.1L1306.4 1582.1L1309.4 1582.1L1312.4 1582.1L1315.4 1582.1L1318.4 1582.1L1321.4 1582.1L1324.4 1582.1L1327.4 1582.1L1330.4 1582.1L1333.4 1582.1L1336.4 1582.1L1339.4 1582.1L1342.4 1582.1L1345.4 1582.1L1348.4 1582.1L1351.4 1582.1L1354.4 1582.1L1357.4 1582.1L1360.4 1582.1L1363.4 1582.1L1366.4 1582.1L1369.4 1582.1L1372.4 1582.1L1375.4 1582.1L1378.4 1582.1L1381.4 1582.1L1384.4 1582.1L1387.4 1582.1L1390.4 1582.1L1393.4 1582.1L1396.4 1582.1L1399.4 1582.1L1402.4 1582.1L1405.4 1582.1L1408.4 1582.1L1411.4 1582.1L1414.4 1582.1L1417.4 1582.1L1420.4 1582.1L1423.4 1582.1L1426.4 1582.1L1429.4 1582.1L1432.4 1582.1L1435.4 1582.1L1438.4 1582.1L1441.4 1582.1L1444.4 1582.1L1447.4 1582.1L1450.4 1582.1L1453.4 1582.1L1456.4 1582.1L1459.4 1582.1L1462.4 1582.1L1465.4 1582.1L1468.4 1582.1L1471.4 1582.1L1474.4 1582.1L1477.4 1582.1L1480.4 1582.1L1483.4 1582.1L1486.4 1582.1L1489.4 1582.1L1492.4 1582.1L1495.4 1582.1L1498.4 1582.1L1501.4 1582.1L1504.4 1582.1L1507.4 1582.1L1510.4 1582.1L1513.4 1582.1L1516.4 1582.1L1519.4 1582.1L1522.4 1582.1L1525.4 1582.1L1528.4 1582.1L1531.4 1582.1L1534.4 1582.1L1537.4 1582.1L1540.4 1582.1L1543.4 1582.1L1546.4 1582.1L1549.4 1582.1L1552.4 1582.1L1555.4 1582.1L1558.4 1582.1L1561.4 1582.1L1564.4 1582.1L1567.4 1582.1L1570.4 1582.1L1573.4 1582.1L1576.4 1582.1L1579.4 1582.1L1582.4 1582.1L1585.4 1582.1L1588.4 1582.1L1591.4 1582.1L1594.4 1582.1L1597.4 1582.1L1600.4 1582.1L1603.4 1582.1L1606.4 1582.1L1609.4 1582.1L1612.4 1582.1L1615.4 1582.1L1618.4 1582.1L1621.4 1582.1L1624.4 1582.1L1627.4 1582.1L1630.4 1582.1L1633.4 1582.1L1636.4 1582.1L1639.4 1582.1L1642.4 1582.1L1645.4 1582.1L1648.4 1582.1L1651.4 1582.1L1654.4 1582.1L1657.4 1582.1L1660.4 1582.1L1663.4 1582.1L1666.4 1582.1L1669.4 1582.1L1672.4 1582.1L1675.4 1582.1L1678.4 1582.1L1681.4 1582.1L1684.4 1582.1L1687.4 1582.1L1690.4 1582.1L1693.4 1582.1L1696.4 1582.1L1699.4 1582.1L1702.4 1582.1L1705.4 1582.1L1708.4 1582.1L1711.4 1582.1L1714.4 1582.1L1717.4 1582.1L1720.4 1582.1L1723.4 1582.1L1726.4 1582.1L1729.4 1582.1L1732.4 1582.1L1735.4 1582.1L1738.4 1582.1L1741.4 1582.1L1744.4 1582.1L1747.4 1582.1L1750.4 1582.1L1753.4 1582.1L1756.4 1582.1L1759.4 1582.1L1762.4 1582.1L1765.4 1582.1L1768.4 1582.1L1771.4 1582.1L1774.4 1582.1L1777.4 1582.1L1780.4 1582.1L1783.4 1582.1L1786.4 1582.1L1789.4 1582.1L1792.4 1582.1L1795.4 1582.1L1798.4 1582.1L1801.4 1582.1L1804.4 1582.1L1807.4 1582.1L1810.4 1582.1L1813.4 1582.1L1816.4 1582.1L1819.4 1582.1L1822.4 1582.1L1825.4 1582.1L1828.4 1582.1L1831.4 1582.1L1834.4 1582.1L1837.4 1582.1L1840.4 1582.1L1843.4 1582.1L1846.4 1582.1L1849.4 1582.1L1852.4 1582.1L1855.4 1582.1L1858.4 1582.1L1861.4 1582.1L1864.4 1582.1L1867.4 1582.1L1870.4 1582.1L1873.4 1582.1L1876.4 1582.1L1879.4 1582.1L1882.4 1582.1L1885.4 1582.1L1888.4 1582.1L1891.4 1582.1L1894.4 1582.1L1897.4 1582.1L1900.4 1582.1L1903.4 1582.1L1906.4 1582.1L1909.4 1582.1L1912.4 1582.1L1915.4 1582.1L1918.4 1582.1L1921.4 1582.1L1924.4 1582.1L1927.4 1582.1L1930.4 1582.1L1933.4 1582.1L1936.4 1582.1L1939.4 1582.1L1942.4 1582.1L1945.4 1582.1L1948.4 1582.1"/>
<path d="M481.4 1582.1L484.4 1582.1L487.4 1582.1L490.4 1582.1L493.4 1582.1L496.4 1582.1L499.4 1582.1L502.4 1582.1L505.4 1582.1L508.4 1582.1L511.4 1582.1L514.4 1582.1L517.4 1582.1L520.4 1582.1L523.4 1582.1L526.4 1582.1L529.4 1582.1L532.4 1582.1L535.4 1582.1L538.4 1582.1L541.4 1582.1L544.4 1582.1L547.4 1582.1L550.4 1582.1L553.4 1582.1L556.4 1582.1L559.4 1582.1L562.4 1582.1L565.4 1582.1L568.4 1582.1L571.4 1582.1L574.4 1582.1L577.4 1582.1L580.4 1582.1L583.4 1582.1L586.4 1582.1L589.4 1582.1L592.4 1582.1L595.4 1582.1L598.4 1582.1L601.4 1582.1L604.4 1582.1L607.4 1582.1L610.4 1582.1L613.4 1582.1L616.4 1582.1L619.4 1582.1L622.4 1582.1L625.4 1582.1L628.4 1582.1L631.4 1582.1L634.4 1582.1L637.4 1582.1L640.4 1582.1L643.4 1582.1L646.4 1582.1L649.4 1582.1L652.4 1582.1L655.4 1582.1L658.4 1582.1L661.4 1582.1L664.4 1582.1L667.4 1582.0L670.4 1582.0L673.4 1582.0L676.4 1582.0L679.4 1582.0L682.4 1582.0L685.4 1582.0L688.4 1582.0L691.4 1582.0L694.4 1581.9L697.4 1581.9L700.4 1581.9L703.4 1581.9L706.4 1581.8L709.4 1581.8L712.4 1581.8L715.4 1581.7L718.4 1581.7L721.4 1581.6L724.4 1581.6L727.4 1581.5L730.4 1581.4L733.4 1581.3L736.4 1581.2L739.4 1581.1L742.4 1581.0L745.4 1580.9L748.4 1580.8L751.4 1580.6L754.4 1580.4L757.4 1580.3L760.4 1580.1L763.4 1579.8L766.4 1579.6L769.4 1579.3L772.4 1579.0L775.4 1578.7L778.4 1578.4L781.4 1578.0L784.4 1577.6L787.4 1577.1L790.4 1576.6L793.4 1576.1L796.4 1575.5L799.4 1574.9L802.4 1574.2L805.4 1573.5L808.4 1572.7L811.4 1571.8L814.4 1570.9L817.4 1569.9L820.4 1568.8L823.4 1567.7L826.4 1566.5L829.4 1565.1L832.4 1563.7L835.4 1562.2L838.4 1560.6L841.4 1558.9L844.4 1557.1L847.4 1555.1L850.4 1553.1L853.4 1550.9L856.4 1548.6L859.4 1546.2L862.4 1543.6L865.4 1540.9L868.4 1538.0L871.4 1535.0L874.4 1531.9L877.4 1528.6L880.4 1525.1L883.4 1521.5L886.4 1517.8L889.4 1513.9L892.4 1509.8L895.4 1505.6L898.4 1501.2L901.4 1496.7L904.4 1492.1L907.4 1487.3L910.4 1482.3L913.4 1477.3L916.4 1472.1L919.4 1466.8L922.4 1461.4L925.4 1455.9L928.4 1450.3L931.4 1444.6L934.4 1438.9L937.4 1433.1L940.4 1427.3L943.4 1421.5L946.4 1415.7L949.4 1409.9L952.4 1404.2L955.4 1398.5L958.4 1392.9L961.4 1387.4L964.4 1382.1L967.4 1376.9L970.4 1371.9L973.4 1367.0L976.4 1362.5L979.4 1358.1L982.4 1354.1L985.4 1350.3L988.4 1347.0L991.4 1344.0L994.4 1341.4L997.4 1339.2L1000.4 1337.6L1003.4 1336.5L1006.4 1336.1L1009.4 1336.5L1012.4 1337.5L1015.4 1338.9L1018.4 1340.6L1021.4 1342.8L1024.4 1345.2L1027.4 1348.0L1030.4 1351.1L1033.4 1354.4L1036.4 1358.0L1039.4 1361.9L1042.4 1365.9L1045.4 1370.1L1048.4 1374.5L1051.4 1379.1L1054.4 1383.8L1057.4 1388.6L1060.4 1393.6L1063.4 1398.6L1066.4 1403.7L1069.4 1408.8L1072.4 1414.0L1075.4 1419.3L1078.4 1424.5L1081.4 1429.7L1084.4 1434.9L1087.4 1440.1L1090.4 1445.3L1093.4 1450.4L1096.4 1455.5L1099.4 1460.4L1102.4 1465.4L1105.4 1470.2L1108.4 1474.9L1111.4 1479.6L1114.4 1484.1L1117.4 1488.6L1120.4 1492.9L1123.4 1497.1L1126.4 1501.2L1129.4 1505.2L1132.4 1509.0L1135.4 1512.7L1138.4 1516.4L1141.4 1519.8L1144.4 1523.2L1147.4 1526.4L1150.4 1529.5L1153.4 1532.5L1156.4 1535.3L1159.4 1538.0L1162.4 1540.7L1165.4 1543.1L1168.4 1545.5L1171.4 1547.8L1174.4 1549.9L1177.4 1552.0L1180.4 1553.9L1183.4 1555.8L1186.4 1557.5L1189.4 1559.2L1192.4 1560.7L1195.4 1562.2L1198.4 1563.6L1201.4 1564.9L1204.4 1566.1L1207.4 1567.3L1210.4 1568.3L1213.4 1569.4L1216.4 1570.3L1219.4 1571.2L1222.4 1572.0L1225.4 1572.8L1228.4 1573.5L1231.4 1574.2L1234.4 1574.8L1237.4 1575.4L1240.4 1576.0L1243.4 1576.5L1246.4 1576.9L1249.4 1577.4L1252.4 1577.8L1255.4 1578.1L1258.4 1578.5L1261.4 1578.8L1264.4 1579.1L1267.4 1579.3L1270.4 1579.6L1273.4 1579.8L1276.4 1580.0L1279.4 1580.2L1282.4 1580.4L1285.4 1580.5L1288.4 1580.7L1291.4 1580.8L1294.4 1580.9L1297.4 1581.1L1300.4 1581.2L1303.4 1581.2L1306.4 1581.3L1309.4 1581.4L1312.4 1581.5L1315.4 1581.5L1318.4 1581.6L1321.4 1581.6L1324.4 1581.7L1327.4 1581.7L1330.4 1581.8L1333.4 1581.8L1336.4 1581.8L1339.4 1581.9L1342.4 1581.9L1345.4 1581.9L1348.4 1581.9L1351.4 1582.0L1354.4 1582.0L1357.4 1582.0L1360.4 1582.0L1363.4 1582.0L1366.4 1582.0L1369.4 1582.0L1372.4 1582.0L1375.4 1582.0L1378.4 1582.0L1381.4 1582.1L1384.4 1582.1L1387.4 1582.1L1390.4 1582.1L1393.4 1582.1L1396.4 1582.1L1399.4 1582.1L1402.4 1582.1L1405.4 1582.1L1408.4 1582.1L1411.4 1582.1L1414.4 1582.1L1417.4 1582.1L1420.4 1582.1L1423.4 1582.1L1426.4 1582.1L1429.4 1582.1L1432.4 1582.1L1435.4 1582.1L1438.4 1582.1L1441.4 1582.1L1444.4 1582.1L1447.4 1582.1L1450.4 1582.1L1453.4 1582.1L1456.4 1582.1L1459.4 1582.1L1462.4 1582.1L1465.4 1582.1L1468.4 1582.1L1471.4 1582.1L1474.4 1582.1L1477.4 1582.1L1480.4 1582.1L1483.4 1582.1L1486.4 1582.1L1489.4 1582.1L1492.4 1582.1L1495.4 1582.1L1498.4 1582.1L1501.4 1582.1L1504.4 1582.1L1507.4 1582.1L1510.4 1582.1L1513.4 1582.1L1516.4 1582.1L1519.4 1582.1L1522.4 1582.1L1525.4 1582.1L1528.4 1582.1L1531.4 1582.1L1534.4 1582.1L1537.4 1582.1L1540.4 1582.1L1543.4 1582.1L1546.4 1582.1L1549.4 1582.1L1552.4 1582.1L1555.4 1582.1L1558.4 1582.1L1561.4 1582.1L1564.4 1582.1L1567.4 1582.1L1570.4 1582.1L1573.4 1582.1L1576.4 1582.1L1579.4 1582.1L1582.4 1582.1L1585.4 1582.1L1588.4 1582.1L1591.4 1582.1L1594.4 1582.1L1597.4 1582.1L1600.4 1582.1L1603.4 1582.1L1606.4 1582.1L1609.4 1582.1L1612.4 1582.1L1615.4 1582.1L1618.4 1582.1L1621.4 1582.1L1624.4 1582.1L1627.4 1582.1L1630.4 1582.1L1633.4 1582.1L1636.4 1582.1L1639.4 1582.1L1642.4 1582.1L1645.4 1582.1L1648.4 1582.1L1651.4 1582.1L1654.4 1582.1L1657.4 1582.1L1660.4 1582.1L1663.4 1582.1L1666.4 1582.1L1669.4 1582.1L1672.4 1582.1L1675.4 1582.1L1678.4 1582.1L1681.4 1582.1L1684.4 1582.1L1687.4 1582.1L1690.4 1582.1L1693.4 1582.1L1696.4 1582.1L1699.4 1582.1L1702.4 1582.1L1705.4 1582.1L1708.4 1582.1L1711.4 1582.1L1714.4 1582.1L1717.4 1582.1L1720.4 1582.1L1723.4 1582.1L1726.4 1582.1L1729.4 1582.1L1732.4 1582.1L1735.4 1582.1L1738.4 1582.1L1741.4 1582.1L1744.4 1582.1L1747.4 1582.1L1750.4 1582.1L1753.4 1582.1L1756.4 1582.1L1759.4 1582.1L1762.4 1582.1L1765.4 1582.1L1768.4 1582.1L1771.4 1582.1L1774.4 1582.1L1777.4 1582.1L1780.4 1582.1L1783.4 1582.1L1786.4 1582.1L1789.4 1582.1L1792.4 1582.1L1795.4 1582.1L1798.4 1582.1L1801.4 1582.1L1804.4 1582.1L1807.4 1582.1L1810.4 1582.1L1813.4 1582.1L1816.4 1582.1L1819.4 1582.1L1822.4 1582.1L1825.4 1582.1L1828.4 1582.1L1831.4 1582.1L1834.4 1582.1L1837.4 1582.1L1840.4 1582.1L1843.4 1582.1L1846.4 1582.1L1849.4 1582.1L1852.4 1582.1L1855.4 1582.1L1858.4 1582.1L1861.4 1582.1L1864.4 1582.1L1867.4 1582.1L1870.4 1582.1L1873.4 1582.1L1876.4 1582.1L1879.4 1582.1L1882.4 1582.1L1885.4 1582.1L1888.4 1582.1L1891.4 1582.1L1894.4 1582.1L1897.4 1582.1L1900.4 1582.1L1903.4 1582.1L1906.4 1582.1L1909.4 1582.1L1912.4 1582.1L1915.4 1582.1L1918.4 1582.1L1921.4 1582.1L1924.4 1582.1L1927.4 1582.1L1930.4 1582.1L1933.4 1582.1L1936.4 1582.1L1939.4 1582.1L1942.4 1582.1L1945.4 1582.1L1948.4 1582.1"/>
<path d="M465.5 1824.7L468.5 1824.7L471.5 1824.7L474.5 1824.7L477.5 1824.7L480.5 1824.7L483.5 1824.7L486.5 1824.7L489.5 1824.7L492.5 1824.7L495.5 1824.7L498.5 1824.7L501.5 1824.7L504.5 1824.7L507.5 1824.7L510.5 1824.7L513.5 1824.7L516.5 1824.7L519.5 1824.7L522.5 1824.7L525.5 1824.7L528.5 1824.7L531.5 1824.7L534.5 1824.7L537.5 1824.7L540.5 1824.7L543.5 1824.7L546.5 1824.7L549.5 1824.7L552.5 1824.7L555.5 1824.7L558.5 1824.7L561.5 1824.7L564.5 1824.7L567.5 1824.7L570.5 1824.7L573.5 1824.7L576.5 1824.7L579.5 1824.7L582.5 1824.7L585.5 1824.7L588.5 1824.7L591.5 1824.7L594.5 1824.7L597.5 1824.7L600.5 1824.7L603.5 1824.7L606.5 1824.7L609.5 1824.7L612.5 1824.7L615.5 1824.7L618.5 1824.7L621.5 1824.7L624.5 1824.7L627.5 1824.7L630.5 1824.7L633.5 1824.7L636.5 1824.7L639.5 1824.7L642.5 1824.7L645.5 1824.7L648.5 1824.7L651.5 1824.7L654.5 1824.7L657.5 1824.6L660.5 1824.6L663.5 1824.6L666.5 1824.6L669.5 1824.6L672.5 1824.5L675.5 1824.5L678.5 1824.4L681.5 1824.3L684.5 1824.2L687.5 1824.1L690.5 1824.0L693.5 1823.8L696.5 1823.6L699.5 1823.4L702.5 1823.1L705.5 1822.7L708.5 1822.3L711.5 1821.8L714.5 1821.2L717.5 1820.5L720.5 1819.7L723.5 1818.8L726.5 1817.7L729.5 1816.5L732.5 1815.0L735.5 1813.4L738.5 1811.6L741.5 1809.5L744.5 1807.2L747.5 1804.6L750.5 1801.7L753.5 1798.5L756.5 1795.0L759.5 1791.1L762.5 1786.9L765.5 1782.4L768.5 1777.5L771.5 1772.3L774.5 1766.7L777.5 1760.8L780.5 1754.6L783.5 1748.1L786.5 1741.3L789.5 1734.3L792.5 1727.2L795.5 1719.9L798.5 1712.5L801.5 1705.1L804.5 1697.7L807.5 1690.5L810.5 1683.4L813.5 1676.5L816.5 1670.0L819.5 1663.8L822.5 1658.1L825.5 1652.8L828.5 1648.2L831.5 1644.1L834.5 1640.8L837.5 1638.1L840.5 1636.2L843.5 1635.1L846.5 1634.7L849.5 1635.1L852.5 1636.2L855.5 1638.0L858.5 1640.5L861.5 1643.7L864.5 1647.4L867.5 1651.8L870.5 1656.7L873.5 1662.1L876.5 1667.9L879.5 1674.1L882.5 1680.5L885.5 1687.3L888.5 1694.2L891.5 1701.2L894.5 1708.3L897.5 1715.4L900.5 1722.5L903.5 1729.5L906.5 1736.3L909.5 1743.0L912.5 1749.4L915.5 1755.6L918.5 1761.5L921.5 1767.2L924.5 1772.5L927.5 1777.5L930.5 1782.2L933.5 1786.6L936.5 1790.7L939.5 1794.4L942.5 1797.8L945.5 1801.0L948.5 1803.8L951.5 1806.4L954.5 1808.7L957.5 1810.8L960.5 1812.7L963.5 1814.3L966.5 1815.8L969.5 1817.0L972.5 1818.2L975.5 1819.1L978.5 1820.0L981.5 1820.7L984.5 1821.4L987.5 1821.9L990.5 1822.4L993.5 1822.8L996.5 1823.1L999.5 1823.4L1002.5 1823.6L1005.5 1823.8L1008.5 1824.0L1011.5 1824.1L1014.5 1824.2L1017.5 1824.3L1020.5 1824.4L1023.5 1824.5L1026.5 1824.5L1029.5 1824.5L1032.5 1824.6L1035.5 1824.6L1038.5 1824.6L1041.5 1824.6L1044.5 1824.7L1047.5 1824.7L1050.5 1824.7L1053.5 1824.7L1056.5 1824.7L1059.5 1824.7L1062.5 1824.7L1065.5 1824.7L1068.5 1824.7L1071.5 1824.7L1074.5 1824.7L1077.5 1824.7L1080.5 1824.7L1083.5 1824.7L1086.5 1824.7L1089.5 1824.7L1092.5 1824.7L1095.5 1824.7L1098.5 1824.7L1101.5 1824.7L1104.5 1824.7L1107.5 1824.7L1110.5 1824.7L1113.5 1824.7L1116.5 1824.7L1119.5 1824.7L1122.5 1824.7L1125.5 1824.7L1128.5 1824.7L1131.5 1824.7L1134.5 1824.7L1137.5 1824.7L1140.5 1824.7L1143.5 1824.7L1146.5 1824.7L1149.5 1824.7L1152.5 1824.7L1155.5 1824.7L1158.5 1824.7L1161.5 1824.7L1164.5 1824.7L1167.5 1824.7L1170.5 1824.7L1173.5 1824.7L1176.5 1824.7L1179.5 1824.7L1182.5 1824.7L1185.5 1824.7L1188.5 1824.7L1191.5 1824.7L1194.5 1824.7L1197.5 1824.7L1200.5 1824.7L1203.5 1824.7L1206.5 1824.7L1209.5 1824.7L1212.5 1824.7L1215.5 1824.7L1218.5 1824.7L1221.5 1824.7L1224.5 1824.7L1227.5 1824.7L1230.5 1824.7L1233.5 1824.7L1236.5 1824.7L1239.5 1824.7L1242.5 1824.7L1245.5 1824.7L1248.5 1824.7L1251.5 1824.7L1254.5 1824.7L1257.5 1824.7L1260.5 1824.7L1263.5 1824.7L1266.5 1824.7L1269.5 1824.7L1272.5 1824.7L1275.5 1824.7L1278.5 1824.7L1281.5 1824.7L1284.5 1824.7L1287.5 1824.7L1290.5 1824.7L1293.5 1824.7L1296.5 1824.7L1299.5 1824.7L1302.5 1824.7L1305.5 1824.7L1308.5 1824.7L1311.5 1824.7L1314.5 1824.7L1317.5 1824.7L1320.5 1824.7L1323.5 1824.7L1326.5 1824.7L1329.5 1824.7L1332.5 1824.7L1335.5 1824.7L1338.5 1824.7L1341.5 1824.7L1344.5 1824.7L1347.5 1824.7L1350.5 1824.7L1353.5 1824.7L1356.5 1824.7L1359.5 1824.7L1362.5 1824.7L1365.5 1824.7L1368.5 1824.7L1371.5 1824.7L1374.5 1824.7L1377.5 1824.7L1380.5 1824.7L1383.5 1824.7L1386.5 1824.7L1389.5 1824.7L1392.5 1824.7L1395.5 1824.7L1398.5 1824.7L1401.5 1824.7L1404.5 1824.7L1407.5 1824.7L1410.5 1824.7L1413.5 1824.7L1416.5 1824.7L1419.5 1824.7L1422.5 1824.7L1425.5 1824.7L1428.5 1824.7L1431.5 1824.7L1434.5 1824.7L1437.5 1824.7L1440.5 1824.7L1443.5 1824.7L1446.5 1824.7L1449.5 1824.7L1452.5 1824.7L1455.5 1824.7L1458.5 1824.7L1461.5 1824.7L1464.5 1824.7L1467.5 1824.7L1470.5 1824.7L1473.5 1824.7L1476.5 1824.7L1479.5 1824.7L1482.5 1824.7L1485.5 1824.7L1488.5 1824.7L1491.5 1824.7L1494.5 1824.7L1497.5 1824.7L1500.5 1824.7L1503.5 1824.7L1506.5 1824.7L1509.5 1824.7L1512.5 1824.7L1515.5 1824.7L1518.5 1824.7L1521.5 1824.7L1524.5 1824.7L1527.5 1824.7L1530.5 1824.7L1533.5 1824.7L1536.5 1824.7L1539.5 1824.7L1542.5 1824.7L1545.5 1824.7L1548.5 1824.7L1551.5 1824.7L1554.5 1824.7L1557.5 1824.7L1560.5 1824.7L1563.5 1824.7L1566.5 1824.7L1569.5 1824.7L1572.5 1824.7L1575.5 1824.7L1578.5 1824.7L1581.5 1824.7L1584.5 1824.7L1587.5 1824.7L1590.5 1824.7L1593.5 1824.7L1596.5 1824.7L1599.5 1824.7L1602.5 1824.7L1605.5 1824.7L1608.5 1824.7L1611.5 1824.7L1614.5 1824.7L1617.5 1824.7L1620.5 1824.7L1623.5 1824.7L1626.5 1824.7L1629.5 1824.7L1632.5 1824.7L1635.5 1824.7L1638.5 1824.7L1641.5 1824.7L1644.5 1824.7L1647.5 1824.7L1650.5 1824.7L1653.5 1824.7L1656.5 1824.7L1659.5 1824.7L1662.5 1824.7L1665.5 1824.7L1668.5 1824.7L1671.5 1824.7L1674.5 1824.7L1677.5 1824.7L1680.5 1824.7L1683.5 1824.7L1686.5 1824.7L1689.5 1824.7L1692.5 1824.7L1695.5 1824.7L1698.5 1824.7L1701.5 1824.7L1704.5 1824.7L1707.5 1824.7L1710.5 1824.7L1713.5 1824.7L1716.5 1824.7L1719.5 1824.7L1722.5 1824.7L1725.5 1824.7L1728.5 1824.7L1731.5 1824.7L1734.5 1824.7L1737.5 1824.7L1740.5 1824.7L1743.5 1824.7L1746.5 1824.7L1749.5 1824.7L1752.5 1824.7L1755.5 1824.7L1758.5 1824.7L1761.5 1824.7L1764.5 1824.7L1767.5 1824.7L1770.5 1824.7L1773.5 1824.7L1776.5 1824.7L1779.5 1824.7L1782.5 1824.7L1785.5 1824.7L1788.5 1824.7L1791.5 1824.7L1794.5 1824.7L1797.5 1824.7L1800.5 1824.7L1803.5 1824.7L1806.5 1824.7L1809.5 1824.7L1812.5 1824.7L1815.5 1824.7L1818.5 1824.7L1821.5 1824.7L1824.5 1824.7L1827.5 1824.7L1830.5 1824.7L1833.5 1824.7L1836.5 1824.7L1839.5 1824.7L1842.5 1824.7L1845.5 1824.7L1848.5 1824.7L1851.5 1824.7L1854.5 1824.7L1857.5 1824.7L1860.5 1824.7L1863.5 1824.7L1866.5 1824.7L1869.5 1824.7L1872.5 1824.7L1875.5 1824.7L1878.5 1824.7L1881.5 1824.7L1884.5 1824.7L1887.5 1824.7L1890.5 1824.7L1893.5 1824.7L1896.5 1824.7L1899.5 1824.7L1902.5 1824.7L1905.5 1824.7L1908.5 1824.7L1911.5 1824.7L1914.5 1824.7L1917.5 1824.7L1920.5 1824.7L1923.5 1824.7L1926.5 1824.7L1929.5 1824.7L1932.5 1824.7L1935.5 1824.7L1938.5 1824.7L1941.5 1824.7L1944.5 1824.7L1947.5 1824.7L1950.5 1824.7"/>
<path d="M465.5 1824.7L468.5 1824.7L471.5 1824.7L474.5 1824.7L477.5 1824.7L480.5 1824.7L483.5 1824.7L486.5 1824.7L489.5 1824.7L492.5 1824.7L495.5 1824.7L498.5 1824.7L501.5 1824.7L504.5 1824.7L507.5 1824.7L510.5 1824.7L513.5 1824.7L516.5 1824.7L519.5 1824.7L522.5 1824.7L525.5 1824.7L528.5 1824.7L531.5 1824.7L534.5 1824.7L537.5 1824.7L540.5 1824.7L543.5 1824.7L546.5 1824.7L549.5 1824.7L552.5 1824.7L555.5 1824.7L558.5 1824.7L561.5 1824.7L564.5 1824.7L567.5 1824.7L570.5 1824.7L573.5 1824.7L576.5 1824.7L579.5 1824.7L582.5 1824.7L585.5 1824.7L588.5 1824.7L591.5 1824.7L594.5 1824.7L597.5 1824.7L600.5 1824.7L603.5 1824.7L606.5 1824.7L609.5 1824.7L612.5 1824.7L615.5 1824.7L618.5 1824.7L621.5 1824.7L624.5 1824.7L627.5 1824.7L630.5 1824.7L633.5 1824.7L636.5 1824.7L639.5 1824.7L642.5 1824.7L645.5 1824.7L648.5 1824.7L651.5 1824.7L654.5 1824.7L657.5 1824.7L660.5 1824.7L663.5 1824.7L666.5 1824.7L669.5 1824.7L672.5 1824.7L675.5 1824.7L678.5 1824.7L681.5 1824.7L684.5 1824.7L687.5 1824.7L690.5 1824.7L693.5 1824.7L696.5 1824.7L699.5 1824.7L702.5 1824.7L705.5 1824.7L708.5 1824.7L711.5 1824.7L714.5 1824.7L717.5 1824.7L720.5 1824.7L723.5 1824.7L726.5 1824.7L729.5 1824.7L732.5 1824.7L735.5 1824.7L738.5 1824.6L741.5 1824.6L744.5 1824.6L747.5 1824.6L750.5 1824.6L753.5 1824.6L756.5 1824.5L759.5 1824.5L762.5 1824.5L765.5 1824.4L768.5 1824.4L771.5 1824.3L774.5 1824.2L777.5 1824.2L780.5 1824.1L783.5 1824.0L786.5 1823.9L789.5 1823.7L792.5 1823.6L795.5 1823.4L798.5 1823.2L801.5 1823.0L804.5 1822.7L807.5 1822.4L810.5 1822.1L813.5 1821.7L816.5 1821.3L819.5 1820.8L822.5 1820.3L825.5 1819.7L828.5 1819.0L831.5 1818.3L834.5 1817.4L837.5 1816.5L840.5 1815.5L843.5 1814.4L846.5 1813.2L849.5 1811.9L852.5 1810.5L855.5 1808.9L858.5 1807.2L861.5 1805.3L864.5 1803.3L867.5 1801.1L870.5 1798.8L873.5 1796.2L876.5 1793.5L879.5 1790.6L882.5 1787.5L885.5 1784.2L888.5 1780.8L891.5 1777.1L894.5 1773.2L897.5 1769.0L900.5 1764.7L903.5 1760.2L906.5 1755.5L909.5 1750.6L912.5 1745.5L915.5 1740.2L918.5 1734.8L921.5 1729.2L924.5 1723.5L927.5 1717.6L930.5 1711.6L933.5 1705.6L936.5 1699.4L939.5 1693.3L942.5 1687.1L945.5 1680.9L948.5 1674.7L951.5 1668.6L954.5 1662.5L957.5 1656.6L960.5 1650.8L963.5 1645.2L966.5 1639.7L969.5 1634.5L972.5 1629.6L975.5 1624.9L978.5 1620.5L981.5 1616.5L984.5 1612.8L987.5 1609.5L990.5 1606.5L993.5 1604.0L996.5 1601.9L999.5 1600.3L1002.5 1599.0L1005.5 1598.3L1008.5 1598.0L1011.5 1598.0L1014.5 1598.2L1017.5 1598.6L1020.5 1599.3L1023.5 1600.1L1026.5 1601.2L1029.5 1602.5L1032.5 1604.1L1035.5 1606.0L1038.5 1608.1L1041.5 1610.5L1044.5 1613.1L1047.5 1616.0L1050.5 1619.2L1053.5 1622.6L1056.5 1626.2L1059.5 1630.1L1062.5 1634.1L1065.5 1638.4L1068.5 1642.9L1071.5 1647.5L1074.5 1652.3L1077.5 1657.2L1080.5 1662.2L1083.5 1667.4L1086.5 1672.6L1089.5 1677.9L1092.5 1683.3L1095.5 1688.7L1098.5 1694.1L1101.5 1699.6L1104.5 1705.0L1107.5 1710.4L1110.5 1715.7L1113.5 1721.0L1116.5 1726.1L1119.5 1731.3L1122.5 1736.3L1125.5 1741.1L1128.5 1745.9L1131.5 1750.5L1134.5 1755.0L1137.5 1759.4L1140.5 1763.6L1143.5 1767.6L1146.5 1771.5L1149.5 1775.2L1152.5 1778.7L1155.5 1782.1L1158.5 1785.2L1161.5 1788.3L1164.5 1791.1L1167.5 1793.8L1170.5 1796.4L1173.5 1798.8L1176.5 1801.0L1179.5 1803.1L1182.5 1805.0L1185.5 1806.8L1188.5 1808.5L1191.5 1810.0L1194.5 1811.5L1197.5 1812.8L1200.5 1814.0L1203.5 1815.1L1206.5 1816.1L1209.5 1817.0L1212.5 1817.8L1215.5 1818.6L1218.5 1819.3L1221.5 1819.9L1224.5 1820.5L1227.5 1821.0L1230.5 1821.4L1233.5 1821.8L1236.5 1822.2L1239.5 1822.5L1242.5 1822.8L1245.5 1823.0L1248.5 1823.2L1251.5 1823.4L1254.5 1823.6L1257.5 1823.8L1260.5 1823.9L1263.5 1824.0L1266.5 1824.1L1269.5 1824.2L1272.5 1824.3L1275.5 1824.3L1278.5 1824.4L1281.5 1824.4L1284.5 1824.5L1287.5 1824.5L1290.5 1824.5L1293.5 1824.6L1296.5 1824.6L1299.5 1824.6L1302.5 1824.6L1305.5 1824.6L1308.5 1824.6L1311.5 1824.7L1314.5 1824.7L1317.5 1824.7L1320.5 1824.7L1323.5 1824.7L1326.5 1824.7L1329.5 1824.7L1332.5 1824.7L1335.5 1824.7L1338.5 1824.7L1341.5 1824.7L1344.5 1824.7L1347.5 1824.7L1350.5 1824.7L1353.5 1824.7L1356.5 1824.7L1359.5 1824.7L1362.5 1824.7L1365.5 1824.7L1368.5 1824.7L1371.5 1824.7L1374.5 1824.7L1377.5 1824.7L1380.5 1824.7L1383.5 1824.7L1386.5 1824.7L1389.5 1824.7L1392.5 1824.7L1395.5 1824.7L1398.5 1824.7L1401.5 1824.7L1404.5 1824.7L1407.5 1824.7L1410.5 1824.7L1413.5 1824.7L1416.5 1824.7L1419.5 1824.7L1422.5 1824.7L1425.5 1824.7L1428.5 1824.7L1431.5 1824.7L1434.5 1824.7L1437.5 1824.7L1440.5 1824.7L1443.5 1824.7L1446.5 1824.7L1449.5 1824.7L1452.5 1824.7L1455.5 1824.7L1458.5 1824.7L1461.5 1824.7L1464.5 1824.7L1467.5 1824.7L1470.5 1824.7L1473.5 1824.7L1476.5 1824.7L1479.5 1824.7L1482.5 1824.7L1485.5 1824.7L1488.5 1824.7L1491.5 1824.7L1494.5 1824.7L1497.5 1824.7L1500.5 1824.7L1503.5 1824.7L1506.5 1824.7L1509.5 1824.7L1512.5 1824.7L1515.5 1824.7L1518.5 1824.7L1521.5 1824.7L1524.5 1824.7L1527.5 1824.7L1530.5 1824.7L1533.5 1824.7L1536.5 1824.7L1539.5 1824.7L1542.5 1824.7L1545.5 1824.7L1548.5 1824.7L1551.5 1824.7L1554.5 1824.7L1557.5 1824.7L1560.5 1824.7L1563.5 1824.7L1566.5 1824.7L1569.5 1824.7L1572.5 1824.7L1575.5 1824.7L1578.5 1824.7L1581.5 1824.7L1584.5 1824.7L1587.5 1824.7L1590.5 1824.7L1593.5 1824.7L1596.5 1824.7L1599.5 1824.7L1602.5 1824.7L1605.5 1824.7L1608.5 1824.7L1611.5 1824.7L1614.5 1824.7L1617.5 1824.7L1620.5 1824.7L1623.5 1824.7L1626.5 1824.7L1629.5 1824.7L1632.5 1824.7L1635.5 1824.7L1638.5 1824.7L1641.5 1824.7L1644.5 1824.7L1647.5 1824.7L1650.5 1824.7L1653.5 1824.7L1656.5 1824.7L1659.5 1824.7L1662.5 1824.7L1665.5 1824.7L1668.5 1824.7L1671.5 1824.7L1674.5 1824.7L1677.5 1824.7L1680.5 1824.7L1683.5 1824.7L1686.5 1824.7L1689.5 1824.7L1692.5 1824.7L1695.5 1824.7L1698.5 1824.7L1701.5 1824.7L1704.5 1824.7L1707.5 1824.7L1710.5 1824.7L1713.5 1824.7L1716.5 1824.7L1719.5 1824.7L1722.5 1824.7L1725.5 1824.7L1728.5 1824.7L1731.5 1824.7L1734.5 1824.7L1737.5 1824.7L1740.5 1824.7L1743.5 1824.7L1746.5 1824.7L1749.5 1824.7L1752.5 1824.7L1755.5 1824.7L1758.5 1824.7L1761.5 1824.7L1764.5 1824.7L1767.5 1824.7L1770.5 1824.7L1773.5 1824.7L1776.5 1824.7L1779.5 1824.7L1782.5 1824.7L1785.5 1824.7L1788.5 1824.7L1791.5 1824.7L1794.5 1824.7L1797.5 1824.7L1800.5 1824.7L1803.5 1824.7L1806.5 1824.7L1809.5 1824.7L1812.5 1824.7L1815.5 1824.7L1818.5 1824.7L1821.5 1824.7L1824.5 1824.7L1827.5 1824.7L1830.5 1824.7L1833.5 1824.7L1836.5 1824.7L1839.5 1824.7L1842.5 1824.7L1845.5 1824.7L1848.5 1824.7L1851.5 1824.7L1854.5 1824.7L1857.5 1824.7L1860.5 1824.7L1863.5 1824.7L1866.5 1824.7L1869.5 1824.7L1872.5 1824.7L1875.5 1824.7L1878.5 1824.7L1881.5 1824.7L1884.5 1824.7L1887.5 1824.7L1890.5 1824.7L1893.5 1824.7L1896.5 1824.7L1899.5 1824.7L1902.5 1824.7L1905.5 1824.7L1908.5 1824.7L1911.5 1824.7L1914.5 1824.7L1917.5 1824.7L1920.5 1824.7L1923.5 1824.7L1926.5 1824.7L1929.5 1824.7L1932.5 1824.7L1935.5 1824.7L1938.5 1824.7L1941.5 1824.7L1944.5 1824.7L1947.5 1824.7L1950.5 1824.7"/>
<path d="M486.5 1999.0L489.5 1999.0L492.5 1999.0L495.5 1999.0L498.5 1999.0L501.5 1999.0L504.5 1999.0L507.5 1999.0L510.5 1999.0L513.5 1999.0L516.5 1999.0L519.5 1999.0L522.5 1999.0L525.5 1999.0L528.5 1999.0L531.5 1999.0L534.5 1999.0L537.5 1999.0L540.5 1999.0L543.5 1999.0L546.5 1999.0L549.5 1999.0L552.5 1999.0L555.5 1999.0L558.5 1999.0L561.5 1999.0L564.5 1999.0L567.5 1999.0L570.5 1999.0L573.5 1999.0L576.5 1999.0L579.5 1999.0L582.5 1999.0L585.5 1999.0L588.5 1999.0L591.5 1999.0L594.5 1999.0L597.5 1999.0L600.5 1999.0L603.5 1999.0L606.5 1999.0L609.5 1999.0L612.5 1999.0L615.5 1999.0L618.5 1999.0L621.5 1999.0L624.5 1999.0L627.5 1999.0L630.5 1999.0L633.5 1999.0L636.5 1999.0L639.5 1999.0L642.5 1999.0L645.5 1999.0L648.5 1999.0L651.5 1999.0L654.5 1999.0L657.5 1999.0L660.5 1999.0L663.5 1999.0L666.5 1998.9L669.5 1998.9L672.5 1998.9L675.5 1998.9L678.5 1998.9L681.5 1998.8L684.5 1998.8L687.5 1998.7L690.5 1998.7L693.5 1998.6L696.5 1998.5L699.5 1998.4L702.5 1998.3L705.5 1998.2L708.5 1998.0L711.5 1997.8L714.5 1997.6L717.5 1997.3L720.5 1997.0L723.5 1996.7L726.5 1996.2L729.5 1995.8L732.5 1995.3L735.5 1994.7L738.5 1994.0L741.5 1993.2L744.5 1992.3L747.5 1991.4L750.5 1990.3L753.5 1989.1L756.5 1987.8L759.5 1986.3L762.5 1984.7L765.5 1982.9L768.5 1981.0L771.5 1978.9L774.5 1976.6L777.5 1974.2L780.5 1971.6L783.5 1968.9L786.5 1965.9L789.5 1962.8L792.5 1959.5L795.5 1956.1L798.5 1952.5L801.5 1948.8L804.5 1945.0L807.5 1941.1L810.5 1937.1L813.5 1933.0L816.5 1928.9L819.5 1924.8L822.5 1920.7L825.5 1916.7L828.5 1912.7L831.5 1908.8L834.5 1905.1L837.5 1901.5L840.5 1898.2L843.5 1895.0L846.5 1892.1L849.5 1889.5L852.5 1887.2L855.5 1885.3L858.5 1883.6L861.5 1882.3L864.5 1881.5L867.5 1880.9L870.5 1880.8L873.5 1881.1L876.5 1881.7L879.5 1882.7L882.5 1884.0L885.5 1885.7L888.5 1887.8L891.5 1890.1L894.5 1892.8L897.5 1895.7L900.5 1898.8L903.5 1902.2L906.5 1905.7L909.5 1909.4L912.5 1913.3L915.5 1917.2L918.5 1921.2L921.5 1925.2L924.5 1929.3L927.5 1933.3L930.5 1937.3L933.5 1941.3L936.5 1945.2L939.5 1948.9L942.5 1952.6L945.5 1956.1L948.5 1959.5L951.5 1962.7L954.5 1965.8L957.5 1968.7L960.5 1971.4L963.5 1974.0L966.5 1976.4L969.5 1978.7L972.5 1980.7L975.5 1982.7L978.5 1984.4L981.5 1986.0L984.5 1987.5L987.5 1988.8L990.5 1990.1L993.5 1991.1L996.5 1992.1L999.5 1993.0L1002.5 1993.8L1005.5 1994.5L1008.5 1995.1L1011.5 1995.6L1014.5 1996.1L1017.5 1996.5L1020.5 1996.9L1023.5 1997.2L1026.5 1997.5L1029.5 1997.7L1032.5 1997.9L1035.5 1998.1L1038.5 1998.2L1041.5 1998.4L1044.5 1998.5L1047.5 1998.6L1050.5 1998.6L1053.5 1998.7L1056.5 1998.8L1059.5 1998.8L1062.5 1998.8L1065.5 1998.9L1068.5 1998.9L1071.5 1998.9L1074.5 1998.9L1077.5 1998.9L1080.5 1999.0L1083.5 1999.0L1086.5 1999.0L1089.5 1999.0L1092.5 1999.0L1095.5 1999.0L1098.5 1999.0L1101.5 1999.0L1104.5 1999.0L1107.5 1999.0L1110.5 1999.0L1113.5 1999.0L1116.5 1999.0L1119.5 1999.0L1122.5 1999.0L1125.5 1999.0L1128.5 1999.0L1131.5 1999.0L1134.5 1999.0L1137.5 1999.0L1140.5 1999.0L1143.5 1999.0L1146.5 1999.0L1149.5 1999.0L1152.5 1999.0L1155.5 1999.0L1158.5 1999.0L1161.5 1999.0L1164.5 1999.0L1167.5 1999.0L1170.5 1999.0L1173.5 1999.0L1176.5 1999.0L1179.5 1999.0L1182.5 1999.0L1185.5 1999.0L1188.5 1999.0L1191.5 1999.0L1194.5 1999.0L1197.5 1999.0L1200.5 1999.0L1203.5 1999.0L1206.5 1999.0L1209.5 1999.0L1212.5 1999.0L1215.5 1999.0L1218.5 1999.0L1221.5 1999.0L1224.5 1999.0L1227.5 1999.0L1230.5 1999.0L1233.5 1999.0L1236.5 1999.0L1239.5 1999.0L1242.5 1999.0L1245.5 1999.0L1248.5 1999.0L1251.5 1999.0L1254.5 1999.0L1257.5 1999.0L1260.5 1999.0L1263.5 1999.0L1266.5 1999.0L1269.5 1999.0L1272.5 1999.0L1275.5 1999.0L1278.5 1999.0L1281.5 1999.0L1284.5 1999.0L1287.5 1999.0L1290.5 1999.0L1293.5 1999.0L1296.5 1999.0L1299.5 1999.0L1302.5 1999.0L1305.5 1999.0L1308.5 1999.0L1311.5 1999.0L1314.5 1999.0L1317.5 1999.0L1320.5 1999.0L1323.5 1999.0L1326.5 1999.0L1329.5 1999.0L1332.5 1999.0L1335.5 1999.0L1338.5 1999.0L1341.5 1999.0L1344.5 1999.0L1347.5 1999.0L1350.5 1999.0L1353.5 1999.0L1356.5 1999.0L1359.5 1999.0L1362.5 1999.0L1365.5 1999.0L1368.5 1999.0L1371.5 1999.0L1374.5 1999.0L1377.5 1999.0L1380.5 1999.0L1383.5 1999.0L1386.5 1999.0L1389.5 1999.0L1392.5 1999.0L1395.5 1999.0L1398.5 1999.0L1401.5 1999.0L1404.5 1999.0L1407.5 1999.0L1410.5 1999.0L1413.5 1999.0L1416.5 1999.0L1419.5 1999.0L1422.5 1999.0L1425.5 1999.0L1428.5 1999.0L1431.5 1999.0L1434.5 1999.0L1437.5 1999.0L1440.5 1999.0L1443.5 1999.0L1446.5 1999.0L1449.5 1999.0L1452.5 1999.0L1455.5 1999.0L1458.5 1999.0L1461.5 1999.0L1464.5 1999.0L1467.5 1999.0L1470.5 1999.0L1473.5 1999.0L1476.5 1999.0L1479.5 1999.0L1482.5 1999.0L1485.5 1999.0L1488.5 1999.0L1491.5 1999.0L1494.5 1999.0L1497.5 1999.0L1500.5 1999.0L1503.5 1999.0L1506.5 1999.0L1509.5 1999.0L1512.5 1999.0L1515.5 1999.0L1518.5 1999.0L1521.5 1999.0L1524.5 1999.0L1527.5 1999.0L1530.5 1999.0L1533.5 1999.0L1536.5 1999.0L1539.5 1999.0L1542.5 1999.0L1545.5 1999.0L1548.5 1999.0L1551.5 1999.0L1554.5 1999.0L1557.5 1999.0L1560.5 1999.0L1563.5 1999.0L1566.5 1999.0L1569.5 1999.0L1572.5 1999.0L1575.5 1999.0L1578.5 1999.0L1581.5 1999.0L1584.5 1999.0L1587.5 1999.0L1590.5 1999.0L1593.5 1999.0L1596.5 1999.0L1599.5 1999.0L1602.5 1999.0L1605.5 1999.0L1608.5 1999.0L1611.5 1999.0L1614.5 1999.0L1617.5 1999.0L1620.5 1999.0L1623.5 1999.0L1626.5 1999.0L1629.5 1999.0L1632.5 1999.0L1635.5 1999.0L1638.5 1999.0L1641.5 1999.0L1644.5 1999.0L1647.5 1999.0L1650.5 1999.0L1653.5 1999.0L1656.5 1999.0L1659.5 1999.0L1662.5 1999.0L1665.5 1999.0L1668.5 1999.0L1671.5 1999.0L1674.5 1999.0L1677.5 1999.0L1680.5 1999.0L1683.5 1999.0L1686.5 1999.0L1689.5 1999.0L1692.5 1999.0L1695.5 1999.0L1698.5 1999.0L1701.5 1999.0L1704.5 1999.0L1707.5 1999.0L1710.5 1999.0L1713.5 1999.0L1716.5 1999.0L1719.5 1999.0L1722.5 1999.0L1725.5 1999.0L1728.5 1999.0L1731.5 1999.0L1734.5 1999.0L1737.5 1999.0L1740.5 1999.0L1743.5 1999.0L1746.5 1999.0L1749.5 1999.0L1752.5 1999.0L1755.5 1999.0L1758.5 1999.0L1761.5 1999.0L1764.5 1999.0L1767.5 1999.0L1770.5 1999.0L1773.5 1999.0L1776.5 1999.0L1779.5 1999.0L1782.5 1999.0L1785.5 1999.0L1788.5 1999.0L1791.5 1999.0L1794.5 1999.0L1797.5 1999.0L1800.5 1999.0L1803.5 1999.0L1806.5 1999.0L1809.5 1999.0L1812.5 1999.0L1815.5 1999.0L1818.5 1999.0L1821.5 1999.0L1824.5 1999.0L1827.5 1999.0L1830.5 1999.0L1833.5 1999.0L1836.5 1999.0L1839.5 1999.0L1842.5 1999.0L1845.5 1999.0L1848.5 1999.0L1851.5 1999.0L1854.5 1999.0L1857.5 1999.0L1860.5 1999.0L1863.5 1999.0L1866.5 1999.0L1869.5 1999.0L1872.5 1999.0L1875.5 1999.0L1878.5 1999.0L1881.5 1999.0L1884.5 1999.0L1887.5 1999.0L1890.5 1999.0L1893.5 1999.0L1896.5 1999.0L1899.5 1999.0L1902.5 1999.0L1905.5 1999.0L1908.5 1999.0L1911.5 1999.0L1914.5 1999.0L1917.5 1999.0L1920.5 1999.0L1923.5 1999.0L1926.5 1999.0L1929.5 1999.0L1932.5 1999.0L1935.5 1999.0L1938.5 1999.0L1941.5 1999.0L1944.5 1999.0L1947.5 1999.0L1950.5 1999.0"/>
<path d="M486.5 1999.0L489.5 1999.0L492.5 1999.0L495.5 1999.0L498.5 1999.0L501.5 1999.0L504.5 1999.0L507.5 1999.0L510.5 1999.0L513.5 1999.0L516.5 1999.0L519.5 1999.0L522.5 1999.0L525.5 1999.0L528.5 1999.0L531.5 1999.0L534.5 1999.0L537.5 1999.0L540.5 1999.0L543.5 1999.0L546.5 1999.0L549.5 1999.0L552.5 1999.0L555.5 1999.0L558.5 1999.0L561.5 1999.0L564.5 1999.0L567.5 1999.0L570.5 1999.0L573.5 1999.0L576.5 1999.0L579.5 1999.0L582.5 1999.0L585.5 1999.0L588.5 1999.0L591.5 1999.0L594.5 1999.0L597.5 1999.0L600.5 1999.0L603.5 1999.0L606.5 1999.0L609.5 1999.0L612.5 1999.0L615.5 1999.0L618.5 1999.0L621.5 1999.0L624.5 1999.0L627.5 1999.0L630.5 1999.0L633.5 1999.0L636.5 1999.0L639.5 1999.0L642.5 1999.0L645.5 1999.0L648.5 1999.0L651.5 1999.0L654.5 1999.0L657.5 1999.0L660.5 1999.0L663.5 1999.0L666.5 1999.0L669.5 1999.0L672.5 1999.0L675.5 1999.0L678.5 1999.0L681.5 1999.0L684.5 1999.0L687.5 1999.0L690.5 1999.0L693.5 1999.0L696.5 1999.0L699.5 1999.0L702.5 1999.0L705.5 1999.0L708.5 1999.0L711.5 1999.0L714.5 1999.0L717.5 1999.0L720.5 1999.0L723.5 1999.0L726.5 1999.0L729.5 1999.0L732.5 1999.0L735.5 1999.0L738.5 1999.0L741.5 1999.0L744.5 1999.0L747.5 1999.0L750.5 1999.0L753.5 1999.0L756.5 1999.0L759.5 1999.0L762.5 1999.0L765.5 1999.0L768.5 1999.0L771.5 1999.0L774.5 1999.0L777.5 1999.0L780.5 1999.0L783.5 1999.0L786.5 1999.0L789.5 1999.0L792.5 1999.0L795.5 1999.0L798.5 1999.0L801.5 1999.0L804.5 1999.0L807.5 1999.0L810.5 1999.0L813.5 1999.0L816.5 1999.0L819.5 1999.0L822.5 1999.0L825.5 1999.0L828.5 1999.0L831.5 1999.0L834.5 1999.0L837.5 1999.0L840.5 1999.0L843.5 1999.0L846.5 1999.0L849.5 1999.0L852.5 1999.0L855.5 1999.0L858.5 1999.0L861.5 1999.0L864.5 1999.0L867.5 1999.0L870.5 1999.0L873.5 1999.0L876.5 1999.0L879.5 1999.0L882.5 1999.0L885.5 1999.0L888.5 1999.0L891.5 1999.0L894.5 1999.0L897.5 1999.0L900.5 1999.0L903.5 1999.0L906.5 1999.0L909.5 1999.0L912.5 1999.0L915.5 1999.0L918.5 1999.0L921.5 1998.9L924.5 1998.9L927.5 1998.9L930.5 1998.9L933.5 1998.8L936.5 1998.8L939.5 1998.7L942.5 1998.7L945.5 1998.6L948.5 1998.5L951.5 1998.4L954.5 1998.2L957.5 1998.0L960.5 1997.8L963.5 1997.5L966.5 1997.2L969.5 1996.8L972.5 1996.3L975.5 1995.8L978.5 1995.1L981.5 1994.3L984.5 1993.4L987.5 1992.4L990.5 1991.2L993.5 1989.9L996.5 1988.3L999.5 1986.6L1002.5 1984.6L1005.5 1982.4L1008.5 1979.9L1011.5 1977.2L1014.5 1974.2L1017.5 1970.9L1020.5 1967.3L1023.5 1963.4L1026.5 1959.2L1029.5 1954.7L1032.5 1949.9L1035.5 1944.9L1038.5 1939.6L1041.5 1934.1L1044.5 1928.4L1047.5 1922.6L1050.5 1916.6L1053.5 1910.6L1056.5 1904.6L1059.5 1898.6L1062.5 1892.7L1065.5 1887.0L1068.5 1881.5L1071.5 1876.3L1074.5 1871.5L1077.5 1867.1L1080.5 1863.1L1083.5 1859.6L1086.5 1856.7L1089.5 1854.4L1092.5 1852.8L1095.5 1851.8L1098.5 1851.4L1101.5 1851.8L1104.5 1852.9L1107.5 1854.9L1110.5 1857.6L1113.5 1861.0L1116.5 1865.0L1119.5 1869.6L1122.5 1874.7L1125.5 1880.3L1128.5 1886.3L1131.5 1892.5L1134.5 1898.9L1137.5 1905.5L1140.5 1912.0L1143.5 1918.6L1146.5 1925.1L1149.5 1931.4L1152.5 1937.5L1155.5 1943.4L1158.5 1948.9L1161.5 1954.2L1164.5 1959.1L1167.5 1963.7L1170.5 1967.9L1173.5 1971.8L1176.5 1975.3L1179.5 1978.5L1182.5 1981.3L1185.5 1983.8L1188.5 1986.1L1191.5 1988.1L1194.5 1989.8L1197.5 1991.3L1200.5 1992.5L1203.5 1993.6L1206.5 1994.6L1209.5 1995.4L1212.5 1996.0L1215.5 1996.6L1218.5 1997.1L1221.5 1997.4L1224.5 1997.8L1227.5 1998.0L1230.5 1998.2L1233.5 1998.4L1236.5 1998.5L1239.5 1998.6L1242.5 1998.7L1245.5 1998.8L1248.5 1998.8L1251.5 1998.9L1254.5 1998.9L1257.5 1998.9L1260.5 1998.9L1263.5 1999.0L1266.5 1999.0L1269.5 1999.0L1272.5 1999.0L1275.5 1999.0L1278.5 1999.0L1281.5 1999.0L1284.5 1999.0L1287.5 1999.0L1290.5 1999.0L1293.5 1999.0L1296.5 1999.0L1299.5 1999.0L1302.5 1999.0L1305.5 1999.0L1308.5 1999.0L1311.5 1999.0L1314.5 1999.0L1317.5 1999.0L1320.5 1999.0L1323.5 1999.0L1326.5 1999.0L1329.5 1999.0L1332.5 1999.0L1335.5 1999.0L1338.5 1999.0L1341.5 1999.0L1344.5 1999.0L1347.5 1999.0L1350.5 1999.0L1353.5 1999.0L1356.5 1999.0L1359.5 1999.0L1362.5 1999.0L1365.5 1999.0L1368.5 1999.0L1371.5 1999.0L1374.5 1999.0L1377.5 1999.0L1380.5 1999.0L1383.5 1999.0L1386.5 1999.0L1389.5 1999.0L1392.5 1999.0L1395.5 1999.0L1398.5 1999.0L1401.5 1999.0L1404.5 1999.0L1407.5 1999.0L1410.5 1999.0L1413.5 1999.0L1416.5 1999.0L1419.5 1999.0L1422.5 1999.0L1425.5 1999.0L1428.5 1999.0L1431.5 1999.0L1434.5 1999.0L1437.5 1999.0L1440.5 1999.0L1443.5 1999.0L1446.5 1999.0L1449.5 1999.0L1452.5 1999.0L1455.5 1999.0L1458.5 1999.0L1461.5 1999.0L1464.5 1999.0L1467.5 1999.0L1470.5 1999.0L1473.5 1999.0L1476.5 1999.0L1479.5 1999.0L1482.5 1999.0L1485.5 1999.0L1488.5 1999.0L1491.5 1999.0L1494.5 1999.0L1497.5 1999.0L1500.5 1999.0L1503.5 1999.0L1506.5 1999.0L1509.5 1999.0L1512.5 1999.0L1515.5 1999.0L1518.5 1999.0L1521.5 1999.0L1524.5 1999.0L1527.5 1999.0L1530.5 1999.0L1533.5 1999.0L1536.5 1999.0L1539.5 1999.0L1542.5 1999.0L1545.5 1999.0L1548.5 1999.0L1551.5 1999.0L1554.5 1999.0L1557.5 1999.0L1560.5 1999.0L1563.5 1999.0L1566.5 1999.0L1569.5 1999.0L1572.5 1999.0L1575.5 1999.0L1578.5 1999.0L1581.5 1999.0L1584.5 1999.0L1587.5 1999.0L1590.5 1999.0L1593.5 1999.0L1596.5 1999.0L1599.5 1999.0L1602.5 1999.0L1605.5 1999.0L1608.5 1999.0L1611.5 1999.0L1614.5 1999.0L1617.5 1999.0L1620.5 1999.0L1623.5 1999.0L1626.5 1999.0L1629.5 1999.0L1632.5 1999.0L1635.5 1999.0L1638.5 1999.0L1641.5 1999.0L1644.5 1999.0L1647.5 1999.0L1650.5 1999.0L1653.5 1999.0L1656.5 1999.0L1659.5 1999.0L1662.5 1999.0L1665.5 1999.0L1668.5 1999.0L1671.5 1999.0L1674.5 1999.0L1677.5 1999.0L1680.5 1999.0L1683.5 1999.0L1686.5 1999.0L1689.5 1999.0L1692.5 1999.0L1695.5 1999.0L1698.5 1999.0L1701.5 1999.0L1704.5 1999.0L1707.5 1999.0L1710.5 1999.0L1713.5 1999.0L1716.5 1999.0L1719.5 1999.0L1722.5 1999.0L1725.5 1999.0L1728.5 1999.0L1731.5 1999.0L1734.5 1999.0L1737.5 1999.0L1740.5 1999.0L1743.5 1999.0L1746.5 1999.0L1749.5 1999.0L1752.5 1999.0L1755.5 1999.0L1758.5 1999.0L1761.5 1999.0L1764.5 1999.0L1767.5 1999.0L1770.5 1999.0L1773.5 1999.0L1776.5 1999.0L1779.5 1999.0L1782.5 1999.0L1785.5 1999.0L1788.5 1999.0L1791.5 1999.0L1794.5 1999.0L1797.5 1999.0L1800.5 1999.0L1803.5 1999.0L1806.5 1999.0L1809.5 1999.0L1812.5 1999.0L1815.5 1999.0L1818.5 1999.0L1821.5 1999.0L1824.5 1999.0L1827.5 1999.0L1830.5 1999.0L1833.5 1999.0L1836.5 1999.0L1839.5 1999.0L1842.5 1999.0L1845.5 1999.0L1848.5 1999.0L1851.5 1999.0L1854.5 1999.0L1857.5 1999.0L1860.5 1999.0L1863.5 1999.0L1866.5 1999.0L1869.5 1999.0L1872.5 1999.0L1875.5 1999.0L1878.5 1999.0L1881.5 1999.0L1884.5 1999.0L1887.5 1999.0L1890.5 1999.0L1893.5 1999.0L1896.5 1999.0L1899.5 1999.0L1902.5 1999.0L1905.5 1999.0L1908.5 1999.0L1911.5 1999.0L1914.5 1999.0L1917.5 1999.0L1920.5 1999.0L1923.5 1999.0L1926.5 1999.0L1929.5 1999.0L1932.5 1999.0L1935.5 1999.0L1938.5 1999.0L1941.5 1999.0L1944.5 1999.0L1947.5 1999.0L1950.5 1999.0"/>
<path d="M483.9 2243.9L486.9 2243.9L489.9 2243.9L492.9 2243.9L495.9 2243.9L498.9 2243.9L501.9 2243.9L504.9 2243.9L507.9 2243.9L510.9 2243.9L513.9 2243.9L516.9 2243.9L519.9 2243.9L522.9 2243.9L525.9 2243.9L528.9 2243.9L531.9 2243.9L534.9 2243.9L537.9 2243.9L540.9 2243.9L543.9 2243.9L546.9 2243.9L549.9 2243.9L552.9 2243.9L555.9 2243.9L558.9 2243.9L561.9 2243.9L564.9 2243.9L567.9 2243.9L570.9 2243.9L573.9 2243.9L576.9 2243.9L579.9 2243.9L582.9 2243.9L585.9 2243.9L588.9 2243.9L591.9 2243.9L594.9 2243.9L597.9 2243.9L600.9 2243.9L603.9 2243.9L606.9 2243.9L609.9 2243.9L612.9 2243.9L615.9 2243.9L618.9 2243.9L621.9 2243.9L624.9 2243.9L627.9 2243.8L630.9 2243.8L633.9 2243.8L636.9 2243.8L639.9 2243.8L642.9 2243.7L645.9 2243.7L648.9 2243.7L651.9 2243.6L654.9 2243.6L657.9 2243.5L660.9 2243.4L663.9 2243.3L666.9 2243.2L669.9 2243.1L672.9 2243.0L675.9 2242.8L678.9 2242.6L681.9 2242.4L684.9 2242.2L687.9 2241.9L690.9 2241.5L693.9 2241.1L696.9 2240.7L699.9 2240.2L702.9 2239.7L705.9 2239.0L708.9 2238.3L711.9 2237.5L714.9 2236.6L717.9 2235.6L720.9 2234.5L723.9 2233.3L726.9 2231.9L729.9 2230.4L732.9 2228.7L735.9 2226.9L738.9 2224.9L741.9 2222.8L744.9 2220.4L747.9 2217.9L750.9 2215.2L753.9 2212.2L756.9 2209.1L759.9 2205.7L762.9 2202.1L765.9 2198.3L768.9 2194.3L771.9 2190.0L774.9 2185.6L777.9 2181.0L780.9 2176.1L783.9 2171.1L786.9 2165.9L789.9 2160.5L792.9 2155.1L795.9 2149.5L798.9 2143.8L801.9 2138.0L804.9 2132.2L807.9 2126.4L810.9 2120.6L813.9 2114.8L816.9 2109.2L819.9 2103.6L822.9 2098.2L825.9 2093.0L828.9 2088.0L831.9 2083.3L834.9 2078.8L837.9 2074.6L840.9 2070.8L843.9 2067.4L846.9 2064.4L849.9 2061.8L852.9 2059.6L855.9 2057.9L858.9 2056.6L861.9 2055.9L864.9 2055.6L867.9 2055.8L870.9 2056.5L873.9 2057.6L876.9 2059.2L879.9 2061.2L882.9 2063.7L885.9 2066.5L888.9 2069.8L891.9 2073.4L894.9 2077.4L897.9 2081.7L900.9 2086.2L903.9 2091.0L906.9 2096.0L909.9 2101.3L912.9 2106.7L915.9 2112.2L918.9 2117.8L921.9 2123.4L924.9 2129.1L927.9 2134.8L930.9 2140.5L933.9 2146.1L936.9 2151.6L939.9 2157.1L942.9 2162.4L945.9 2167.6L948.9 2172.7L951.9 2177.5L954.9 2182.2L957.9 2186.7L960.9 2191.0L963.9 2195.1L966.9 2199.0L969.9 2202.7L972.9 2206.2L975.9 2209.5L978.9 2212.5L981.9 2215.4L984.9 2218.1L987.9 2220.5L990.9 2222.8L993.9 2224.9L996.9 2226.9L999.9 2228.7L1002.9 2230.3L1005.9 2231.8L1008.9 2233.1L1011.9 2234.4L1014.9 2235.5L1017.9 2236.5L1020.9 2237.4L1023.9 2238.2L1026.9 2238.9L1029.9 2239.5L1032.9 2240.1L1035.9 2240.6L1038.9 2241.0L1041.9 2241.4L1044.9 2241.8L1047.9 2242.1L1050.9 2242.3L1053.9 2242.5L1056.9 2242.7L1059.9 2242.9L1062.9 2243.1L1065.9 2243.2L1068.9 2243.3L1071.9 2243.4L1074.9 2243.5L1077.9 2243.5L1080.9 2243.6L1083.9 2243.7L1086.9 2243.7L1089.9 2243.7L1092.9 2243.8L1095.9 2243.8L1098.9 2243.8L1101.9 2243.8L1104.9 2243.8L1107.9 2243.8L1110.9 2243.9L1113.9 2243.9L1116.9 2243.9L1119.9 2243.9L1122.9 2243.9L1125.9 2243.9L1128.9 2243.9L1131.9 2243.9L1134.9 2243.9L1137.9 2243.9L1140.9 2243.9L1143.9 2243.9L1146.9 2243.9L1149.9 2243.9L1152.9 2243.9L1155.9 2243.9L1158.9 2243.9L1161.9 2243.9L1164.9 2243.9L1167.9 2243.9L1170.9 2243.9L1173.9 2243.9L1176.9 2243.9L1179.9 2243.9L1182.9 2243.9L1185.9 2243.9L1188.9 2243.9L1191.9 2243.9L1194.9 2243.9L1197.9 2243.9L1200.9 2243.9L1203.9 2243.9L1206.9 2243.9L1209.9 2243.9L1212.9 2243.9L1215.9 2243.9L1218.9 2243.9L1221.9 2243.9L1224.9 2243.9L1227.9 2243.9L1230.9 2243.9L1233.9 2243.9L1236.9 2243.9L1239.9 2243.9L1242.9 2243.9L1245.9 2243.9L1248.9 2243.9L1251.9 2243.9L1254.9 2243.9L1257.9 2243.9L1260.9 2243.9L1263.9 2243.9L1266.9 2243.9L1269.9 2243.9L1272.9 2243.9L1275.9 2243.9L1278.9 2243.9L1281.9 2243.9L1284.9 2243.9L1287.9 2243.9L1290.9 2243.9L1293.9 2243.9L1296.9 2243.9L1299.9 2243.9L1302.9 2243.9L1305.9 2243.9L1308.9 2243.9L1311.9 2243.9L1314.9 2243.9L1317.9 2243.9L1320.9 2243.9L1323.9 2243.9L1326.9 2243.9L1329.9 2243.9L1332.9 2243.9L1335.9 2243.9L1338.9 2243.9L1341.9 2243.9L1344.9 2243.9L1347.9 2243.9L1350.9 2243.9L1353.9 2243.9L1356.9 2243.9L1359.9 2243.9L1362.9 2243.9L1365.9 2243.9L1368.9 2243.9L1371.9 2243.9L1374.9 2243.9L1377.9 2243.9L1380.9 2243.9L1383.9 2243.9L1386.9 2243.9L1389.9 2243.9L1392.9 2243.9L1395.9 2243.9L1398.9 2243.9L1401.9 2243.9L1404.9 2243.9L1407.9 2243.9L1410.9 2243.9L1413.9 2243.9L1416.9 2243.9L1419.9 2243.9L1422.9 2243.9L1425.9 2243.9L1428.9 2243.9L1431.9 2243.9L1434.9 2243.9L1437.9 2243.9L1440.9 2243.9L1443.9 2243.9L1446.9 2243.9L1449.9 2243.9L1452.9 2243.9L1455.9 2243.9L1458.9 2243.9L1461.9 2243.9L1464.9 2243.9L1467.9 2243.9L1470.9 2243.9L1473.9 2243.9L1476.9 2243.9L1479.9 2243.9L1482.9 2243.9L1485.9 2243.9L1488.9 2243.9L1491.9 2243.9L1494.9 2243.9L1497.9 2243.9L1500.9 2243.9L1503.9 2243.9L1506.9 2243.9L1509.9 2243.9L1512.9 2243.9L1515.9 2243.9L1518.9 2243.9L1521.9 2243.9L1524.9 2243.9L1527.9 2243.9L1530.9 2243.9L1533.9 2243.9L1536.9 2243.9L1539.9 2243.9L1542.9 2243.9L1545.9 2243.9L1548.9 2243.9L1551.9 2243.9L1554.9 2243.9L1557.9 2243.9L1560.9 2243.9L1563.9 2243.9L1566.9 2243.9L1569.9 2243.9L1572.9 2243.9L1575.9 2243.9L1578.9 2243.9L1581.9 2243.9L1584.9 2243.9L1587.9 2243.9L1590.9 2243.9L1593.9 2243.9L1596.9 2243.9L1599.9 2243.9L1602.9 2243.9L1605.9 2243.9L1608.9 2243.9L1611.9 2243.9L1614.9 2243.9L1617.9 2243.9L1620.9 2243.9L1623.9 2243.9L1626.9 2243.9L1629.9 2243.9L1632.9 2243.9L1635.9 2243.9L1638.9 2243.9L1641.9 2243.9L1644.9 2243.9L1647.9 2243.9L1650.9 2243.9L1653.9 2243.9L1656.9 2243.9L1659.9 2243.9L1662.9 2243.9L1665.9 2243.9L1668.9 2243.9L1671.9 2243.9L1674.9 2243.9L1677.9 2243.9L1680.9 2243.9L1683.9 2243.9L1686.9 2243.9L1689.9 2243.9L1692.9 2243.9L1695.9 2243.9L1698.9 2243.9L1701.9 2243.9L1704.9 2243.9L1707.9 2243.9L1710.9 2243.9L1713.9 2243.9L1716.9 2243.9L1719.9 2243.9L1722.9 2243.9L1725.9 2243.9L1728.9 2243.9L1731.9 2243.9L1734.9 2243.9L1737.9 2243.9L1740.9 2243.9L1743.9 2243.9L1746.9 2243.9L1749.9 2243.9L1752.9 2243.9L1755.9 2243.9L1758.9 2243.9L1761.9 2243.9L1764.9 2243.9L1767.9 2243.9L1770.9 2243.9L1773.9 2243.9L1776.9 2243.9L1779.9 2243.9L1782.9 2243.9L1785.9 2243.9L1788.9 2243.9L1791.9 2243.9L1794.9 2243.9L1797.9 2243.9L1800.9 2243.9L1803.9 2243.9L1806.9 2243.9L1809.9 2243.9L1812.9 2243.9L1815.9 2243.9L1818.9 2243.9L1821.9 2243.9L1824.9 2243.9L1827.9 2243.9L1830.9 2243.9L1833.9 2243.9L1836.9 2243.9L1839.9 2243.9L1842.9 2243.9L1845.9 2243.9L1848.9 2243.9L1851.9 2243.9L1854.9 2243.9L1857.9 2243.9L1860.9 2243.9L1863.9 2243.9L1866.9 2243.9L1869.9 2243.9L1872.9 2243.9L1875.9 2243.9L1878.9 2243.9L1881.9 2243.9L1884.9 2243.9L1887.9 2243.9L1890.9 2243.9L1893.9 2243.9L1896.9 2243.9L1899.9 2243.9L1902.9 2243.9L1905.9 2243.9L1908.9 2243.9L1911.9 2243.9L1914.9 2243.9L1917.9 2243.9L1920.9 2243.9L1923.9 2243.9L1926.9 2243.9L1929.9 2243.9L1932.9 2243.9L1935.9 2243.9L1938.9 2243.9L1941.9 2243.9L1944.9 2243.9L1947.9 2243.9L1950.9 2243.9"/>
<path d="M483.9 2243.9L486.9 2243.9L489.9 2243.9L492.9 2243.9L495.9 2243.9L498.9 2243.9L501.9 2243.9L504.9 2243.9L507.9 2243.9L510.9 2243.9L513.9 2243.9L516.9 2243.9L519.9 2243.9L522.9 2243.9L525.9 2243.9L528.9 2243.9L531.9 2243.9L534.9 2243.9L537.9 2243.9L540.9 2243.9L543.9 2243.9L546.9 2243.9L549.9 2243.9L552.9 2243.9L555.9 2243.9L558.9 2243.9L561.9 2243.9L564.9 2243.9L567.9 2243.9L570.9 2243.9L573.9 2243.9L576.9 2243.9L579.9 2243.9L582.9 2243.9L585.9 2243.9L588.9 2243.9L591.9 2243.9L594.9 2243.9L597.9 2243.9L600.9 2243.9L603.9 2243.9L606.9 2243.9L609.9 2243.9L612.9 2243.9L615.9 2243.9L618.9 2243.9L621.9 2243.9L624.9 2243.9L627.9 2243.9L630.9 2243.9L633.9 2243.9L636.9 2243.9L639.9 2243.9L642.9 2243.9L645.9 2243.9L648.9 2243.9L651.9 2243.9L654.9 2243.9L657.9 2243.9L660.9 2243.9L663.9 2243.9L666.9 2243.9L669.9 2243.9L672.9 2243.9L675.9 2243.9L678.9 2243.9L681.9 2243.9L684.9 2243.9L687.9 2243.9L690.9 2243.9L693.9 2243.9L696.9 2243.9L699.9 2243.9L702.9 2243.9L705.9 2243.9L708.9 2243.9L711.9 2243.9L714.9 2243.9L717.9 2243.9L720.9 2243.9L723.9 2243.9L726.9 2243.9L729.9 2243.9L732.9 2243.9L735.9 2243.9L738.9 2243.9L741.9 2243.9L744.9 2243.9L747.9 2243.9L750.9 2243.9L753.9 2243.9L756.9 2243.9L759.9 2243.9L762.9 2243.9L765.9 2243.9L768.9 2243.9L771.9 2243.9L774.9 2243.9L777.9 2243.9L780.9 2243.9L783.9 2243.9L786.9 2243.9L789.9 2243.9L792.9 2243.9L795.9 2243.9L798.9 2243.9L801.9 2243.9L804.9 2243.9L807.9 2243.9L810.9 2243.9L813.9 2243.9L816.9 2243.9L819.9 2243.9L822.9 2243.9L825.9 2243.9L828.9 2243.9L831.9 2243.9L834.9 2243.9L837.9 2243.8L840.9 2243.8L843.9 2243.8L846.9 2243.8L849.9 2243.8L852.9 2243.7L855.9 2243.7L858.9 2243.7L861.9 2243.6L864.9 2243.6L867.9 2243.5L870.9 2243.4L873.9 2243.3L876.9 2243.2L879.9 2243.1L882.9 2243.0L885.9 2242.8L888.9 2242.6L891.9 2242.3L894.9 2242.1L897.9 2241.7L900.9 2241.4L903.9 2241.0L906.9 2240.5L909.9 2239.9L912.9 2239.3L915.9 2238.6L918.9 2237.8L921.9 2236.9L924.9 2235.9L927.9 2234.8L930.9 2233.6L933.9 2232.2L936.9 2230.6L939.9 2228.9L942.9 2227.0L945.9 2224.9L948.9 2222.7L951.9 2220.2L954.9 2217.5L957.9 2214.6L960.9 2211.4L963.9 2208.0L966.9 2204.3L969.9 2200.4L972.9 2196.2L975.9 2191.8L978.9 2187.1L981.9 2182.1L984.9 2176.9L987.9 2171.5L990.9 2165.8L993.9 2159.8L996.9 2153.7L999.9 2147.4L1002.9 2140.9L1005.9 2134.3L1008.9 2127.6L1011.9 2120.8L1014.9 2113.9L1017.9 2107.0L1020.9 2100.2L1023.9 2093.4L1026.9 2086.7L1029.9 2080.1L1032.9 2073.7L1035.9 2067.6L1038.9 2061.7L1041.9 2056.1L1044.9 2050.9L1047.9 2046.0L1050.9 2041.6L1053.9 2037.6L1056.9 2034.1L1059.9 2031.2L1062.9 2028.7L1065.9 2026.8L1068.9 2025.5L1071.9 2024.8L1074.9 2024.6L1077.9 2025.4L1080.9 2027.1L1083.9 2029.7L1086.9 2033.3L1089.9 2037.8L1092.9 2043.1L1095.9 2049.1L1098.9 2055.8L1101.9 2063.1L1104.9 2071.0L1107.9 2079.2L1110.9 2087.7L1113.9 2096.5L1116.9 2105.4L1119.9 2114.3L1122.9 2123.3L1125.9 2132.1L1128.9 2140.7L1131.9 2149.1L1134.9 2157.2L1137.9 2165.0L1140.9 2172.4L1143.9 2179.4L1146.9 2186.0L1149.9 2192.1L1152.9 2197.8L1155.9 2203.1L1158.9 2207.9L1161.9 2212.3L1164.9 2216.3L1167.9 2219.9L1170.9 2223.1L1173.9 2226.0L1176.9 2228.5L1179.9 2230.8L1182.9 2232.7L1185.9 2234.4L1188.9 2235.9L1191.9 2237.2L1194.9 2238.3L1197.9 2239.3L1200.9 2240.1L1203.9 2240.7L1206.9 2241.3L1209.9 2241.8L1212.9 2242.2L1215.9 2242.5L1218.9 2242.8L1221.9 2243.0L1224.9 2243.2L1227.9 2243.3L1230.9 2243.4L1233.9 2243.5L1236.9 2243.6L1239.9 2243.7L1242.9 2243.7L1245.9 2243.8L1248.9 2243.8L1251.9 2243.8L1254.9 2243.8L1257.9 2243.9L1260.9 2243.9L1263.9 2243.9L1266.9 2243.9L1269.9 2243.9L1272.9 2243.9L1275.9 2243.9L1278.9 2243.9L1281.9 2243.9L1284.9 2243.9L1287.9 2243.9L1290.9 2243.9L1293.9 2243.9L1296.9 2243.9L1299.9 2243.9L1302.9 2243.9L1305.9 2243.9L1308.9 2243.9L1311.9 2243.9L1314.9 2243.9L1317.9 2243.9L1320.9 2243.9L1323.9 2243.9L1326.9 2243.9L1329.9 2243.9L1332.9 2243.9L1335.9 2243.9L1338.9 2243.9L1341.9 2243.9L1344.9 2243.9L1347.9 2243.9L1350.9 2243.9L1353.9 2243.9L1356.9 2243.9L1359.9 2243.9L1362.9 2243.9L1365.9 2243.9L1368.9 2243.9L1371.9 2243.9L1374.9 2243.9L1377.9 2243.9L1380.9 2243.9L1383.9 2243.9L1386.9 2243.9L1389.9 2243.9L1392.9 2243.9L1395.9 2243.9L1398.9 2243.9L1401.9 2243.9L1404.9 2243.9L1407.9 2243.9L1410.9 2243.9L1413.9 2243.9L1416.9 2243.9L1419.9 2243.9L1422.9 2243.9L1425.9 2243.9L1428.9 2243.9L1431.9 2243.9L1434.9 2243.9L1437.9 2243.9L1440.9 2243.9L1443.9 2243.9L1446.9 2243.9L1449.9 2243.9L1452.9 2243.9L1455.9 2243.9L1458.9 2243.9L1461.9 2243.9L1464.9 2243.9L1467.9 2243.9L1470.9 2243.9L1473.9 2243.9L1476.9 2243.9L1479.9 2243.9L1482.9 2243.9L1485.9 2243.9L1488.9 2243.9L1491.9 2243.9L1494.9 2243.9L1497.9 2243.9L1500.9 2243.9L1503.9 2243.9L1506.9 2243.9L1509.9 2243.9L1512.9 2243.9L1515.9 2243.9L1518.9 2243.9L1521.9 2243.9L1524.9 2243.9L1527.9 2243.9L1530.9 2243.9L1533.9 2243.9L1536.9 2243.9L1539.9 2243.9L1542.9 2243.9L1545.9 2243.9L1548.9 2243.9L1551.9 2243.9L1554.9 2243.9L1557.9 2243.9L1560.9 2243.9L1563.9 2243.9L1566.9 2243.9L1569.9 2243.9L1572.9 2243.9L1575.9 2243.9L1578.9 2243.9L1581.9 2243.9L1584.9 2243.9L1587.9 2243.9L1590.9 2243.9L1593.9 2243.9L1596.9 2243.9L1599.9 2243.9L1602.9 2243.9L1605.9 2243.9L1608.9 2243.9L1611.9 2243.9L1614.9 2243.9L1617.9 2243.9L1620.9 2243.9L1623.9 2243.9L1626.9 2243.9L1629.9 2243.9L1632.9 2243.9L1635.9 2243.9L1638.9 2243.9L1641.9 2243.9L1644.9 2243.9L1647.9 2243.9L1650.9 2243.9L1653.9 2243.9L1656.9 2243.9L1659.9 2243.9L1662.9 2243.9L1665.9 2243.9L1668.9 2243.9L1671.9 2243.9L1674.9 2243.9L1677.9 2243.9L1680.9 2243.9L1683.9 2243.9L1686.9 2243.9L1689.9 2243.9L1692.9 2243.9L1695.9 2243.9L1698.9 2243.9L1701.9 2243.9L1704.9 2243.9L1707.9 2243.9L1710.9 2243.9L1713.9 2243.9L1716.9 2243.9L1719.9 2243.9L1722.9 2243.9L1725.9 2243.9L1728.9 2243.9L1731.9 2243.9L1734.9 2243.9L1737.9 2243.9L1740.9 2243.9L1743.9 2243.9L1746.9 2243.9L1749.9 2243.9L1752.9 2243.9L1755.9 2243.9L1758.9 2243.9L1761.9 2243.9L1764.9 2243.9L1767.9 2243.9L1770.9 2243.9L1773.9 2243.9L1776.9 2243.9L1779.9 2243.9L1782.9 2243.9L1785.9 2243.9L1788.9 2243.9L1791.9 2243.9L1794.9 2243.9L1797.9 2243.9L1800.9 2243.9L1803.9 2243.9L1806.9 2243.9L1809.9 2243.9L1812.9 2243.9L1815.9 2243.9L1818.9 2243.9L1821.9 2243.9L1824.9 2243.9L1827.9 2243.9L1830.9 2243.9L1833.9 2243.9L1836.9 2243.9L1839.9 2243.9L1842.9 2243.9L1845.9 2243.9L1848.9 2243.9L1851.9 2243.9L1854.9 2243.9L1857.9 2243.9L1860.9 2243.9L1863.9 2243.9L1866.9 2243.9L1869.9 2243.9L1872.9 2243.9L1875.9 2243.9L1878.9 2243.9L1881.9 2243.9L1884.9 2243.9L1887.9 2243.9L1890.9 2243.9L1893.9 2243.9L1896.9 2243.9L1899.9 2243.9L1902.9 2243.9L1905.9 2243.9L1908.9 2243.9L1911.9 2243.9L1914.9 2243.9L1917.9 2243.9L1920.9 2243.9L1923.9 2243.9L1926.9 2243.9L1929.9 2243.9L1932.9 2243.9L1935.9 2243.9L1938.9 2243.9L1941.9 2243.9L1944.9 2243.9L1947.9 2243.9L1950.9 2243.9"/>
<path d="M482.0 2486.0L485.0 2486.0L488.0 2486.0L491.0 2486.0L494.0 2486.0L497.0 2486.0L500.0 2486.0L503.0 2486.0L506.0 2486.0L509.0 2486.0L512.0 2486.0L515.0 2486.0L518.0 2486.0L521.0 2486.0L524.0 2486.0L527.0 2486.0L530.0 2486.0L533.0 2486.0L536.0 2486.0L539.0 2486.0L542.0 2486.0L545.0 2486.0L548.0 2486.0L551.0 2486.0L554.0 2486.0L557.0 2486.0L560.0 2486.0L563.0 2486.0L566.0 2486.0L569.0 2486.0L572.0 2486.0L575.0 2486.0L578.0 2486.0L581.0 2486.0L584.0 2486.0L587.0 2486.0L590.0 2486.0L593.0 2486.0L596.0 2486.0L599.0 2486.0L602.0 2486.0L605.0 2486.0L608.0 2486.0L611.0 2486.0L614.0 2486.0L617.0 2486.0L620.0 2486.0L623.0 2486.0L626.0 2486.0L629.0 2486.0L632.0 2486.0L635.0 2486.0L638.0 2486.0L641.0 2486.0L644.0 2486.0L647.0 2486.0L650.0 2486.0L653.0 2486.0L656.0 2486.0L659.0 2486.0L662.0 2486.0L665.0 2486.0L668.0 2486.0L671.0 2486.0L674.0 2486.0L677.0 2486.0L680.0 2486.0L683.0 2486.0L686.0 2486.0L689.0 2485.9L692.0 2485.9L695.0 2485.9L698.0 2485.9L701.0 2485.9L704.0 2485.9L707.0 2485.8L710.0 2485.8L713.0 2485.8L716.0 2485.7L719.0 2485.7L722.0 2485.6L725.0 2485.5L728.0 2485.4L731.0 2485.3L734.0 2485.2L737.0 2485.1L740.0 2484.9L743.0 2484.7L746.0 2484.5L749.0 2484.3L752.0 2484.0L755.0 2483.7L758.0 2483.4L761.0 2483.0L764.0 2482.6L767.0 2482.1L770.0 2481.5L773.0 2480.9L776.0 2480.3L779.0 2479.6L782.0 2478.8L785.0 2477.9L788.0 2477.0L791.0 2475.9L794.0 2474.8L797.0 2473.7L800.0 2472.4L803.0 2471.0L806.0 2469.6L809.0 2468.0L812.0 2466.4L815.0 2464.7L818.0 2462.9L821.0 2461.1L824.0 2459.2L827.0 2457.2L830.0 2455.1L833.0 2453.0L836.0 2450.9L839.0 2448.8L842.0 2446.6L845.0 2444.4L848.0 2442.2L851.0 2440.1L854.0 2438.0L857.0 2435.9L860.0 2433.9L863.0 2432.0L866.0 2430.2L869.0 2428.5L872.0 2426.9L875.0 2425.5L878.0 2424.2L881.0 2423.1L884.0 2422.1L887.0 2421.3L890.0 2420.7L893.0 2420.3L896.0 2420.0L899.0 2420.0L902.0 2420.2L905.0 2420.5L908.0 2421.1L911.0 2421.8L914.0 2422.7L917.0 2423.8L920.0 2425.0L923.0 2426.4L926.0 2428.0L929.0 2429.6L932.0 2431.4L935.0 2433.3L938.0 2435.3L941.0 2437.3L944.0 2439.4L947.0 2441.5L950.0 2443.7L953.0 2445.9L956.0 2448.0L959.0 2450.2L962.0 2452.3L965.0 2454.4L968.0 2456.5L971.0 2458.5L974.0 2460.5L977.0 2462.3L980.0 2464.1L983.0 2465.9L986.0 2467.5L989.0 2469.1L992.0 2470.6L995.0 2471.9L998.0 2473.2L1001.0 2474.5L1004.0 2475.6L1007.0 2476.6L1010.0 2477.6L1013.0 2478.5L1016.0 2479.3L1019.0 2480.1L1022.0 2480.7L1025.0 2481.3L1028.0 2481.9L1031.0 2482.4L1034.0 2482.8L1037.0 2483.2L1040.0 2483.6L1043.0 2483.9L1046.0 2484.2L1049.0 2484.4L1052.0 2484.7L1055.0 2484.9L1058.0 2485.0L1061.0 2485.2L1064.0 2485.3L1067.0 2485.4L1070.0 2485.5L1073.0 2485.6L1076.0 2485.6L1079.0 2485.7L1082.0 2485.7L1085.0 2485.8L1088.0 2485.8L1091.0 2485.9L1094.0 2485.9L1097.0 2485.9L1100.0 2485.9L1103.0 2485.9L1106.0 2485.9L1109.0 2486.0L1112.0 2486.0L1115.0 2486.0L1118.0 2486.0L1121.0 2486.0L1124.0 2486.0L1127.0 2486.0L1130.0 2486.0L1133.0 2486.0L1136.0 2486.0L1139.0 2486.0L1142.0 2486.0L1145.0 2486.0L1148.0 2486.0L1151.0 2486.0L1154.0 2486.0L1157.0 2486.0L1160.0 2486.0L1163.0 2486.0L1166.0 2486.0L1169.0 2486.0L1172.0 2486.0L1175.0 2486.0L1178.0 2486.0L1181.0 2486.0L1184.0 2486.0L1187.0 2486.0L1190.0 2486.0L1193.0 2486.0L1196.0 2486.0L1199.0 2486.0L1202.0 2486.0L1205.0 2486.0L1208.0 2486.0L1211.0 2486.0L1214.0 2486.0L1217.0 2486.0L1220.0 2486.0L1223.0 2486.0L1226.0 2486.0L1229.0 2486.0L1232.0 2486.0L1235.0 2486.0L1238.0 2486.0L1241.0 2486.0L1244.0 2486.0L1247.0 2486.0L1250.0 2486.0L1253.0 2486.0L1256.0 2486.0L1259.0 2486.0L1262.0 2486.0L1265.0 2486.0L1268.0 2486.0L1271.0 2486.0L1274.0 2486.0L1277.0 2486.0L1280.0 2486.0L1283.0 2486.0L1286.0 2486.0L1289.0 2486.0L1292.0 2486.0L1295.0 2486.0L1298.0 2486.0L1301.0 2486.0L1304.0 2486.0L1307.0 2486.0L1310.0 2486.0L1313.0 2486.0L1316.0 2486.0L1319.0 2486.0L1322.0 2486.0L1325.0 2486.0L1328.0 2486.0L1331.0 2486.0L1334.0 2486.0L1337.0 2486.0L1340.0 2486.0L1343.0 2486.0L1346.0 2486.0L1349.0 2486.0L1352.0 2486.0L1355.0 2486.0L1358.0 2486.0L1361.0 2486.0L1364.0 2486.0L1367.0 2486.0L1370.0 2486.0L1373.0 2486.0L1376.0 2486.0L1379.0 2486.0L1382.0 2486.0L1385.0 2486.0L1388.0 2486.0L1391.0 2486.0L1394.0 2486.0L1397.0 2486.0L1400.0 2486.0L1403.0 2486.0L1406.0 2486.0L1409.0 2486.0L1412.0 2486.0L1415.0 2486.0L1418.0 2486.0L1421.0 2486.0L1424.0 2486.0L1427.0 2486.0L1430.0 2486.0L1433.0 2486.0L1436.0 2486.0L1439.0 2486.0L1442.0 2486.0L1445.0 2486.0L1448.0 2486.0L1451.0 2486.0L1454.0 2486.0L1457.0 2486.0L1460.0 2486.0L1463.0 2486.0L1466.0 2486.0L1469.0 2486.0L1472.0 2486.0L1475.0 2486.0L1478.0 2486.0L1481.0 2486.0L1484.0 2486.0L1487.0 2486.0L1490.0 2486.0L1493.0 2486.0L1496.0 2486.0L1499.0 2486.0L1502.0 2486.0L1505.0 2486.0L1508.0 2486.0L1511.0 2486.0L1514.0 2486.0L1517.0 2486.0L1520.0 2486.0L1523.0 2486.0L1526.0 2486.0L1529.0 2486.0L1532.0 2486.0L1535.0 2486.0L1538.0 2486.0L1541.0 2486.0L1544.0 2486.0L1547.0 2486.0L1550.0 2486.0L1553.0 2486.0L1556.0 2486.0L1559.0 2486.0L1562.0 2486.0L1565.0 2486.0L1568.0 2486.0L1571.0 2486.0L1574.0 2486.0L1577.0 2486.0L1580.0 2486.0L1583.0 2486.0L1586.0 2486.0L1589.0 2486.0L1592.0 2486.0L1595.0 2486.0L1598.0 2486.0L1601.0 2486.0L1604.0 2486.0L1607.0 2486.0L1610.0 2486.0L1613.0 2486.0L1616.0 2486.0L1619.0 2486.0L1622.0 2486.0L1625.0 2486.0L1628.0 2486.0L1631.0 2486.0L1634.0 2486.0L1637.0 2486.0L1640.0 2486.0L1643.0 2486.0L1646.0 2486.0L1649.0 2486.0L1652.0 2486.0L1655.0 2486.0L1658.0 2486.0L1661.0 2486.0L1664.0 2486.0L1667.0 2486.0L1670.0 2486.0L1673.0 2486.0L1676.0 2486.0L1679.0 2486.0L1682.0 2486.0L1685.0 2486.0L1688.0 2486.0L1691.0 2486.0L1694.0 2486.0L1697.0 2486.0L1700.0 2486.0L1703.0 2486.0L1706.0 2486.0L1709.0 2486.0L1712.0 2486.0L1715.0 2486.0L1718.0 2486.0L1721.0 2486.0L1724.0 2486.0L1727.0 2486.0L1730.0 2486.0L1733.0 2486.0L1736.0 2486.0L1739.0 2486.0L1742.0 2486.0L1745.0 2486.0L1748.0 2486.0L1751.0 2486.0L1754.0 2486.0L1757.0 2486.0L1760.0 2486.0L1763.0 2486.0L1766.0 2486.0L1769.0 2486.0L1772.0 2486.0L1775.0 2486.0L1778.0 2486.0L1781.0 2486.0L1784.0 2486.0L1787.0 2486.0L1790.0 2486.0L1793.0 2486.0L1796.0 2486.0L1799.0 2486.0L1802.0 2486.0L1805.0 2486.0L1808.0 2486.0L1811.0 2486.0L1814.0 2486.0L1817.0 2486.0L1820.0 2486.0L1823.0 2486.0L1826.0 2486.0L1829.0 2486.0L1832.0 2486.0L1835.0 2486.0L1838.0 2486.0L1841.0 2486.0L1844.0 2486.0L1847.0 2486.0L1850.0 2486.0L1853.0 2486.0L1856.0 2486.0L1859.0 2486.0L1862.0 2486.0L1865.0 2486.0L1868.0 2486.0L1871.0 2486.0L1874.0 2486.0L1877.0 2486.0L1880.0 2486.0L1883.0 2486.0L1886.0 2486.0L1889.0 2486.0L1892.0 2486.0L1895.0 2486.0L1898.0 2486.0L1901.0 2486.0L1904.0 2486.0L1907.0 2486.0L1910.0 2486.0L1913.0 2486.0L1916.0 2486.0L1919.0 2486.0L1922.0 2486.0L1925.0 2486.0L1928.0 2486.0L1931.0 2486.0L1934.0 2486.0L1937.0 2486.0L1940.0 2486.0L1943.0 2486.0L1946.0 2486.0L1949.0 2486.0"/>
<path d="M482.0 2486.0L485.0 2486.0L488.0 2486.0L491.0 2486.0L494.0 2486.0L497.0 2486.0L500.0 2486.0L503.0 2486.0L506.0 2486.0L509.0 2486.0L512.0 2486.0L515.0 2486.0L518.0 2486.0L521.0 2486.0L524.0 2486.0L527.0 2486.0L530.0 2486.0L533.0 2486.0L536.0 2486.0L539.0 2486.0L542.0 2486.0L545.0 2486.0L548.0 2486.0L551.0 2486.0L554.0 2486.0L557.0 2486.0L560.0 2486.0L563.0 2486.0L566.0 2486.0L569.0 2486.0L572.0 2486.0L575.0 2486.0L578.0 2486.0L581.0 2486.0L584.0 2486.0L587.0 2486.0L590.0 2486.0L593.0 2486.0L596.0 2486.0L599.0 2486.0L602.0 2486.0L605.0 2486.0L608.0 2486.0L611.0 2486.0L614.0 2486.0L617.0 2486.0L620.0 2486.0L623.0 2486.0L626.0 2486.0L629.0 2486.0L632.0 2486.0L635.0 2486.0L638.0 2486.0L641.0 2486.0L644.0 2486.0L647.0 2486.0L650.0 2486.0L653.0 2486.0L656.0 2486.0L659.0 2486.0L662.0 2486.0L665.0 2486.0L668.0 2486.0L671.0 2486.0L674.0 2486.0L677.0 2486.0L680.0 2486.0L683.0 2486.0L686.0 2486.0L689.0 2486.0L692.0 2486.0L695.0 2485.9L698.0 2485.9L701.0 2485.9L704.0 2485.9L707.0 2485.9L710.0 2485.9L713.0 2485.9L716.0 2485.9L719.0 2485.9L722.0 2485.9L725.0 2485.9L728.0 2485.8L731.0 2485.8L734.0 2485.8L737.0 2485.8L740.0 2485.8L743.0 2485.7L746.0 2485.7L749.0 2485.7L752.0 2485.7L755.0 2485.6L758.0 2485.6L761.0 2485.5L764.0 2485.5L767.0 2485.5L770.0 2485.4L773.0 2485.4L776.0 2485.3L779.0 2485.2L782.0 2485.2L785.0 2485.1L788.0 2485.0L791.0 2485.0L794.0 2484.9L797.0 2484.8L800.0 2484.7L803.0 2484.6L806.0 2484.5L809.0 2484.4L812.0 2484.2L815.0 2484.1L818.0 2484.0L821.0 2483.8L824.0 2483.6L827.0 2483.5L830.0 2483.3L833.0 2483.1L836.0 2482.9L839.0 2482.7L842.0 2482.5L845.0 2482.2L848.0 2482.0L851.0 2481.7L854.0 2481.4L857.0 2481.1L860.0 2480.8L863.0 2480.5L866.0 2480.2L869.0 2479.8L872.0 2479.5L875.0 2479.1L878.0 2478.7L881.0 2478.3L884.0 2477.9L887.0 2477.4L890.0 2477.0L893.0 2476.5L896.0 2476.0L899.0 2475.5L902.0 2474.9L905.0 2474.4L908.0 2473.8L911.0 2473.2L914.0 2472.6L917.0 2472.0L920.0 2471.4L923.0 2470.7L926.0 2470.1L929.0 2469.4L932.0 2468.7L935.0 2468.0L938.0 2467.3L941.0 2466.5L944.0 2465.8L947.0 2465.0L950.0 2464.3L953.0 2463.5L956.0 2462.7L959.0 2461.9L962.0 2461.1L965.0 2460.3L968.0 2459.5L971.0 2458.7L974.0 2457.9L977.0 2457.0L980.0 2456.2L983.0 2455.4L986.0 2454.6L989.0 2453.8L992.0 2453.0L995.0 2452.2L998.0 2451.4L1001.0 2450.7L1004.0 2449.9L1007.0 2449.1L1010.0 2448.4L1013.0 2447.7L1016.0 2447.0L1019.0 2446.3L1022.0 2445.7L1025.0 2445.1L1028.0 2444.5L1031.0 2443.9L1034.0 2443.3L1037.0 2442.8L1040.0 2442.3L1043.0 2441.8L1046.0 2441.4L1049.0 2441.0L1052.0 2440.7L1055.0 2440.3L1058.0 2440.0L1061.0 2439.8L1064.0 2439.5L1067.0 2439.4L1070.0 2439.2L1073.0 2439.1L1076.0 2439.0L1079.0 2439.0L1082.0 2439.0L1085.0 2439.1L1088.0 2439.1L1091.0 2439.3L1094.0 2439.4L1097.0 2439.6L1100.0 2439.9L1103.0 2440.1L1106.0 2440.4L1109.0 2440.8L1112.0 2441.1L1115.0 2441.6L1118.0 2442.0L1121.0 2442.5L1124.0 2443.0L1127.0 2443.5L1130.0 2444.1L1133.0 2444.7L1136.0 2445.3L1139.0 2445.9L1142.0 2446.6L1145.0 2447.2L1148.0 2447.9L1151.0 2448.7L1154.0 2449.4L1157.0 2450.1L1160.0 2450.9L1163.0 2451.7L1166.0 2452.5L1169.0 2453.3L1172.0 2454.1L1175.0 2454.9L1178.0 2455.7L1181.0 2456.5L1184.0 2457.3L1187.0 2458.1L1190.0 2458.9L1193.0 2459.8L1196.0 2460.6L1199.0 2461.4L1202.0 2462.2L1205.0 2463.0L1208.0 2463.8L1211.0 2464.5L1214.0 2465.3L1217.0 2466.0L1220.0 2466.8L1223.0 2467.5L1226.0 2468.2L1229.0 2468.9L1232.0 2469.6L1235.0 2470.3L1238.0 2471.0L1241.0 2471.6L1244.0 2472.2L1247.0 2472.8L1250.0 2473.4L1253.0 2474.0L1256.0 2474.6L1259.0 2475.1L1262.0 2475.6L1265.0 2476.1L1268.0 2476.6L1271.0 2477.1L1274.0 2477.6L1277.0 2478.0L1280.0 2478.4L1283.0 2478.8L1286.0 2479.2L1289.0 2479.6L1292.0 2480.0L1295.0 2480.3L1298.0 2480.6L1301.0 2480.9L1304.0 2481.2L1307.0 2481.5L1310.0 2481.8L1313.0 2482.1L1316.0 2482.3L1319.0 2482.5L1322.0 2482.8L1325.0 2483.0L1328.0 2483.2L1331.0 2483.4L1334.0 2483.5L1337.0 2483.7L1340.0 2483.9L1343.0 2484.0L1346.0 2484.1L1349.0 2484.3L1352.0 2484.4L1355.0 2484.5L1358.0 2484.6L1361.0 2484.7L1364.0 2484.8L1367.0 2484.9L1370.0 2485.0L1373.0 2485.1L1376.0 2485.1L1379.0 2485.2L1382.0 2485.3L1385.0 2485.3L1388.0 2485.4L1391.0 2485.4L1394.0 2485.5L1397.0 2485.5L1400.0 2485.6L1403.0 2485.6L1406.0 2485.6L1409.0 2485.7L1412.0 2485.7L1415.0 2485.7L1418.0 2485.7L1421.0 2485.8L1424.0 2485.8L1427.0 2485.8L1430.0 2485.8L1433.0 2485.8L1436.0 2485.9L1439.0 2485.9L1442.0 2485.9L1445.0 2485.9L1448.0 2485.9L1451.0 2485.9L1454.0 2485.9L1457.0 2485.9L1460.0 2485.9L1463.0 2485.9L1466.0 2485.9L1469.0 2486.0L1472.0 2486.0L1475.0 2486.0L1478.0 2486.0L1481.0 2486.0L1484.0 2486.0L1487.0 2486.0L1490.0 2486.0L1493.0 2486.0L1496.0 2486.0L1499.0 2486.0L1502.0 2486.0L1505.0 2486.0L1508.0 2486.0L1511.0 2486.0L1514.0 2486.0L1517.0 2486.0L1520.0 2486.0L1523.0 2486.0L1526.0 2486.0L1529.0 2486.0L1532.0 2486.0L1535.0 2486.0L1538.0 2486.0L1541.0 2486.0L1544.0 2486.0L1547.0 2486.0L1550.0 2486.0L1553.0 2486.0L1556.0 2486.0L1559.0 2486.0L1562.0 2486.0L1565.0 2486.0L1568.0 2486.0L1571.0 2486.0L1574.0 2486.0L1577.0 2486.0L1580.0 2486.0L1583.0 2486.0L1586.0 2486.0L1589.0 2486.0L1592.0 2486.0L1595.0 2486.0L1598.0 2486.0L1601.0 2486.0L1604.0 2486.0L1607.0 2486.0L1610.0 2486.0L1613.0 2486.0L1616.0 2486.0L1619.0 2486.0L1622.0 2486.0L1625.0 2486.0L1628.0 2486.0L1631.0 2486.0L1634.0 2486.0L1637.0 2486.0L1640.0 2486.0L1643.0 2486.0L1646.0 2486.0L1649.0 2486.0L1652.0 2486.0L1655.0 2486.0L1658.0 2486.0L1661.0 2486.0L1664.0 2486.0L1667.0 2486.0L1670.0 2486.0L1673.0 2486.0L1676.0 2486.0L1679.0 2486.0L1682.0 2486.0L1685.0 2486.0L1688.0 2486.0L1691.0 2486.0L1694.0 2486.0L1697.0 2486.0L1700.0 2486.0L1703.0 2486.0L1706.0 2486.0L1709.0 2486.0L1712.0 2486.0L1715.0 2486.0L1718.0 2486.0L1721.0 2486.0L1724.0 2486.0L1727.0 2486.0L1730.0 2486.0L1733.0 2486.0L1736.0 2486.0L1739.0 2486.0L1742.0 2486.0L1745.0 2486.0L1748.0 2486.0L1751.0 2486.0L1754.0 2486.0L1757.0 2486.0L1760.0 2486.0L1763.0 2486.0L1766.0 2486.0L1769.0 2486.0L1772.0 2486.0L1775.0 2486.0L1778.0 2486.0L1781.0 2486.0L1784.0 2486.0L1787.0 2486.0L1790.0 2486.0L1793.0 2486.0L1796.0 2486.0L1799.0 2486.0L1802.0 2486.0L1805.0 2486.0L1808.0 2486.0L1811.0 2486.0L1814.0 2486.0L1817.0 2486.0L1820.0 2486.0L1823.0 2486.0L1826.0 2486.0L1829.0 2486.0L1832.0 2486.0L1835.0 2486.0L1838.0 2486.0L1841.0 2486.0L1844.0 2486.0L1847.0 2486.0L1850.0 2486.0L1853.0 2486.0L1856.0 2486.0L1859.0 2486.0L1862.0 2486.0L1865.0 2486.0L1868.0 2486.0L1871.0 2486.0L1874.0 2486.0L1877.0 2486.0L1880.0 2486.0L1883.0 2486.0L1886.0 2486.0L1889.0 2486.0L1892.0 2486.0L1895.0 2486.0L1898.0 2486.0L1901.0 2486.0L1904.0 2486.0L1907.0 2486.0L1910.0 2486.0L1913.0 2486.0L1916.0 2486.0L1919.0 2486.0L1922.0 2486.0L1925.0 2486.0L1928.0 2486.0L1931.0 2486.0L1934.0 2486.0L1937.0 2486.0L1940.0 2486.0L1943.0 2486.0L1946.0 2486.0L1949.0 2486.0"/>
<path d="M482.0 2486.0L485.0 2486.0L488.0 2486.0L491.0 2486.0L494.0 2486.0L497.0 2486.0L500.0 2486.0L503.0 2486.0L506.0 2486.0L509.0 2486.0L512.0 2486.0L515.0 2486.0L518.0 2486.0L521.0 2486.0L524.0 2486.0L527.0 2486.0L530.0 2486.0L533.0 2486.0L536.0 2486.0L539.0 2486.0L542.0 2486.0L545.0 2486.0L548.0 2486.0L551.0 2486.0L554.0 2486.0L557.0 2486.0L560.0 2486.0L563.0 2486.0L566.0 2486.0L569.0 2486.0L572.0 2486.0L575.0 2486.0L578.0 2486.0L581.0 2486.0L584.0 2486.0L587.0 2486.0L590.0 2486.0L593.0 2486.0L596.0 2486.0L599.0 2486.0L602.0 2486.0L605.0 2486.0L608.0 2486.0L611.0 2486.0L614.0 2486.0L617.0 2486.0L620.0 2486.0L623.0 2486.0L626.0 2486.0L629.0 2486.0L632.0 2486.0L635.0 2486.0L638.0 2486.0L641.0 2486.0L644.0 2486.0L647.0 2486.0L650.0 2486.0L653.0 2486.0L656.0 2486.0L659.0 2486.0L662.0 2486.0L665.0 2486.0L668.0 2486.0L671.0 2486.0L674.0 2486.0L677.0 2486.0L680.0 2486.0L683.0 2486.0L686.0 2486.0L689.0 2486.0L692.0 2486.0L695.0 2486.0L698.0 2486.0L701.0 2486.0L704.0 2486.0L707.0 2486.0L710.0 2486.0L713.0 2486.0L716.0 2486.0L719.0 2486.0L722.0 2486.0L725.0 2486.0L728.0 2486.0L731.0 2486.0L734.0 2486.0L737.0 2486.0L740.0 2486.0L743.0 2486.0L746.0 2486.0L749.0 2486.0L752.0 2486.0L755.0 2486.0L758.0 2486.0L761.0 2486.0L764.0 2486.0L767.0 2486.0L770.0 2486.0L773.0 2486.0L776.0 2486.0L779.0 2486.0L782.0 2486.0L785.0 2486.0L788.0 2486.0L791.0 2486.0L794.0 2486.0L797.0 2486.0L800.0 2486.0L803.0 2486.0L806.0 2486.0L809.0 2486.0L812.0 2486.0L815.0 2486.0L818.0 2486.0L821.0 2486.0L824.0 2486.0L827.0 2486.0L830.0 2486.0L833.0 2486.0L836.0 2486.0L839.0 2486.0L842.0 2486.0L845.0 2486.0L848.0 2486.0L851.0 2486.0L854.0 2486.0L857.0 2486.0L860.0 2486.0L863.0 2486.0L866.0 2486.0L869.0 2486.0L872.0 2486.0L875.0 2486.0L878.0 2486.0L881.0 2486.0L884.0 2486.0L887.0 2486.0L890.0 2486.0L893.0 2486.0L896.0 2486.0L899.0 2486.0L902.0 2486.0L905.0 2486.0L908.0 2486.0L911.0 2486.0L914.0 2486.0L917.0 2486.0L920.0 2486.0L923.0 2486.0L926.0 2486.0L929.0 2486.0L932.0 2486.0L935.0 2486.0L938.0 2486.0L941.0 2486.0L944.0 2486.0L947.0 2486.0L950.0 2486.0L953.0 2486.0L956.0 2486.0L959.0 2486.0L962.0 2486.0L965.0 2486.0L968.0 2486.0L971.0 2486.0L974.0 2486.0L977.0 2486.0L980.0 2486.0L983.0 2486.0L986.0 2486.0L989.0 2486.0L992.0 2486.0L995.0 2486.0L998.0 2486.0L1001.0 2486.0L1004.0 2486.0L1007.0 2486.0L1010.0 2486.0L1013.0 2486.0L1016.0 2486.0L1019.0 2486.0L1022.0 2486.0L1025.0 2486.0L1028.0 2486.0L1031.0 2486.0L1034.0 2486.0L1037.0 2486.0L1040.0 2486.0L1043.0 2486.0L1046.0 2486.0L1049.0 2486.0L1052.0 2486.0L1055.0 2486.0L1058.0 2486.0L1061.0 2486.0L1064.0 2486.0L1067.0 2486.0L1070.0 2486.0L1073.0 2486.0L1076.0 2486.0L1079.0 2486.0L1082.0 2486.0L1085.0 2486.0L1088.0 2486.0L1091.0 2486.0L1094.0 2486.0L1097.0 2486.0L1100.0 2486.0L1103.0 2486.0L1106.0 2486.0L1109.0 2486.0L1112.0 2486.0L1115.0 2486.0L1118.0 2485.9L1121.0 2485.9L1124.0 2485.9L1127.0 2485.9L1130.0 2485.8L1133.0 2485.8L1136.0 2485.7L1139.0 2485.6L1142.0 2485.4L1145.0 2485.3L1148.0 2485.1L1151.0 2484.8L1154.0 2484.5L1157.0 2484.1L1160.0 2483.7L1163.0 2483.1L1166.0 2482.4L1169.0 2481.6L1172.0 2480.7L1175.0 2479.6L1178.0 2478.3L1181.0 2476.9L1184.0 2475.2L1187.0 2473.4L1190.0 2471.3L1193.0 2469.1L1196.0 2466.6L1199.0 2463.9L1202.0 2461.0L1205.0 2458.0L1208.0 2454.8L1211.0 2451.5L1214.0 2448.1L1217.0 2444.7L1220.0 2441.3L1223.0 2438.0L1226.0 2434.8L1229.0 2431.8L1232.0 2429.0L1235.0 2426.5L1238.0 2424.3L1241.0 2422.5L1244.0 2421.1L1247.0 2420.2L1250.0 2419.8L1253.0 2419.8L1256.0 2420.3L1259.0 2421.2L1262.0 2422.6L1265.0 2424.4L1268.0 2426.6L1271.0 2429.1L1274.0 2432.0L1277.0 2435.0L1280.0 2438.2L1283.0 2441.5L1286.0 2444.9L1289.0 2448.3L1292.0 2451.7L1295.0 2455.0L1298.0 2458.2L1301.0 2461.2L1304.0 2464.1L1307.0 2466.7L1310.0 2469.2L1313.0 2471.5L1316.0 2473.5L1319.0 2475.3L1322.0 2477.0L1325.0 2478.4L1328.0 2479.7L1331.0 2480.7L1334.0 2481.7L1337.0 2482.5L1340.0 2483.1L1343.0 2483.7L1346.0 2484.2L1349.0 2484.5L1352.0 2484.8L1355.0 2485.1L1358.0 2485.3L1361.0 2485.5L1364.0 2485.6L1367.0 2485.7L1370.0 2485.8L1373.0 2485.8L1376.0 2485.9L1379.0 2485.9L1382.0 2485.9L1385.0 2485.9L1388.0 2486.0L1391.0 2486.0L1394.0 2486.0L1397.0 2486.0L1400.0 2486.0L1403.0 2486.0L1406.0 2486.0L1409.0 2486.0L1412.0 2486.0L1415.0 2486.0L1418.0 2486.0L1421.0 2486.0L1424.0 2486.0L1427.0 2486.0L1430.0 2486.0L1433.0 2486.0L1436.0 2486.0L1439.0 2486.0L1442.0 2486.0L1445.0 2486.0L1448.0 2486.0L1451.0 2486.0L1454.0 2486.0L1457.0 2486.0L1460.0 2486.0L1463.0 2486.0L1466.0 2486.0L1469.0 2486.0L1472.0 2486.0L1475.0 2486.0L1478.0 2486.0L1481.0 2486.0L1484.0 2486.0L1487.0 2486.0L1490.0 2486.0L1493.0 2486.0L1496.0 2486.0L1499.0 2486.0L1502.0 2486.0L1505.0 2486.0L1508.0 2486.0L1511.0 2486.0L1514.0 2486.0L1517.0 2486.0L1520.0 2486.0L1523.0 2486.0L1526.0 2486.0L1529.0 2486.0L1532.0 2486.0L1535.0 2486.0L1538.0 2486.0L1541.0 2486.0L1544.0 2486.0L1547.0 2486.0L1550.0 2486.0L1553.0 2486.0L1556.0 2486.0L1559.0 2486.0L1562.0 2486.0L1565.0 2486.0L1568.0 2486.0L1571.0 2486.0L1574.0 2486.0L1577.0 2486.0L1580.0 2486.0L1583.0 2486.0L1586.0 2486.0L1589.0 2486.0L1592.0 2486.0L1595.0 2486.0L1598.0 2486.0L1601.0 2486.0L1604.0 2486.0L1607.0 2486.0L1610.0 2486.0L1613.0 2486.0L1616.0 2486.0L1619.0 2486.0L1622.0 2486.0L1625.0 2486.0L1628.0 2486.0L1631.0 2486.0L1634.0 2486.0L1637.0 2486.0L1640.0 2486.0L1643.0 2486.0L1646.0 2486.0L1649.0 2486.0L1652.0 2486.0L1655.0 2486.0L1658.0 2486.0L1661.0 2486.0L1664.0 2486.0L1667.0 2486.0L1670.0 2486.0L1673.0 2486.0L1676.0 2486.0L1679.0 2486.0L1682.0 2486.0L1685.0 2486.0L1688.0 2486.0L1691.0 2486.0L1694.0 2486.0L1697.0 2486.0L1700.0 2486.0L1703.0 2486.0L1706.0 2486.0L1709.0 2486.0L1712.0 2486.0L1715.0 2486.0L1718.0 2486.0L1721.0 2486.0L1724.0 2486.0L1727.0 2486.0L1730.0 2486.0L1733.0 2486.0L1736.0 2486.0L1739.0 2486.0L1742.0 2486.0L1745.0 2486.0L1748.0 2486.0L1751.0 2486.0L1754.0 2486.0L1757.0 2486.0L1760.0 2486.0L1763.0 2486.0L1766.0 2486.0L1769.0 2486.0L1772.0 2486.0L1775.0 2486.0L1778.0 2486.0L1781.0 2486.0L1784.0 2486.0L1787.0 2486.0L1790.0 2486.0L1793.0 2486.0L1796.0 2486.0L1799.0 2486.0L1802.0 2486.0L1805.0 2486.0L1808.0 2486.0L1811.0 2486.0L1814.0 2486.0L1817.0 2486.0L1820.0 2486.0L1823.0 2486.0L1826.0 2486.0L1829.0 2486.0L1832.0 2486.0L1835.0 2486.0L1838.0 2486.0L1841.0 2486.0L1844.0 2486.0L1847.0 2486.0L1850.0 2486.0L1853.0 2486.0L1856.0 2486.0L1859.0 2486.0L1862.0 2486.0L1865.0 2486.0L1868.0 2486.0L1871.0 2486.0L1874.0 2486.0L1877.0 2486.0L1880.0 2486.0L1883.0 2486.0L1886.0 2486.0L1889.0 2486.0L1892.0 2486.0L1895.0 2486.0L1898.0 2486.0L1901.0 2486.0L1904.0 2486.0L1907.0 2486.0L1910.0 2486.0L1913.0 2486.0L1916.0 2486.0L1919.0 2486.0L1922.0 2486.0L1925.0 2486.0L1928.0 2486.0L1931.0 2486.0L1934.0 2486.0L1937.0 2486.0L1940.0 2486.0L1943.0 2486.0L1946.0 2486.0L1949.0 2486.0"/>
</g>
<g stroke="#000" stroke-width="5" stroke-linecap="butt" stroke-linejoin="miter">
<rect x="255.5" y="54.5" width="1945.0" height="2501.5" fill="none"/>
<line x1="223.5" y1="54.5" x2="255.5" y2="54.5"/>
<line x1="239.0" y1="228.2" x2="255.5" y2="228.2"/>
<line x1="223.5" y1="401.9" x2="255.5" y2="401.9"/>
<line x1="239.0" y1="575.7" x2="255.5" y2="575.7"/>
<line x1="223.5" y1="749.4" x2="255.5" y2="749.4"/>
<line x1="239.0" y1="923.1" x2="255.5" y2="923.1"/>
<line x1="223.5" y1="1096.8" x2="255.5" y2="1096.8"/>
<line x1="239.0" y1="1270.5" x2="255.5" y2="1270.5"/>
<line x1="223.5" y1="1444.3" x2="255.5" y2="1444.3"/>
<line x1="239.0" y1="1618.0" x2="255.5" y2="1618.0"/>
<line x1="223.5" y1="1791.7" x2="255.5" y2="1791.7"/>
<line x1="239.0" y1="1965.4" x2="255.5" y2="1965.4"/>
<line x1="223.5" y1="2139.2" x2="255.5" y2="2139.2"/>
<line x1="239.0" y1="2312.9" x2="255.5" y2="2312.9"/>
<line x1="223.5" y1="2486.6" x2="255.5" y2="2486.6"/>
<line x1="255.5" y1="2556.0" x2="255.5" y2="2571.5"/>
<line x1="417.6" y1="2556.0" x2="417.6" y2="2586.0"/>
<line x1="579.7" y1="2556.0" x2="579.7" y2="2571.5"/>
<line x1="741.7" y1="2556.0" x2="741.7" y2="2586.0"/>
<line x1="903.8" y1="2556.0" x2="903.8" y2="2571.5"/>
<line x1="1065.9" y1="2556.0" x2="1065.9" y2="2586.0"/>
<line x1="1228.0" y1="2556.0" x2="1228.0" y2="2571.5"/>
<line x1="1390.0" y1="2556.0" x2="1390.0" y2="2586.0"/>
<line x1="1552.1" y1="2556.0" x2="1552.1" y2="2571.5"/>
<line x1="1714.2" y1="2556.0" x2="1714.2" y2="2586.0"/>
<line x1="1876.2" y1="2556.0" x2="1876.2" y2="2571.5"/>
<line x1="2038.3" y1="2556.0" x2="2038.3" y2="2586.0"/>
<line x1="2200.4" y1="2556.0" x2="2200.4" y2="2571.5"/>
</g>
<g font-family='"Liberation Sans", Arial, sans-serif' fill="#000">
<text transform="translate(417.6 2654.5) scale(1 1.040)" font-size="64" text-anchor="middle">0</text>
<text transform="translate(741.7 2654.5) scale(1 1.040)" font-size="64" text-anchor="middle">200</text>
<text transform="translate(1065.9 2654.5) scale(1 1.040)" font-size="64" text-anchor="middle">400</text>
<text transform="translate(1390.0 2654.5) scale(1 1.040)" font-size="64" text-anchor="middle">600</text>
<text transform="translate(1714.2 2654.5) scale(1 1.040)" font-size="64" text-anchor="middle">800</text>
<text transform="translate(2038.3 2654.5) scale(1 1.040)" font-size="64" text-anchor="middle">1000</text>
<text transform="translate(943.3 2769.2) scale(1 1.040)" font-size="78">Temperature /°C</text>
<text transform="translate(95.0 1622.9) rotate(-90) scale(1 1.040)" font-size="77">H<tspan font-size="47" dx="-1.0" dy="25.8">2</tspan><tspan dx="2.3" dy="-25.8"> consumption /a.u.</tspan></text>
<text transform="translate(1595.1 486.8) scale(1 1.040)" font-size="57">Cu-ZSM-5(0.2)/6h</text>
<text transform="translate(1711.1 777.5) scale(1 1.040)" font-size="57">Cu-ZSM-5/6h</text>
<text transform="translate(1592.2 1013.4) scale(1 1.040)" font-size="57">Cu-ZSM-5(0.2)/4h</text>
<text transform="translate(1709.6 1292.1) scale(1 1.040)" font-size="57">Cu-ZSM-5/4h</text>
<text transform="translate(1592.2 1525.8) scale(1 1.040)" font-size="57">Cu-ZSM-5(0.2)/2h</text>
<text transform="translate(1711.6 1762.5) scale(1 1.040)" font-size="57">Cu-ZSM-5/2h</text>
<text transform="translate(1592.2 1954.7) scale(1 1.040)" font-size="57">Cu-ZSM-5(0.2)/1h</text>
<text transform="translate(1709.6 2190.0) scale(1 1.040)" font-size="57">Cu-ZSM-5/1h</text>
<text transform="translate(1789.7 2448.0) scale(1 1.040)" font-size="57">Cu-ZSM-5</text>
<text transform="scale(1 1.040)"><tspan x="927.0" y="148.6" font-size="55">Cu</tspan><tspan x="994.3" y="112.0" font-size="35">+1</tspan><tspan x="1105.9" y="148.6" font-size="55">Cu</tspan><tspan x="1172.6" y="112.3" font-size="35">0</tspan></text>
<text transform="scale(1 1.040)"><tspan x="684.5" y="245.7" font-size="55">Cu</tspan><tspan x="753.7" y="209.9" font-size="35">2+</tspan><tspan x="883.4" y="245.7" font-size="55">Cu</tspan><tspan x="952.3" y="209.9" font-size="35">+1</tspan></text>
<text transform="scale(1 1.040)"><tspan x="595.0" y="2265.4" font-size="55">Cu</tspan><tspan x="661.4" y="2227.9" font-size="35">2+</tspan><tspan x="796.0" y="2265.4" font-size="55">Cu</tspan><tspan x="863.4" y="2227.9" font-size="35">+1</tspan></text>
<text transform="scale(1 1.040)"><tspan x="971.1" y="2245.8" font-size="55">CuO</tspan><tspan x="1182.9" y="2245.8" font-size="55">Cu</tspan><tspan x="1249.3" y="2209.6" font-size="35">0</tspan></text>
<text transform="scale(1 1.040)"><tspan x="1303.7" y="2241.9" font-size="55">Cu</tspan><tspan x="1370.2" y="2203.7" font-size="35">+1</tspan><tspan x="1482.0" y="2241.9" font-size="55">Cu</tspan><tspan x="1546.7" y="2203.1" font-size="35">0</tspan></text>
</g>
<g fill="none" stroke="#000" stroke-width="4" stroke-linejoin="miter" stroke-miterlimit="10">
<path d="M1018.4 135.1H1085.6" stroke-width="3.8"/>
<path d="M1066.1 115.0L1087.1 135.1L1066.1 155.2" stroke-width="4.6"/>
<path d="M796.8 234.6H864.0" stroke-width="3.8"/>
<path d="M844.0 213.6L865.5 234.6L844.0 255.6" stroke-width="4.6"/>
<path d="M704.8 2335.3H774.0" stroke-width="3.8"/>
<path d="M753.3 2314.5L775.5 2335.3L753.3 2356.1" stroke-width="4.6"/>
<path d="M1095.6 2317.1H1165.9" stroke-width="3.8"/>
<path d="M1144.2 2297.3L1167.4 2317.1L1144.2 2336.9" stroke-width="4.6"/>
<path d="M1394.7 2310.5H1462.9" stroke-width="3.8"/>
<path d="M1443.2 2289.7L1464.4 2310.5L1443.2 2331.3" stroke-width="4.6"/>
</g>
<line x1="802.6" y1="277.8" x2="825.0" y2="298.4" stroke="#000" stroke-width="2.2"/>
<polygon points="830.8,292.3 819.1,304.4 852.9,322.8" fill="#000"/>
<line x1="1070.1" y1="204.4" x2="1060.3" y2="229.4" stroke="#000" stroke-width="2.2"/>
<polygon points="1051.7,225.9 1068.9,232.9 1048.2,264.6" fill="#000"/>
<line x1="765.1" y1="2372.6" x2="825.5" y2="2401.7" stroke="#000" stroke-width="2.2"/>
<polygon points="828.5,2393.8 822.6,2409.6 859.2,2417.5" fill="#000"/>
<line x1="1099.6" y1="2353.2" x2="1079.3" y2="2395.8" stroke="#000" stroke-width="2.2"/>
<polygon points="1070.9,2391.8 1087.7,2399.7 1063.0,2428.4" fill="#000"/>
<line x1="1347.1" y1="2350.1" x2="1313.5" y2="2379.8" stroke="#000" stroke-width="2.2"/>
<polygon points="1307.5,2373.9 1319.4,2385.7 1283.8,2402.6" fill="#000"/>
</svg>
</body></html>
